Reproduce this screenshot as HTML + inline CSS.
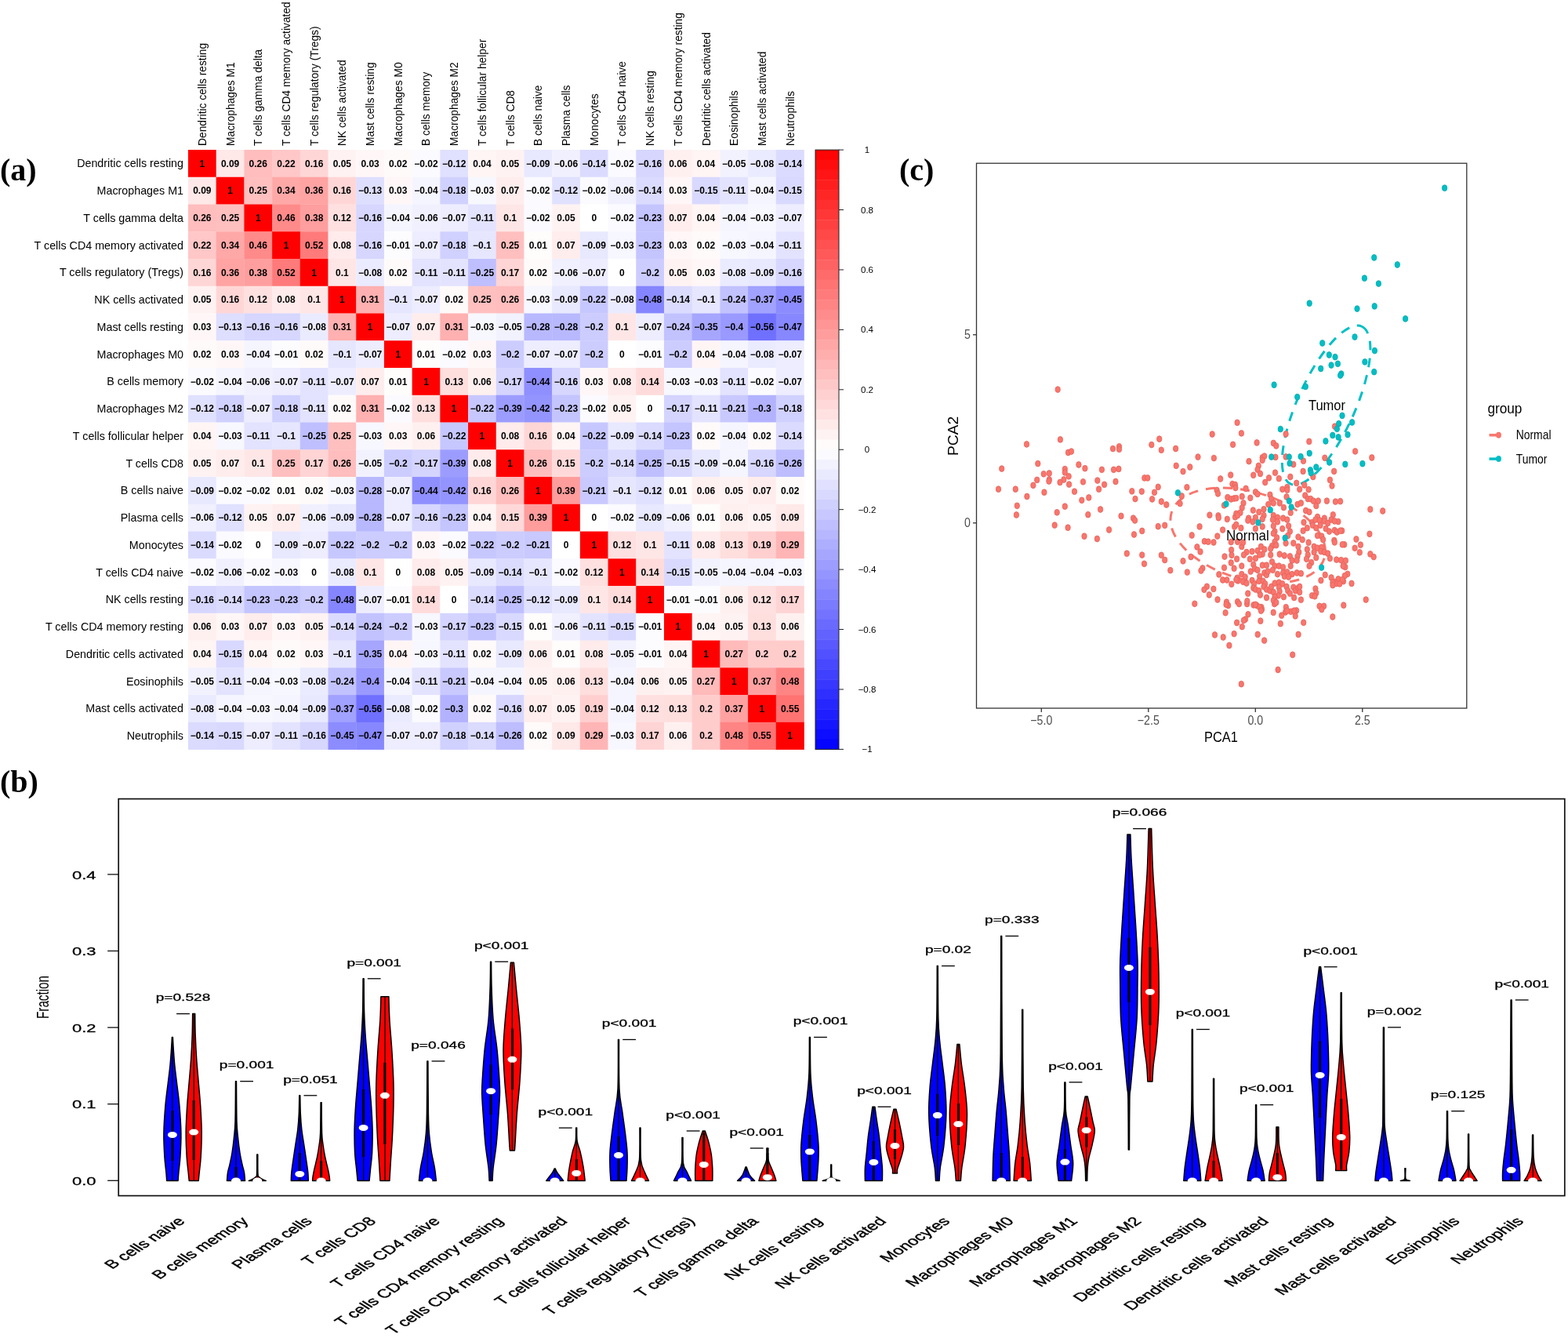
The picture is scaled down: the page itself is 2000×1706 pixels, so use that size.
<!DOCTYPE html><html><head><meta charset="utf-8"><style>html,body{margin:0;padding:0;background:#fff;width:2000px;height:1706px;overflow:hidden}svg{display:block}text{font-family:"Liberation Sans",Arial,sans-serif}.lab{font-family:"Liberation Serif","Times New Roman",serif;font-weight:bold;font-size:40px}</style></head><body>
<svg width="2000" height="1706" viewBox="0 0 2000 1706">
<rect width="2000" height="1706" fill="#fff"/>
<text class="lab" x="0" y="229.5">(a)</text>
<text class="lab" x="1147" y="229.5">(c)</text>
<text class="lab" x="0" y="1010">(b)</text>
<g>
<rect x="240.00" y="191.00" width="36.00" height="35.05" fill="#ff0000"/>
<rect x="275.70" y="191.00" width="36.00" height="35.05" fill="#ffe8e8"/>
<rect x="311.41" y="191.00" width="36.00" height="35.05" fill="#ffbdbd"/>
<rect x="347.11" y="191.00" width="36.00" height="35.05" fill="#ffc7c7"/>
<rect x="382.82" y="191.00" width="36.00" height="35.05" fill="#ffd6d6"/>
<rect x="418.52" y="191.00" width="36.00" height="35.05" fill="#fff2f2"/>
<rect x="454.23" y="191.00" width="36.00" height="35.05" fill="#fff7f7"/>
<rect x="489.93" y="191.00" width="36.00" height="35.05" fill="#fffafa"/>
<rect x="525.64" y="191.00" width="36.00" height="35.05" fill="#fafaff"/>
<rect x="561.34" y="191.00" width="36.00" height="35.05" fill="#e0e0ff"/>
<rect x="597.05" y="191.00" width="36.00" height="35.05" fill="#fff5f5"/>
<rect x="632.75" y="191.00" width="36.00" height="35.05" fill="#fff2f2"/>
<rect x="668.45" y="191.00" width="36.00" height="35.05" fill="#e8e8ff"/>
<rect x="704.16" y="191.00" width="36.00" height="35.05" fill="#f0f0ff"/>
<rect x="739.86" y="191.00" width="36.00" height="35.05" fill="#dbdbff"/>
<rect x="775.57" y="191.00" width="36.00" height="35.05" fill="#fafaff"/>
<rect x="811.27" y="191.00" width="36.00" height="35.05" fill="#d6d6ff"/>
<rect x="846.98" y="191.00" width="36.00" height="35.05" fill="#fff0f0"/>
<rect x="882.68" y="191.00" width="36.00" height="35.05" fill="#fff5f5"/>
<rect x="918.39" y="191.00" width="36.00" height="35.05" fill="#f2f2ff"/>
<rect x="954.09" y="191.00" width="36.00" height="35.05" fill="#ebebff"/>
<rect x="989.80" y="191.00" width="36.00" height="35.05" fill="#dbdbff"/>
<rect x="240.00" y="225.75" width="36.00" height="35.05" fill="#ffe8e8"/>
<rect x="275.70" y="225.75" width="36.00" height="35.05" fill="#ff0000"/>
<rect x="311.41" y="225.75" width="36.00" height="35.05" fill="#ffbfbf"/>
<rect x="347.11" y="225.75" width="36.00" height="35.05" fill="#ffa8a8"/>
<rect x="382.82" y="225.75" width="36.00" height="35.05" fill="#ffa3a3"/>
<rect x="418.52" y="225.75" width="36.00" height="35.05" fill="#ffd6d6"/>
<rect x="454.23" y="225.75" width="36.00" height="35.05" fill="#dedeff"/>
<rect x="489.93" y="225.75" width="36.00" height="35.05" fill="#fff7f7"/>
<rect x="525.64" y="225.75" width="36.00" height="35.05" fill="#f5f5ff"/>
<rect x="561.34" y="225.75" width="36.00" height="35.05" fill="#d1d1ff"/>
<rect x="597.05" y="225.75" width="36.00" height="35.05" fill="#f7f7ff"/>
<rect x="632.75" y="225.75" width="36.00" height="35.05" fill="#ffeded"/>
<rect x="668.45" y="225.75" width="36.00" height="35.05" fill="#fafaff"/>
<rect x="704.16" y="225.75" width="36.00" height="35.05" fill="#e0e0ff"/>
<rect x="739.86" y="225.75" width="36.00" height="35.05" fill="#fafaff"/>
<rect x="775.57" y="225.75" width="36.00" height="35.05" fill="#f0f0ff"/>
<rect x="811.27" y="225.75" width="36.00" height="35.05" fill="#dbdbff"/>
<rect x="846.98" y="225.75" width="36.00" height="35.05" fill="#fff7f7"/>
<rect x="882.68" y="225.75" width="36.00" height="35.05" fill="#d9d9ff"/>
<rect x="918.39" y="225.75" width="36.00" height="35.05" fill="#e3e3ff"/>
<rect x="954.09" y="225.75" width="36.00" height="35.05" fill="#f5f5ff"/>
<rect x="989.80" y="225.75" width="36.00" height="35.05" fill="#d9d9ff"/>
<rect x="240.00" y="260.51" width="36.00" height="35.05" fill="#ffbdbd"/>
<rect x="275.70" y="260.51" width="36.00" height="35.05" fill="#ffbfbf"/>
<rect x="311.41" y="260.51" width="36.00" height="35.05" fill="#ff0000"/>
<rect x="347.11" y="260.51" width="36.00" height="35.05" fill="#ff8a8a"/>
<rect x="382.82" y="260.51" width="36.00" height="35.05" fill="#ff9e9e"/>
<rect x="418.52" y="260.51" width="36.00" height="35.05" fill="#ffe0e0"/>
<rect x="454.23" y="260.51" width="36.00" height="35.05" fill="#d6d6ff"/>
<rect x="489.93" y="260.51" width="36.00" height="35.05" fill="#f5f5ff"/>
<rect x="525.64" y="260.51" width="36.00" height="35.05" fill="#f0f0ff"/>
<rect x="561.34" y="260.51" width="36.00" height="35.05" fill="#ededff"/>
<rect x="597.05" y="260.51" width="36.00" height="35.05" fill="#e3e3ff"/>
<rect x="632.75" y="260.51" width="36.00" height="35.05" fill="#ffe6e6"/>
<rect x="668.45" y="260.51" width="36.00" height="35.05" fill="#fafaff"/>
<rect x="704.16" y="260.51" width="36.00" height="35.05" fill="#fff2f2"/>
<rect x="739.86" y="260.51" width="36.00" height="35.05" fill="#ffffff"/>
<rect x="775.57" y="260.51" width="36.00" height="35.05" fill="#fafaff"/>
<rect x="811.27" y="260.51" width="36.00" height="35.05" fill="#c4c4ff"/>
<rect x="846.98" y="260.51" width="36.00" height="35.05" fill="#ffeded"/>
<rect x="882.68" y="260.51" width="36.00" height="35.05" fill="#fff5f5"/>
<rect x="918.39" y="260.51" width="36.00" height="35.05" fill="#f5f5ff"/>
<rect x="954.09" y="260.51" width="36.00" height="35.05" fill="#f7f7ff"/>
<rect x="989.80" y="260.51" width="36.00" height="35.05" fill="#ededff"/>
<rect x="240.00" y="295.26" width="36.00" height="35.05" fill="#ffc7c7"/>
<rect x="275.70" y="295.26" width="36.00" height="35.05" fill="#ffa8a8"/>
<rect x="311.41" y="295.26" width="36.00" height="35.05" fill="#ff8a8a"/>
<rect x="347.11" y="295.26" width="36.00" height="35.05" fill="#ff0000"/>
<rect x="382.82" y="295.26" width="36.00" height="35.05" fill="#ff7a7a"/>
<rect x="418.52" y="295.26" width="36.00" height="35.05" fill="#ffebeb"/>
<rect x="454.23" y="295.26" width="36.00" height="35.05" fill="#d6d6ff"/>
<rect x="489.93" y="295.26" width="36.00" height="35.05" fill="#fcfcff"/>
<rect x="525.64" y="295.26" width="36.00" height="35.05" fill="#ededff"/>
<rect x="561.34" y="295.26" width="36.00" height="35.05" fill="#d1d1ff"/>
<rect x="597.05" y="295.26" width="36.00" height="35.05" fill="#e6e6ff"/>
<rect x="632.75" y="295.26" width="36.00" height="35.05" fill="#ffbfbf"/>
<rect x="668.45" y="295.26" width="36.00" height="35.05" fill="#fffcfc"/>
<rect x="704.16" y="295.26" width="36.00" height="35.05" fill="#ffeded"/>
<rect x="739.86" y="295.26" width="36.00" height="35.05" fill="#e8e8ff"/>
<rect x="775.57" y="295.26" width="36.00" height="35.05" fill="#f7f7ff"/>
<rect x="811.27" y="295.26" width="36.00" height="35.05" fill="#c4c4ff"/>
<rect x="846.98" y="295.26" width="36.00" height="35.05" fill="#fff7f7"/>
<rect x="882.68" y="295.26" width="36.00" height="35.05" fill="#fffafa"/>
<rect x="918.39" y="295.26" width="36.00" height="35.05" fill="#f7f7ff"/>
<rect x="954.09" y="295.26" width="36.00" height="35.05" fill="#f5f5ff"/>
<rect x="989.80" y="295.26" width="36.00" height="35.05" fill="#e3e3ff"/>
<rect x="240.00" y="330.02" width="36.00" height="35.05" fill="#ffd6d6"/>
<rect x="275.70" y="330.02" width="36.00" height="35.05" fill="#ffa3a3"/>
<rect x="311.41" y="330.02" width="36.00" height="35.05" fill="#ff9e9e"/>
<rect x="347.11" y="330.02" width="36.00" height="35.05" fill="#ff7a7a"/>
<rect x="382.82" y="330.02" width="36.00" height="35.05" fill="#ff0000"/>
<rect x="418.52" y="330.02" width="36.00" height="35.05" fill="#ffe6e6"/>
<rect x="454.23" y="330.02" width="36.00" height="35.05" fill="#ebebff"/>
<rect x="489.93" y="330.02" width="36.00" height="35.05" fill="#fffafa"/>
<rect x="525.64" y="330.02" width="36.00" height="35.05" fill="#e3e3ff"/>
<rect x="561.34" y="330.02" width="36.00" height="35.05" fill="#e3e3ff"/>
<rect x="597.05" y="330.02" width="36.00" height="35.05" fill="#bfbfff"/>
<rect x="632.75" y="330.02" width="36.00" height="35.05" fill="#ffd4d4"/>
<rect x="668.45" y="330.02" width="36.00" height="35.05" fill="#fffafa"/>
<rect x="704.16" y="330.02" width="36.00" height="35.05" fill="#f0f0ff"/>
<rect x="739.86" y="330.02" width="36.00" height="35.05" fill="#ededff"/>
<rect x="775.57" y="330.02" width="36.00" height="35.05" fill="#ffffff"/>
<rect x="811.27" y="330.02" width="36.00" height="35.05" fill="#ccccff"/>
<rect x="846.98" y="330.02" width="36.00" height="35.05" fill="#fff2f2"/>
<rect x="882.68" y="330.02" width="36.00" height="35.05" fill="#fff7f7"/>
<rect x="918.39" y="330.02" width="36.00" height="35.05" fill="#ebebff"/>
<rect x="954.09" y="330.02" width="36.00" height="35.05" fill="#e8e8ff"/>
<rect x="989.80" y="330.02" width="36.00" height="35.05" fill="#d6d6ff"/>
<rect x="240.00" y="364.77" width="36.00" height="35.05" fill="#fff2f2"/>
<rect x="275.70" y="364.77" width="36.00" height="35.05" fill="#ffd6d6"/>
<rect x="311.41" y="364.77" width="36.00" height="35.05" fill="#ffe0e0"/>
<rect x="347.11" y="364.77" width="36.00" height="35.05" fill="#ffebeb"/>
<rect x="382.82" y="364.77" width="36.00" height="35.05" fill="#ffe6e6"/>
<rect x="418.52" y="364.77" width="36.00" height="35.05" fill="#ff0000"/>
<rect x="454.23" y="364.77" width="36.00" height="35.05" fill="#ffb0b0"/>
<rect x="489.93" y="364.77" width="36.00" height="35.05" fill="#e6e6ff"/>
<rect x="525.64" y="364.77" width="36.00" height="35.05" fill="#ededff"/>
<rect x="561.34" y="364.77" width="36.00" height="35.05" fill="#fffafa"/>
<rect x="597.05" y="364.77" width="36.00" height="35.05" fill="#ffbfbf"/>
<rect x="632.75" y="364.77" width="36.00" height="35.05" fill="#ffbdbd"/>
<rect x="668.45" y="364.77" width="36.00" height="35.05" fill="#f7f7ff"/>
<rect x="704.16" y="364.77" width="36.00" height="35.05" fill="#e8e8ff"/>
<rect x="739.86" y="364.77" width="36.00" height="35.05" fill="#c7c7ff"/>
<rect x="775.57" y="364.77" width="36.00" height="35.05" fill="#ebebff"/>
<rect x="811.27" y="364.77" width="36.00" height="35.05" fill="#8585ff"/>
<rect x="846.98" y="364.77" width="36.00" height="35.05" fill="#dbdbff"/>
<rect x="882.68" y="364.77" width="36.00" height="35.05" fill="#e6e6ff"/>
<rect x="918.39" y="364.77" width="36.00" height="35.05" fill="#c2c2ff"/>
<rect x="954.09" y="364.77" width="36.00" height="35.05" fill="#a1a1ff"/>
<rect x="989.80" y="364.77" width="36.00" height="35.05" fill="#8c8cff"/>
<rect x="240.00" y="399.53" width="36.00" height="35.05" fill="#fff7f7"/>
<rect x="275.70" y="399.53" width="36.00" height="35.05" fill="#dedeff"/>
<rect x="311.41" y="399.53" width="36.00" height="35.05" fill="#d6d6ff"/>
<rect x="347.11" y="399.53" width="36.00" height="35.05" fill="#d6d6ff"/>
<rect x="382.82" y="399.53" width="36.00" height="35.05" fill="#ebebff"/>
<rect x="418.52" y="399.53" width="36.00" height="35.05" fill="#ffb0b0"/>
<rect x="454.23" y="399.53" width="36.00" height="35.05" fill="#ff0000"/>
<rect x="489.93" y="399.53" width="36.00" height="35.05" fill="#ededff"/>
<rect x="525.64" y="399.53" width="36.00" height="35.05" fill="#ffeded"/>
<rect x="561.34" y="399.53" width="36.00" height="35.05" fill="#ffb0b0"/>
<rect x="597.05" y="399.53" width="36.00" height="35.05" fill="#f7f7ff"/>
<rect x="632.75" y="399.53" width="36.00" height="35.05" fill="#f2f2ff"/>
<rect x="668.45" y="399.53" width="36.00" height="35.05" fill="#b8b8ff"/>
<rect x="704.16" y="399.53" width="36.00" height="35.05" fill="#b8b8ff"/>
<rect x="739.86" y="399.53" width="36.00" height="35.05" fill="#ccccff"/>
<rect x="775.57" y="399.53" width="36.00" height="35.05" fill="#ffe6e6"/>
<rect x="811.27" y="399.53" width="36.00" height="35.05" fill="#ededff"/>
<rect x="846.98" y="399.53" width="36.00" height="35.05" fill="#c2c2ff"/>
<rect x="882.68" y="399.53" width="36.00" height="35.05" fill="#a6a6ff"/>
<rect x="918.39" y="399.53" width="36.00" height="35.05" fill="#9999ff"/>
<rect x="954.09" y="399.53" width="36.00" height="35.05" fill="#7070ff"/>
<rect x="989.80" y="399.53" width="36.00" height="35.05" fill="#8787ff"/>
<rect x="240.00" y="434.28" width="36.00" height="35.05" fill="#fffafa"/>
<rect x="275.70" y="434.28" width="36.00" height="35.05" fill="#fff7f7"/>
<rect x="311.41" y="434.28" width="36.00" height="35.05" fill="#f5f5ff"/>
<rect x="347.11" y="434.28" width="36.00" height="35.05" fill="#fcfcff"/>
<rect x="382.82" y="434.28" width="36.00" height="35.05" fill="#fffafa"/>
<rect x="418.52" y="434.28" width="36.00" height="35.05" fill="#e6e6ff"/>
<rect x="454.23" y="434.28" width="36.00" height="35.05" fill="#ededff"/>
<rect x="489.93" y="434.28" width="36.00" height="35.05" fill="#ff0000"/>
<rect x="525.64" y="434.28" width="36.00" height="35.05" fill="#fffcfc"/>
<rect x="561.34" y="434.28" width="36.00" height="35.05" fill="#fafaff"/>
<rect x="597.05" y="434.28" width="36.00" height="35.05" fill="#fff7f7"/>
<rect x="632.75" y="434.28" width="36.00" height="35.05" fill="#ccccff"/>
<rect x="668.45" y="434.28" width="36.00" height="35.05" fill="#ededff"/>
<rect x="704.16" y="434.28" width="36.00" height="35.05" fill="#ededff"/>
<rect x="739.86" y="434.28" width="36.00" height="35.05" fill="#ccccff"/>
<rect x="775.57" y="434.28" width="36.00" height="35.05" fill="#ffffff"/>
<rect x="811.27" y="434.28" width="36.00" height="35.05" fill="#fcfcff"/>
<rect x="846.98" y="434.28" width="36.00" height="35.05" fill="#ccccff"/>
<rect x="882.68" y="434.28" width="36.00" height="35.05" fill="#fff5f5"/>
<rect x="918.39" y="434.28" width="36.00" height="35.05" fill="#f5f5ff"/>
<rect x="954.09" y="434.28" width="36.00" height="35.05" fill="#ebebff"/>
<rect x="989.80" y="434.28" width="36.00" height="35.05" fill="#ededff"/>
<rect x="240.00" y="469.04" width="36.00" height="35.05" fill="#fafaff"/>
<rect x="275.70" y="469.04" width="36.00" height="35.05" fill="#f5f5ff"/>
<rect x="311.41" y="469.04" width="36.00" height="35.05" fill="#f0f0ff"/>
<rect x="347.11" y="469.04" width="36.00" height="35.05" fill="#ededff"/>
<rect x="382.82" y="469.04" width="36.00" height="35.05" fill="#e3e3ff"/>
<rect x="418.52" y="469.04" width="36.00" height="35.05" fill="#ededff"/>
<rect x="454.23" y="469.04" width="36.00" height="35.05" fill="#ffeded"/>
<rect x="489.93" y="469.04" width="36.00" height="35.05" fill="#fffcfc"/>
<rect x="525.64" y="469.04" width="36.00" height="35.05" fill="#ff0000"/>
<rect x="561.34" y="469.04" width="36.00" height="35.05" fill="#ffdede"/>
<rect x="597.05" y="469.04" width="36.00" height="35.05" fill="#fff0f0"/>
<rect x="632.75" y="469.04" width="36.00" height="35.05" fill="#d4d4ff"/>
<rect x="668.45" y="469.04" width="36.00" height="35.05" fill="#8f8fff"/>
<rect x="704.16" y="469.04" width="36.00" height="35.05" fill="#d6d6ff"/>
<rect x="739.86" y="469.04" width="36.00" height="35.05" fill="#fff7f7"/>
<rect x="775.57" y="469.04" width="36.00" height="35.05" fill="#ffebeb"/>
<rect x="811.27" y="469.04" width="36.00" height="35.05" fill="#ffdbdb"/>
<rect x="846.98" y="469.04" width="36.00" height="35.05" fill="#f7f7ff"/>
<rect x="882.68" y="469.04" width="36.00" height="35.05" fill="#f7f7ff"/>
<rect x="918.39" y="469.04" width="36.00" height="35.05" fill="#e3e3ff"/>
<rect x="954.09" y="469.04" width="36.00" height="35.05" fill="#fafaff"/>
<rect x="989.80" y="469.04" width="36.00" height="35.05" fill="#ededff"/>
<rect x="240.00" y="503.79" width="36.00" height="35.05" fill="#e0e0ff"/>
<rect x="275.70" y="503.79" width="36.00" height="35.05" fill="#d1d1ff"/>
<rect x="311.41" y="503.79" width="36.00" height="35.05" fill="#ededff"/>
<rect x="347.11" y="503.79" width="36.00" height="35.05" fill="#d1d1ff"/>
<rect x="382.82" y="503.79" width="36.00" height="35.05" fill="#e3e3ff"/>
<rect x="418.52" y="503.79" width="36.00" height="35.05" fill="#fffafa"/>
<rect x="454.23" y="503.79" width="36.00" height="35.05" fill="#ffb0b0"/>
<rect x="489.93" y="503.79" width="36.00" height="35.05" fill="#fafaff"/>
<rect x="525.64" y="503.79" width="36.00" height="35.05" fill="#ffdede"/>
<rect x="561.34" y="503.79" width="36.00" height="35.05" fill="#ff0000"/>
<rect x="597.05" y="503.79" width="36.00" height="35.05" fill="#c7c7ff"/>
<rect x="632.75" y="503.79" width="36.00" height="35.05" fill="#9c9cff"/>
<rect x="668.45" y="503.79" width="36.00" height="35.05" fill="#9494ff"/>
<rect x="704.16" y="503.79" width="36.00" height="35.05" fill="#c4c4ff"/>
<rect x="739.86" y="503.79" width="36.00" height="35.05" fill="#fafaff"/>
<rect x="775.57" y="503.79" width="36.00" height="35.05" fill="#fff2f2"/>
<rect x="811.27" y="503.79" width="36.00" height="35.05" fill="#ffffff"/>
<rect x="846.98" y="503.79" width="36.00" height="35.05" fill="#d4d4ff"/>
<rect x="882.68" y="503.79" width="36.00" height="35.05" fill="#e3e3ff"/>
<rect x="918.39" y="503.79" width="36.00" height="35.05" fill="#c9c9ff"/>
<rect x="954.09" y="503.79" width="36.00" height="35.05" fill="#b2b2ff"/>
<rect x="989.80" y="503.79" width="36.00" height="35.05" fill="#d1d1ff"/>
<rect x="240.00" y="538.55" width="36.00" height="35.05" fill="#fff5f5"/>
<rect x="275.70" y="538.55" width="36.00" height="35.05" fill="#f7f7ff"/>
<rect x="311.41" y="538.55" width="36.00" height="35.05" fill="#e3e3ff"/>
<rect x="347.11" y="538.55" width="36.00" height="35.05" fill="#e6e6ff"/>
<rect x="382.82" y="538.55" width="36.00" height="35.05" fill="#bfbfff"/>
<rect x="418.52" y="538.55" width="36.00" height="35.05" fill="#ffbfbf"/>
<rect x="454.23" y="538.55" width="36.00" height="35.05" fill="#f7f7ff"/>
<rect x="489.93" y="538.55" width="36.00" height="35.05" fill="#fff7f7"/>
<rect x="525.64" y="538.55" width="36.00" height="35.05" fill="#fff0f0"/>
<rect x="561.34" y="538.55" width="36.00" height="35.05" fill="#c7c7ff"/>
<rect x="597.05" y="538.55" width="36.00" height="35.05" fill="#ff0000"/>
<rect x="632.75" y="538.55" width="36.00" height="35.05" fill="#ffebeb"/>
<rect x="668.45" y="538.55" width="36.00" height="35.05" fill="#ffd6d6"/>
<rect x="704.16" y="538.55" width="36.00" height="35.05" fill="#fff5f5"/>
<rect x="739.86" y="538.55" width="36.00" height="35.05" fill="#c7c7ff"/>
<rect x="775.57" y="538.55" width="36.00" height="35.05" fill="#e8e8ff"/>
<rect x="811.27" y="538.55" width="36.00" height="35.05" fill="#dbdbff"/>
<rect x="846.98" y="538.55" width="36.00" height="35.05" fill="#c4c4ff"/>
<rect x="882.68" y="538.55" width="36.00" height="35.05" fill="#fffafa"/>
<rect x="918.39" y="538.55" width="36.00" height="35.05" fill="#f5f5ff"/>
<rect x="954.09" y="538.55" width="36.00" height="35.05" fill="#fffafa"/>
<rect x="989.80" y="538.55" width="36.00" height="35.05" fill="#dbdbff"/>
<rect x="240.00" y="573.30" width="36.00" height="35.05" fill="#fff2f2"/>
<rect x="275.70" y="573.30" width="36.00" height="35.05" fill="#ffeded"/>
<rect x="311.41" y="573.30" width="36.00" height="35.05" fill="#ffe6e6"/>
<rect x="347.11" y="573.30" width="36.00" height="35.05" fill="#ffbfbf"/>
<rect x="382.82" y="573.30" width="36.00" height="35.05" fill="#ffd4d4"/>
<rect x="418.52" y="573.30" width="36.00" height="35.05" fill="#ffbdbd"/>
<rect x="454.23" y="573.30" width="36.00" height="35.05" fill="#f2f2ff"/>
<rect x="489.93" y="573.30" width="36.00" height="35.05" fill="#ccccff"/>
<rect x="525.64" y="573.30" width="36.00" height="35.05" fill="#d4d4ff"/>
<rect x="561.34" y="573.30" width="36.00" height="35.05" fill="#9c9cff"/>
<rect x="597.05" y="573.30" width="36.00" height="35.05" fill="#ffebeb"/>
<rect x="632.75" y="573.30" width="36.00" height="35.05" fill="#ff0000"/>
<rect x="668.45" y="573.30" width="36.00" height="35.05" fill="#ffbdbd"/>
<rect x="704.16" y="573.30" width="36.00" height="35.05" fill="#ffd9d9"/>
<rect x="739.86" y="573.30" width="36.00" height="35.05" fill="#ccccff"/>
<rect x="775.57" y="573.30" width="36.00" height="35.05" fill="#dbdbff"/>
<rect x="811.27" y="573.30" width="36.00" height="35.05" fill="#bfbfff"/>
<rect x="846.98" y="573.30" width="36.00" height="35.05" fill="#d9d9ff"/>
<rect x="882.68" y="573.30" width="36.00" height="35.05" fill="#e8e8ff"/>
<rect x="918.39" y="573.30" width="36.00" height="35.05" fill="#f5f5ff"/>
<rect x="954.09" y="573.30" width="36.00" height="35.05" fill="#d6d6ff"/>
<rect x="989.80" y="573.30" width="36.00" height="35.05" fill="#bdbdff"/>
<rect x="240.00" y="608.05" width="36.00" height="35.05" fill="#e8e8ff"/>
<rect x="275.70" y="608.05" width="36.00" height="35.05" fill="#fafaff"/>
<rect x="311.41" y="608.05" width="36.00" height="35.05" fill="#fafaff"/>
<rect x="347.11" y="608.05" width="36.00" height="35.05" fill="#fffcfc"/>
<rect x="382.82" y="608.05" width="36.00" height="35.05" fill="#fffafa"/>
<rect x="418.52" y="608.05" width="36.00" height="35.05" fill="#f7f7ff"/>
<rect x="454.23" y="608.05" width="36.00" height="35.05" fill="#b8b8ff"/>
<rect x="489.93" y="608.05" width="36.00" height="35.05" fill="#ededff"/>
<rect x="525.64" y="608.05" width="36.00" height="35.05" fill="#8f8fff"/>
<rect x="561.34" y="608.05" width="36.00" height="35.05" fill="#9494ff"/>
<rect x="597.05" y="608.05" width="36.00" height="35.05" fill="#ffd6d6"/>
<rect x="632.75" y="608.05" width="36.00" height="35.05" fill="#ffbdbd"/>
<rect x="668.45" y="608.05" width="36.00" height="35.05" fill="#ff0000"/>
<rect x="704.16" y="608.05" width="36.00" height="35.05" fill="#ff9c9c"/>
<rect x="739.86" y="608.05" width="36.00" height="35.05" fill="#c9c9ff"/>
<rect x="775.57" y="608.05" width="36.00" height="35.05" fill="#e6e6ff"/>
<rect x="811.27" y="608.05" width="36.00" height="35.05" fill="#e0e0ff"/>
<rect x="846.98" y="608.05" width="36.00" height="35.05" fill="#fffcfc"/>
<rect x="882.68" y="608.05" width="36.00" height="35.05" fill="#fff0f0"/>
<rect x="918.39" y="608.05" width="36.00" height="35.05" fill="#fff2f2"/>
<rect x="954.09" y="608.05" width="36.00" height="35.05" fill="#ffeded"/>
<rect x="989.80" y="608.05" width="36.00" height="35.05" fill="#fffafa"/>
<rect x="240.00" y="642.81" width="36.00" height="35.05" fill="#f0f0ff"/>
<rect x="275.70" y="642.81" width="36.00" height="35.05" fill="#e0e0ff"/>
<rect x="311.41" y="642.81" width="36.00" height="35.05" fill="#fff2f2"/>
<rect x="347.11" y="642.81" width="36.00" height="35.05" fill="#ffeded"/>
<rect x="382.82" y="642.81" width="36.00" height="35.05" fill="#f0f0ff"/>
<rect x="418.52" y="642.81" width="36.00" height="35.05" fill="#e8e8ff"/>
<rect x="454.23" y="642.81" width="36.00" height="35.05" fill="#b8b8ff"/>
<rect x="489.93" y="642.81" width="36.00" height="35.05" fill="#ededff"/>
<rect x="525.64" y="642.81" width="36.00" height="35.05" fill="#d6d6ff"/>
<rect x="561.34" y="642.81" width="36.00" height="35.05" fill="#c4c4ff"/>
<rect x="597.05" y="642.81" width="36.00" height="35.05" fill="#fff5f5"/>
<rect x="632.75" y="642.81" width="36.00" height="35.05" fill="#ffd9d9"/>
<rect x="668.45" y="642.81" width="36.00" height="35.05" fill="#ff9c9c"/>
<rect x="704.16" y="642.81" width="36.00" height="35.05" fill="#ff0000"/>
<rect x="739.86" y="642.81" width="36.00" height="35.05" fill="#ffffff"/>
<rect x="775.57" y="642.81" width="36.00" height="35.05" fill="#fafaff"/>
<rect x="811.27" y="642.81" width="36.00" height="35.05" fill="#e8e8ff"/>
<rect x="846.98" y="642.81" width="36.00" height="35.05" fill="#f0f0ff"/>
<rect x="882.68" y="642.81" width="36.00" height="35.05" fill="#fffcfc"/>
<rect x="918.39" y="642.81" width="36.00" height="35.05" fill="#fff0f0"/>
<rect x="954.09" y="642.81" width="36.00" height="35.05" fill="#fff2f2"/>
<rect x="989.80" y="642.81" width="36.00" height="35.05" fill="#ffe8e8"/>
<rect x="240.00" y="677.56" width="36.00" height="35.05" fill="#dbdbff"/>
<rect x="275.70" y="677.56" width="36.00" height="35.05" fill="#fafaff"/>
<rect x="311.41" y="677.56" width="36.00" height="35.05" fill="#ffffff"/>
<rect x="347.11" y="677.56" width="36.00" height="35.05" fill="#e8e8ff"/>
<rect x="382.82" y="677.56" width="36.00" height="35.05" fill="#ededff"/>
<rect x="418.52" y="677.56" width="36.00" height="35.05" fill="#c7c7ff"/>
<rect x="454.23" y="677.56" width="36.00" height="35.05" fill="#ccccff"/>
<rect x="489.93" y="677.56" width="36.00" height="35.05" fill="#ccccff"/>
<rect x="525.64" y="677.56" width="36.00" height="35.05" fill="#fff7f7"/>
<rect x="561.34" y="677.56" width="36.00" height="35.05" fill="#fafaff"/>
<rect x="597.05" y="677.56" width="36.00" height="35.05" fill="#c7c7ff"/>
<rect x="632.75" y="677.56" width="36.00" height="35.05" fill="#ccccff"/>
<rect x="668.45" y="677.56" width="36.00" height="35.05" fill="#c9c9ff"/>
<rect x="704.16" y="677.56" width="36.00" height="35.05" fill="#ffffff"/>
<rect x="739.86" y="677.56" width="36.00" height="35.05" fill="#ff0000"/>
<rect x="775.57" y="677.56" width="36.00" height="35.05" fill="#ffe0e0"/>
<rect x="811.27" y="677.56" width="36.00" height="35.05" fill="#ffe6e6"/>
<rect x="846.98" y="677.56" width="36.00" height="35.05" fill="#e3e3ff"/>
<rect x="882.68" y="677.56" width="36.00" height="35.05" fill="#ffebeb"/>
<rect x="918.39" y="677.56" width="36.00" height="35.05" fill="#ffdede"/>
<rect x="954.09" y="677.56" width="36.00" height="35.05" fill="#ffcfcf"/>
<rect x="989.80" y="677.56" width="36.00" height="35.05" fill="#ffb5b5"/>
<rect x="240.00" y="712.32" width="36.00" height="35.05" fill="#fafaff"/>
<rect x="275.70" y="712.32" width="36.00" height="35.05" fill="#f0f0ff"/>
<rect x="311.41" y="712.32" width="36.00" height="35.05" fill="#fafaff"/>
<rect x="347.11" y="712.32" width="36.00" height="35.05" fill="#f7f7ff"/>
<rect x="382.82" y="712.32" width="36.00" height="35.05" fill="#ffffff"/>
<rect x="418.52" y="712.32" width="36.00" height="35.05" fill="#ebebff"/>
<rect x="454.23" y="712.32" width="36.00" height="35.05" fill="#ffe6e6"/>
<rect x="489.93" y="712.32" width="36.00" height="35.05" fill="#ffffff"/>
<rect x="525.64" y="712.32" width="36.00" height="35.05" fill="#ffebeb"/>
<rect x="561.34" y="712.32" width="36.00" height="35.05" fill="#fff2f2"/>
<rect x="597.05" y="712.32" width="36.00" height="35.05" fill="#e8e8ff"/>
<rect x="632.75" y="712.32" width="36.00" height="35.05" fill="#dbdbff"/>
<rect x="668.45" y="712.32" width="36.00" height="35.05" fill="#e6e6ff"/>
<rect x="704.16" y="712.32" width="36.00" height="35.05" fill="#fafaff"/>
<rect x="739.86" y="712.32" width="36.00" height="35.05" fill="#ffe0e0"/>
<rect x="775.57" y="712.32" width="36.00" height="35.05" fill="#ff0000"/>
<rect x="811.27" y="712.32" width="36.00" height="35.05" fill="#ffdbdb"/>
<rect x="846.98" y="712.32" width="36.00" height="35.05" fill="#d9d9ff"/>
<rect x="882.68" y="712.32" width="36.00" height="35.05" fill="#f2f2ff"/>
<rect x="918.39" y="712.32" width="36.00" height="35.05" fill="#f5f5ff"/>
<rect x="954.09" y="712.32" width="36.00" height="35.05" fill="#f5f5ff"/>
<rect x="989.80" y="712.32" width="36.00" height="35.05" fill="#f7f7ff"/>
<rect x="240.00" y="747.07" width="36.00" height="35.05" fill="#d6d6ff"/>
<rect x="275.70" y="747.07" width="36.00" height="35.05" fill="#dbdbff"/>
<rect x="311.41" y="747.07" width="36.00" height="35.05" fill="#c4c4ff"/>
<rect x="347.11" y="747.07" width="36.00" height="35.05" fill="#c4c4ff"/>
<rect x="382.82" y="747.07" width="36.00" height="35.05" fill="#ccccff"/>
<rect x="418.52" y="747.07" width="36.00" height="35.05" fill="#8585ff"/>
<rect x="454.23" y="747.07" width="36.00" height="35.05" fill="#ededff"/>
<rect x="489.93" y="747.07" width="36.00" height="35.05" fill="#fcfcff"/>
<rect x="525.64" y="747.07" width="36.00" height="35.05" fill="#ffdbdb"/>
<rect x="561.34" y="747.07" width="36.00" height="35.05" fill="#ffffff"/>
<rect x="597.05" y="747.07" width="36.00" height="35.05" fill="#dbdbff"/>
<rect x="632.75" y="747.07" width="36.00" height="35.05" fill="#bfbfff"/>
<rect x="668.45" y="747.07" width="36.00" height="35.05" fill="#e0e0ff"/>
<rect x="704.16" y="747.07" width="36.00" height="35.05" fill="#e8e8ff"/>
<rect x="739.86" y="747.07" width="36.00" height="35.05" fill="#ffe6e6"/>
<rect x="775.57" y="747.07" width="36.00" height="35.05" fill="#ffdbdb"/>
<rect x="811.27" y="747.07" width="36.00" height="35.05" fill="#ff0000"/>
<rect x="846.98" y="747.07" width="36.00" height="35.05" fill="#fcfcff"/>
<rect x="882.68" y="747.07" width="36.00" height="35.05" fill="#fcfcff"/>
<rect x="918.39" y="747.07" width="36.00" height="35.05" fill="#fff0f0"/>
<rect x="954.09" y="747.07" width="36.00" height="35.05" fill="#ffe0e0"/>
<rect x="989.80" y="747.07" width="36.00" height="35.05" fill="#ffd4d4"/>
<rect x="240.00" y="781.83" width="36.00" height="35.05" fill="#fff0f0"/>
<rect x="275.70" y="781.83" width="36.00" height="35.05" fill="#fff7f7"/>
<rect x="311.41" y="781.83" width="36.00" height="35.05" fill="#ffeded"/>
<rect x="347.11" y="781.83" width="36.00" height="35.05" fill="#fff7f7"/>
<rect x="382.82" y="781.83" width="36.00" height="35.05" fill="#fff2f2"/>
<rect x="418.52" y="781.83" width="36.00" height="35.05" fill="#dbdbff"/>
<rect x="454.23" y="781.83" width="36.00" height="35.05" fill="#c2c2ff"/>
<rect x="489.93" y="781.83" width="36.00" height="35.05" fill="#ccccff"/>
<rect x="525.64" y="781.83" width="36.00" height="35.05" fill="#f7f7ff"/>
<rect x="561.34" y="781.83" width="36.00" height="35.05" fill="#d4d4ff"/>
<rect x="597.05" y="781.83" width="36.00" height="35.05" fill="#c4c4ff"/>
<rect x="632.75" y="781.83" width="36.00" height="35.05" fill="#d9d9ff"/>
<rect x="668.45" y="781.83" width="36.00" height="35.05" fill="#fffcfc"/>
<rect x="704.16" y="781.83" width="36.00" height="35.05" fill="#f0f0ff"/>
<rect x="739.86" y="781.83" width="36.00" height="35.05" fill="#e3e3ff"/>
<rect x="775.57" y="781.83" width="36.00" height="35.05" fill="#d9d9ff"/>
<rect x="811.27" y="781.83" width="36.00" height="35.05" fill="#fcfcff"/>
<rect x="846.98" y="781.83" width="36.00" height="35.05" fill="#ff0000"/>
<rect x="882.68" y="781.83" width="36.00" height="35.05" fill="#fff5f5"/>
<rect x="918.39" y="781.83" width="36.00" height="35.05" fill="#fff2f2"/>
<rect x="954.09" y="781.83" width="36.00" height="35.05" fill="#ffdede"/>
<rect x="989.80" y="781.83" width="36.00" height="35.05" fill="#fff0f0"/>
<rect x="240.00" y="816.58" width="36.00" height="35.05" fill="#fff5f5"/>
<rect x="275.70" y="816.58" width="36.00" height="35.05" fill="#d9d9ff"/>
<rect x="311.41" y="816.58" width="36.00" height="35.05" fill="#fff5f5"/>
<rect x="347.11" y="816.58" width="36.00" height="35.05" fill="#fffafa"/>
<rect x="382.82" y="816.58" width="36.00" height="35.05" fill="#fff7f7"/>
<rect x="418.52" y="816.58" width="36.00" height="35.05" fill="#e6e6ff"/>
<rect x="454.23" y="816.58" width="36.00" height="35.05" fill="#a6a6ff"/>
<rect x="489.93" y="816.58" width="36.00" height="35.05" fill="#fff5f5"/>
<rect x="525.64" y="816.58" width="36.00" height="35.05" fill="#f7f7ff"/>
<rect x="561.34" y="816.58" width="36.00" height="35.05" fill="#e3e3ff"/>
<rect x="597.05" y="816.58" width="36.00" height="35.05" fill="#fffafa"/>
<rect x="632.75" y="816.58" width="36.00" height="35.05" fill="#e8e8ff"/>
<rect x="668.45" y="816.58" width="36.00" height="35.05" fill="#fff0f0"/>
<rect x="704.16" y="816.58" width="36.00" height="35.05" fill="#fffcfc"/>
<rect x="739.86" y="816.58" width="36.00" height="35.05" fill="#ffebeb"/>
<rect x="775.57" y="816.58" width="36.00" height="35.05" fill="#f2f2ff"/>
<rect x="811.27" y="816.58" width="36.00" height="35.05" fill="#fcfcff"/>
<rect x="846.98" y="816.58" width="36.00" height="35.05" fill="#fff5f5"/>
<rect x="882.68" y="816.58" width="36.00" height="35.05" fill="#ff0000"/>
<rect x="918.39" y="816.58" width="36.00" height="35.05" fill="#ffbaba"/>
<rect x="954.09" y="816.58" width="36.00" height="35.05" fill="#ffcccc"/>
<rect x="989.80" y="816.58" width="36.00" height="35.05" fill="#ffcccc"/>
<rect x="240.00" y="851.34" width="36.00" height="35.05" fill="#f2f2ff"/>
<rect x="275.70" y="851.34" width="36.00" height="35.05" fill="#e3e3ff"/>
<rect x="311.41" y="851.34" width="36.00" height="35.05" fill="#f5f5ff"/>
<rect x="347.11" y="851.34" width="36.00" height="35.05" fill="#f7f7ff"/>
<rect x="382.82" y="851.34" width="36.00" height="35.05" fill="#ebebff"/>
<rect x="418.52" y="851.34" width="36.00" height="35.05" fill="#c2c2ff"/>
<rect x="454.23" y="851.34" width="36.00" height="35.05" fill="#9999ff"/>
<rect x="489.93" y="851.34" width="36.00" height="35.05" fill="#f5f5ff"/>
<rect x="525.64" y="851.34" width="36.00" height="35.05" fill="#e3e3ff"/>
<rect x="561.34" y="851.34" width="36.00" height="35.05" fill="#c9c9ff"/>
<rect x="597.05" y="851.34" width="36.00" height="35.05" fill="#f5f5ff"/>
<rect x="632.75" y="851.34" width="36.00" height="35.05" fill="#f5f5ff"/>
<rect x="668.45" y="851.34" width="36.00" height="35.05" fill="#fff2f2"/>
<rect x="704.16" y="851.34" width="36.00" height="35.05" fill="#fff0f0"/>
<rect x="739.86" y="851.34" width="36.00" height="35.05" fill="#ffdede"/>
<rect x="775.57" y="851.34" width="36.00" height="35.05" fill="#f5f5ff"/>
<rect x="811.27" y="851.34" width="36.00" height="35.05" fill="#fff0f0"/>
<rect x="846.98" y="851.34" width="36.00" height="35.05" fill="#fff2f2"/>
<rect x="882.68" y="851.34" width="36.00" height="35.05" fill="#ffbaba"/>
<rect x="918.39" y="851.34" width="36.00" height="35.05" fill="#ff0000"/>
<rect x="954.09" y="851.34" width="36.00" height="35.05" fill="#ffa1a1"/>
<rect x="989.80" y="851.34" width="36.00" height="35.05" fill="#ff8585"/>
<rect x="240.00" y="886.09" width="36.00" height="35.05" fill="#ebebff"/>
<rect x="275.70" y="886.09" width="36.00" height="35.05" fill="#f5f5ff"/>
<rect x="311.41" y="886.09" width="36.00" height="35.05" fill="#f7f7ff"/>
<rect x="347.11" y="886.09" width="36.00" height="35.05" fill="#f5f5ff"/>
<rect x="382.82" y="886.09" width="36.00" height="35.05" fill="#e8e8ff"/>
<rect x="418.52" y="886.09" width="36.00" height="35.05" fill="#a1a1ff"/>
<rect x="454.23" y="886.09" width="36.00" height="35.05" fill="#7070ff"/>
<rect x="489.93" y="886.09" width="36.00" height="35.05" fill="#ebebff"/>
<rect x="525.64" y="886.09" width="36.00" height="35.05" fill="#fafaff"/>
<rect x="561.34" y="886.09" width="36.00" height="35.05" fill="#b2b2ff"/>
<rect x="597.05" y="886.09" width="36.00" height="35.05" fill="#fffafa"/>
<rect x="632.75" y="886.09" width="36.00" height="35.05" fill="#d6d6ff"/>
<rect x="668.45" y="886.09" width="36.00" height="35.05" fill="#ffeded"/>
<rect x="704.16" y="886.09" width="36.00" height="35.05" fill="#fff2f2"/>
<rect x="739.86" y="886.09" width="36.00" height="35.05" fill="#ffcfcf"/>
<rect x="775.57" y="886.09" width="36.00" height="35.05" fill="#f5f5ff"/>
<rect x="811.27" y="886.09" width="36.00" height="35.05" fill="#ffe0e0"/>
<rect x="846.98" y="886.09" width="36.00" height="35.05" fill="#ffdede"/>
<rect x="882.68" y="886.09" width="36.00" height="35.05" fill="#ffcccc"/>
<rect x="918.39" y="886.09" width="36.00" height="35.05" fill="#ffa1a1"/>
<rect x="954.09" y="886.09" width="36.00" height="35.05" fill="#ff0000"/>
<rect x="989.80" y="886.09" width="36.00" height="35.05" fill="#ff7373"/>
<rect x="240.00" y="920.85" width="36.00" height="35.05" fill="#dbdbff"/>
<rect x="275.70" y="920.85" width="36.00" height="35.05" fill="#d9d9ff"/>
<rect x="311.41" y="920.85" width="36.00" height="35.05" fill="#ededff"/>
<rect x="347.11" y="920.85" width="36.00" height="35.05" fill="#e3e3ff"/>
<rect x="382.82" y="920.85" width="36.00" height="35.05" fill="#d6d6ff"/>
<rect x="418.52" y="920.85" width="36.00" height="35.05" fill="#8c8cff"/>
<rect x="454.23" y="920.85" width="36.00" height="35.05" fill="#8787ff"/>
<rect x="489.93" y="920.85" width="36.00" height="35.05" fill="#ededff"/>
<rect x="525.64" y="920.85" width="36.00" height="35.05" fill="#ededff"/>
<rect x="561.34" y="920.85" width="36.00" height="35.05" fill="#d1d1ff"/>
<rect x="597.05" y="920.85" width="36.00" height="35.05" fill="#dbdbff"/>
<rect x="632.75" y="920.85" width="36.00" height="35.05" fill="#bdbdff"/>
<rect x="668.45" y="920.85" width="36.00" height="35.05" fill="#fffafa"/>
<rect x="704.16" y="920.85" width="36.00" height="35.05" fill="#ffe8e8"/>
<rect x="739.86" y="920.85" width="36.00" height="35.05" fill="#ffb5b5"/>
<rect x="775.57" y="920.85" width="36.00" height="35.05" fill="#f7f7ff"/>
<rect x="811.27" y="920.85" width="36.00" height="35.05" fill="#ffd4d4"/>
<rect x="846.98" y="920.85" width="36.00" height="35.05" fill="#fff0f0"/>
<rect x="882.68" y="920.85" width="36.00" height="35.05" fill="#ffcccc"/>
<rect x="918.39" y="920.85" width="36.00" height="35.05" fill="#ff8585"/>
<rect x="954.09" y="920.85" width="36.00" height="35.05" fill="#ff7373"/>
<rect x="989.80" y="920.85" width="36.00" height="35.05" fill="#ff0000"/>
</g>
<g font-weight="bold" font-size="12" text-anchor="middle" fill="#000">
<text x="257.85" y="212.58">1</text>
<text x="293.56" y="212.58">0.09</text>
<text x="329.26" y="212.58">0.26</text>
<text x="364.97" y="212.58">0.22</text>
<text x="400.67" y="212.58">0.16</text>
<text x="436.38" y="212.58">0.05</text>
<text x="472.08" y="212.58">0.03</text>
<text x="507.78" y="212.58">0.02</text>
<text x="543.49" y="212.58">−0.02</text>
<text x="579.19" y="212.58">−0.12</text>
<text x="614.90" y="212.58">0.04</text>
<text x="650.60" y="212.58">0.05</text>
<text x="686.31" y="212.58">−0.09</text>
<text x="722.01" y="212.58">−0.06</text>
<text x="757.72" y="212.58">−0.14</text>
<text x="793.42" y="212.58">−0.02</text>
<text x="829.12" y="212.58">−0.16</text>
<text x="864.83" y="212.58">0.06</text>
<text x="900.53" y="212.58">0.04</text>
<text x="936.24" y="212.58">−0.05</text>
<text x="971.94" y="212.58">−0.08</text>
<text x="1007.65" y="212.58">−0.14</text>
<text x="257.85" y="247.33">0.09</text>
<text x="293.56" y="247.33">1</text>
<text x="329.26" y="247.33">0.25</text>
<text x="364.97" y="247.33">0.34</text>
<text x="400.67" y="247.33">0.36</text>
<text x="436.38" y="247.33">0.16</text>
<text x="472.08" y="247.33">−0.13</text>
<text x="507.78" y="247.33">0.03</text>
<text x="543.49" y="247.33">−0.04</text>
<text x="579.19" y="247.33">−0.18</text>
<text x="614.90" y="247.33">−0.03</text>
<text x="650.60" y="247.33">0.07</text>
<text x="686.31" y="247.33">−0.02</text>
<text x="722.01" y="247.33">−0.12</text>
<text x="757.72" y="247.33">−0.02</text>
<text x="793.42" y="247.33">−0.06</text>
<text x="829.12" y="247.33">−0.14</text>
<text x="864.83" y="247.33">0.03</text>
<text x="900.53" y="247.33">−0.15</text>
<text x="936.24" y="247.33">−0.11</text>
<text x="971.94" y="247.33">−0.04</text>
<text x="1007.65" y="247.33">−0.15</text>
<text x="257.85" y="282.09">0.26</text>
<text x="293.56" y="282.09">0.25</text>
<text x="329.26" y="282.09">1</text>
<text x="364.97" y="282.09">0.46</text>
<text x="400.67" y="282.09">0.38</text>
<text x="436.38" y="282.09">0.12</text>
<text x="472.08" y="282.09">−0.16</text>
<text x="507.78" y="282.09">−0.04</text>
<text x="543.49" y="282.09">−0.06</text>
<text x="579.19" y="282.09">−0.07</text>
<text x="614.90" y="282.09">−0.11</text>
<text x="650.60" y="282.09">0.1</text>
<text x="686.31" y="282.09">−0.02</text>
<text x="722.01" y="282.09">0.05</text>
<text x="757.72" y="282.09">0</text>
<text x="793.42" y="282.09">−0.02</text>
<text x="829.12" y="282.09">−0.23</text>
<text x="864.83" y="282.09">0.07</text>
<text x="900.53" y="282.09">0.04</text>
<text x="936.24" y="282.09">−0.04</text>
<text x="971.94" y="282.09">−0.03</text>
<text x="1007.65" y="282.09">−0.07</text>
<text x="257.85" y="316.84">0.22</text>
<text x="293.56" y="316.84">0.34</text>
<text x="329.26" y="316.84">0.46</text>
<text x="364.97" y="316.84">1</text>
<text x="400.67" y="316.84">0.52</text>
<text x="436.38" y="316.84">0.08</text>
<text x="472.08" y="316.84">−0.16</text>
<text x="507.78" y="316.84">−0.01</text>
<text x="543.49" y="316.84">−0.07</text>
<text x="579.19" y="316.84">−0.18</text>
<text x="614.90" y="316.84">−0.1</text>
<text x="650.60" y="316.84">0.25</text>
<text x="686.31" y="316.84">0.01</text>
<text x="722.01" y="316.84">0.07</text>
<text x="757.72" y="316.84">−0.09</text>
<text x="793.42" y="316.84">−0.03</text>
<text x="829.12" y="316.84">−0.23</text>
<text x="864.83" y="316.84">0.03</text>
<text x="900.53" y="316.84">0.02</text>
<text x="936.24" y="316.84">−0.03</text>
<text x="971.94" y="316.84">−0.04</text>
<text x="1007.65" y="316.84">−0.11</text>
<text x="257.85" y="351.60">0.16</text>
<text x="293.56" y="351.60">0.36</text>
<text x="329.26" y="351.60">0.38</text>
<text x="364.97" y="351.60">0.52</text>
<text x="400.67" y="351.60">1</text>
<text x="436.38" y="351.60">0.1</text>
<text x="472.08" y="351.60">−0.08</text>
<text x="507.78" y="351.60">0.02</text>
<text x="543.49" y="351.60">−0.11</text>
<text x="579.19" y="351.60">−0.11</text>
<text x="614.90" y="351.60">−0.25</text>
<text x="650.60" y="351.60">0.17</text>
<text x="686.31" y="351.60">0.02</text>
<text x="722.01" y="351.60">−0.06</text>
<text x="757.72" y="351.60">−0.07</text>
<text x="793.42" y="351.60">0</text>
<text x="829.12" y="351.60">−0.2</text>
<text x="864.83" y="351.60">0.05</text>
<text x="900.53" y="351.60">0.03</text>
<text x="936.24" y="351.60">−0.08</text>
<text x="971.94" y="351.60">−0.09</text>
<text x="1007.65" y="351.60">−0.16</text>
<text x="257.85" y="386.35">0.05</text>
<text x="293.56" y="386.35">0.16</text>
<text x="329.26" y="386.35">0.12</text>
<text x="364.97" y="386.35">0.08</text>
<text x="400.67" y="386.35">0.1</text>
<text x="436.38" y="386.35">1</text>
<text x="472.08" y="386.35">0.31</text>
<text x="507.78" y="386.35">−0.1</text>
<text x="543.49" y="386.35">−0.07</text>
<text x="579.19" y="386.35">0.02</text>
<text x="614.90" y="386.35">0.25</text>
<text x="650.60" y="386.35">0.26</text>
<text x="686.31" y="386.35">−0.03</text>
<text x="722.01" y="386.35">−0.09</text>
<text x="757.72" y="386.35">−0.22</text>
<text x="793.42" y="386.35">−0.08</text>
<text x="829.12" y="386.35">−0.48</text>
<text x="864.83" y="386.35">−0.14</text>
<text x="900.53" y="386.35">−0.1</text>
<text x="936.24" y="386.35">−0.24</text>
<text x="971.94" y="386.35">−0.37</text>
<text x="1007.65" y="386.35">−0.45</text>
<text x="257.85" y="421.10">0.03</text>
<text x="293.56" y="421.10">−0.13</text>
<text x="329.26" y="421.10">−0.16</text>
<text x="364.97" y="421.10">−0.16</text>
<text x="400.67" y="421.10">−0.08</text>
<text x="436.38" y="421.10">0.31</text>
<text x="472.08" y="421.10">1</text>
<text x="507.78" y="421.10">−0.07</text>
<text x="543.49" y="421.10">0.07</text>
<text x="579.19" y="421.10">0.31</text>
<text x="614.90" y="421.10">−0.03</text>
<text x="650.60" y="421.10">−0.05</text>
<text x="686.31" y="421.10">−0.28</text>
<text x="722.01" y="421.10">−0.28</text>
<text x="757.72" y="421.10">−0.2</text>
<text x="793.42" y="421.10">0.1</text>
<text x="829.12" y="421.10">−0.07</text>
<text x="864.83" y="421.10">−0.24</text>
<text x="900.53" y="421.10">−0.35</text>
<text x="936.24" y="421.10">−0.4</text>
<text x="971.94" y="421.10">−0.56</text>
<text x="1007.65" y="421.10">−0.47</text>
<text x="257.85" y="455.86">0.02</text>
<text x="293.56" y="455.86">0.03</text>
<text x="329.26" y="455.86">−0.04</text>
<text x="364.97" y="455.86">−0.01</text>
<text x="400.67" y="455.86">0.02</text>
<text x="436.38" y="455.86">−0.1</text>
<text x="472.08" y="455.86">−0.07</text>
<text x="507.78" y="455.86">1</text>
<text x="543.49" y="455.86">0.01</text>
<text x="579.19" y="455.86">−0.02</text>
<text x="614.90" y="455.86">0.03</text>
<text x="650.60" y="455.86">−0.2</text>
<text x="686.31" y="455.86">−0.07</text>
<text x="722.01" y="455.86">−0.07</text>
<text x="757.72" y="455.86">−0.2</text>
<text x="793.42" y="455.86">0</text>
<text x="829.12" y="455.86">−0.01</text>
<text x="864.83" y="455.86">−0.2</text>
<text x="900.53" y="455.86">0.04</text>
<text x="936.24" y="455.86">−0.04</text>
<text x="971.94" y="455.86">−0.08</text>
<text x="1007.65" y="455.86">−0.07</text>
<text x="257.85" y="490.61">−0.02</text>
<text x="293.56" y="490.61">−0.04</text>
<text x="329.26" y="490.61">−0.06</text>
<text x="364.97" y="490.61">−0.07</text>
<text x="400.67" y="490.61">−0.11</text>
<text x="436.38" y="490.61">−0.07</text>
<text x="472.08" y="490.61">0.07</text>
<text x="507.78" y="490.61">0.01</text>
<text x="543.49" y="490.61">1</text>
<text x="579.19" y="490.61">0.13</text>
<text x="614.90" y="490.61">0.06</text>
<text x="650.60" y="490.61">−0.17</text>
<text x="686.31" y="490.61">−0.44</text>
<text x="722.01" y="490.61">−0.16</text>
<text x="757.72" y="490.61">0.03</text>
<text x="793.42" y="490.61">0.08</text>
<text x="829.12" y="490.61">0.14</text>
<text x="864.83" y="490.61">−0.03</text>
<text x="900.53" y="490.61">−0.03</text>
<text x="936.24" y="490.61">−0.11</text>
<text x="971.94" y="490.61">−0.02</text>
<text x="1007.65" y="490.61">−0.07</text>
<text x="257.85" y="525.37">−0.12</text>
<text x="293.56" y="525.37">−0.18</text>
<text x="329.26" y="525.37">−0.07</text>
<text x="364.97" y="525.37">−0.18</text>
<text x="400.67" y="525.37">−0.11</text>
<text x="436.38" y="525.37">0.02</text>
<text x="472.08" y="525.37">0.31</text>
<text x="507.78" y="525.37">−0.02</text>
<text x="543.49" y="525.37">0.13</text>
<text x="579.19" y="525.37">1</text>
<text x="614.90" y="525.37">−0.22</text>
<text x="650.60" y="525.37">−0.39</text>
<text x="686.31" y="525.37">−0.42</text>
<text x="722.01" y="525.37">−0.23</text>
<text x="757.72" y="525.37">−0.02</text>
<text x="793.42" y="525.37">0.05</text>
<text x="829.12" y="525.37">0</text>
<text x="864.83" y="525.37">−0.17</text>
<text x="900.53" y="525.37">−0.11</text>
<text x="936.24" y="525.37">−0.21</text>
<text x="971.94" y="525.37">−0.3</text>
<text x="1007.65" y="525.37">−0.18</text>
<text x="257.85" y="560.12">0.04</text>
<text x="293.56" y="560.12">−0.03</text>
<text x="329.26" y="560.12">−0.11</text>
<text x="364.97" y="560.12">−0.1</text>
<text x="400.67" y="560.12">−0.25</text>
<text x="436.38" y="560.12">0.25</text>
<text x="472.08" y="560.12">−0.03</text>
<text x="507.78" y="560.12">0.03</text>
<text x="543.49" y="560.12">0.06</text>
<text x="579.19" y="560.12">−0.22</text>
<text x="614.90" y="560.12">1</text>
<text x="650.60" y="560.12">0.08</text>
<text x="686.31" y="560.12">0.16</text>
<text x="722.01" y="560.12">0.04</text>
<text x="757.72" y="560.12">−0.22</text>
<text x="793.42" y="560.12">−0.09</text>
<text x="829.12" y="560.12">−0.14</text>
<text x="864.83" y="560.12">−0.23</text>
<text x="900.53" y="560.12">0.02</text>
<text x="936.24" y="560.12">−0.04</text>
<text x="971.94" y="560.12">0.02</text>
<text x="1007.65" y="560.12">−0.14</text>
<text x="257.85" y="594.88">0.05</text>
<text x="293.56" y="594.88">0.07</text>
<text x="329.26" y="594.88">0.1</text>
<text x="364.97" y="594.88">0.25</text>
<text x="400.67" y="594.88">0.17</text>
<text x="436.38" y="594.88">0.26</text>
<text x="472.08" y="594.88">−0.05</text>
<text x="507.78" y="594.88">−0.2</text>
<text x="543.49" y="594.88">−0.17</text>
<text x="579.19" y="594.88">−0.39</text>
<text x="614.90" y="594.88">0.08</text>
<text x="650.60" y="594.88">1</text>
<text x="686.31" y="594.88">0.26</text>
<text x="722.01" y="594.88">0.15</text>
<text x="757.72" y="594.88">−0.2</text>
<text x="793.42" y="594.88">−0.14</text>
<text x="829.12" y="594.88">−0.25</text>
<text x="864.83" y="594.88">−0.15</text>
<text x="900.53" y="594.88">−0.09</text>
<text x="936.24" y="594.88">−0.04</text>
<text x="971.94" y="594.88">−0.16</text>
<text x="1007.65" y="594.88">−0.26</text>
<text x="257.85" y="629.63">−0.09</text>
<text x="293.56" y="629.63">−0.02</text>
<text x="329.26" y="629.63">−0.02</text>
<text x="364.97" y="629.63">0.01</text>
<text x="400.67" y="629.63">0.02</text>
<text x="436.38" y="629.63">−0.03</text>
<text x="472.08" y="629.63">−0.28</text>
<text x="507.78" y="629.63">−0.07</text>
<text x="543.49" y="629.63">−0.44</text>
<text x="579.19" y="629.63">−0.42</text>
<text x="614.90" y="629.63">0.16</text>
<text x="650.60" y="629.63">0.26</text>
<text x="686.31" y="629.63">1</text>
<text x="722.01" y="629.63">0.39</text>
<text x="757.72" y="629.63">−0.21</text>
<text x="793.42" y="629.63">−0.1</text>
<text x="829.12" y="629.63">−0.12</text>
<text x="864.83" y="629.63">0.01</text>
<text x="900.53" y="629.63">0.06</text>
<text x="936.24" y="629.63">0.05</text>
<text x="971.94" y="629.63">0.07</text>
<text x="1007.65" y="629.63">0.02</text>
<text x="257.85" y="664.39">−0.06</text>
<text x="293.56" y="664.39">−0.12</text>
<text x="329.26" y="664.39">0.05</text>
<text x="364.97" y="664.39">0.07</text>
<text x="400.67" y="664.39">−0.06</text>
<text x="436.38" y="664.39">−0.09</text>
<text x="472.08" y="664.39">−0.28</text>
<text x="507.78" y="664.39">−0.07</text>
<text x="543.49" y="664.39">−0.16</text>
<text x="579.19" y="664.39">−0.23</text>
<text x="614.90" y="664.39">0.04</text>
<text x="650.60" y="664.39">0.15</text>
<text x="686.31" y="664.39">0.39</text>
<text x="722.01" y="664.39">1</text>
<text x="757.72" y="664.39">0</text>
<text x="793.42" y="664.39">−0.02</text>
<text x="829.12" y="664.39">−0.09</text>
<text x="864.83" y="664.39">−0.06</text>
<text x="900.53" y="664.39">0.01</text>
<text x="936.24" y="664.39">0.06</text>
<text x="971.94" y="664.39">0.05</text>
<text x="1007.65" y="664.39">0.09</text>
<text x="257.85" y="699.14">−0.14</text>
<text x="293.56" y="699.14">−0.02</text>
<text x="329.26" y="699.14">0</text>
<text x="364.97" y="699.14">−0.09</text>
<text x="400.67" y="699.14">−0.07</text>
<text x="436.38" y="699.14">−0.22</text>
<text x="472.08" y="699.14">−0.2</text>
<text x="507.78" y="699.14">−0.2</text>
<text x="543.49" y="699.14">0.03</text>
<text x="579.19" y="699.14">−0.02</text>
<text x="614.90" y="699.14">−0.22</text>
<text x="650.60" y="699.14">−0.2</text>
<text x="686.31" y="699.14">−0.21</text>
<text x="722.01" y="699.14">0</text>
<text x="757.72" y="699.14">1</text>
<text x="793.42" y="699.14">0.12</text>
<text x="829.12" y="699.14">0.1</text>
<text x="864.83" y="699.14">−0.11</text>
<text x="900.53" y="699.14">0.08</text>
<text x="936.24" y="699.14">0.13</text>
<text x="971.94" y="699.14">0.19</text>
<text x="1007.65" y="699.14">0.29</text>
<text x="257.85" y="733.90">−0.02</text>
<text x="293.56" y="733.90">−0.06</text>
<text x="329.26" y="733.90">−0.02</text>
<text x="364.97" y="733.90">−0.03</text>
<text x="400.67" y="733.90">0</text>
<text x="436.38" y="733.90">−0.08</text>
<text x="472.08" y="733.90">0.1</text>
<text x="507.78" y="733.90">0</text>
<text x="543.49" y="733.90">0.08</text>
<text x="579.19" y="733.90">0.05</text>
<text x="614.90" y="733.90">−0.09</text>
<text x="650.60" y="733.90">−0.14</text>
<text x="686.31" y="733.90">−0.1</text>
<text x="722.01" y="733.90">−0.02</text>
<text x="757.72" y="733.90">0.12</text>
<text x="793.42" y="733.90">1</text>
<text x="829.12" y="733.90">0.14</text>
<text x="864.83" y="733.90">−0.15</text>
<text x="900.53" y="733.90">−0.05</text>
<text x="936.24" y="733.90">−0.04</text>
<text x="971.94" y="733.90">−0.04</text>
<text x="1007.65" y="733.90">−0.03</text>
<text x="257.85" y="768.65">−0.16</text>
<text x="293.56" y="768.65">−0.14</text>
<text x="329.26" y="768.65">−0.23</text>
<text x="364.97" y="768.65">−0.23</text>
<text x="400.67" y="768.65">−0.2</text>
<text x="436.38" y="768.65">−0.48</text>
<text x="472.08" y="768.65">−0.07</text>
<text x="507.78" y="768.65">−0.01</text>
<text x="543.49" y="768.65">0.14</text>
<text x="579.19" y="768.65">0</text>
<text x="614.90" y="768.65">−0.14</text>
<text x="650.60" y="768.65">−0.25</text>
<text x="686.31" y="768.65">−0.12</text>
<text x="722.01" y="768.65">−0.09</text>
<text x="757.72" y="768.65">0.1</text>
<text x="793.42" y="768.65">0.14</text>
<text x="829.12" y="768.65">1</text>
<text x="864.83" y="768.65">−0.01</text>
<text x="900.53" y="768.65">−0.01</text>
<text x="936.24" y="768.65">0.06</text>
<text x="971.94" y="768.65">0.12</text>
<text x="1007.65" y="768.65">0.17</text>
<text x="257.85" y="803.40">0.06</text>
<text x="293.56" y="803.40">0.03</text>
<text x="329.26" y="803.40">0.07</text>
<text x="364.97" y="803.40">0.03</text>
<text x="400.67" y="803.40">0.05</text>
<text x="436.38" y="803.40">−0.14</text>
<text x="472.08" y="803.40">−0.24</text>
<text x="507.78" y="803.40">−0.2</text>
<text x="543.49" y="803.40">−0.03</text>
<text x="579.19" y="803.40">−0.17</text>
<text x="614.90" y="803.40">−0.23</text>
<text x="650.60" y="803.40">−0.15</text>
<text x="686.31" y="803.40">0.01</text>
<text x="722.01" y="803.40">−0.06</text>
<text x="757.72" y="803.40">−0.11</text>
<text x="793.42" y="803.40">−0.15</text>
<text x="829.12" y="803.40">−0.01</text>
<text x="864.83" y="803.40">1</text>
<text x="900.53" y="803.40">0.04</text>
<text x="936.24" y="803.40">0.05</text>
<text x="971.94" y="803.40">0.13</text>
<text x="1007.65" y="803.40">0.06</text>
<text x="257.85" y="838.16">0.04</text>
<text x="293.56" y="838.16">−0.15</text>
<text x="329.26" y="838.16">0.04</text>
<text x="364.97" y="838.16">0.02</text>
<text x="400.67" y="838.16">0.03</text>
<text x="436.38" y="838.16">−0.1</text>
<text x="472.08" y="838.16">−0.35</text>
<text x="507.78" y="838.16">0.04</text>
<text x="543.49" y="838.16">−0.03</text>
<text x="579.19" y="838.16">−0.11</text>
<text x="614.90" y="838.16">0.02</text>
<text x="650.60" y="838.16">−0.09</text>
<text x="686.31" y="838.16">0.06</text>
<text x="722.01" y="838.16">0.01</text>
<text x="757.72" y="838.16">0.08</text>
<text x="793.42" y="838.16">−0.05</text>
<text x="829.12" y="838.16">−0.01</text>
<text x="864.83" y="838.16">0.04</text>
<text x="900.53" y="838.16">1</text>
<text x="936.24" y="838.16">0.27</text>
<text x="971.94" y="838.16">0.2</text>
<text x="1007.65" y="838.16">0.2</text>
<text x="257.85" y="872.91">−0.05</text>
<text x="293.56" y="872.91">−0.11</text>
<text x="329.26" y="872.91">−0.04</text>
<text x="364.97" y="872.91">−0.03</text>
<text x="400.67" y="872.91">−0.08</text>
<text x="436.38" y="872.91">−0.24</text>
<text x="472.08" y="872.91">−0.4</text>
<text x="507.78" y="872.91">−0.04</text>
<text x="543.49" y="872.91">−0.11</text>
<text x="579.19" y="872.91">−0.21</text>
<text x="614.90" y="872.91">−0.04</text>
<text x="650.60" y="872.91">−0.04</text>
<text x="686.31" y="872.91">0.05</text>
<text x="722.01" y="872.91">0.06</text>
<text x="757.72" y="872.91">0.13</text>
<text x="793.42" y="872.91">−0.04</text>
<text x="829.12" y="872.91">0.06</text>
<text x="864.83" y="872.91">0.05</text>
<text x="900.53" y="872.91">0.27</text>
<text x="936.24" y="872.91">1</text>
<text x="971.94" y="872.91">0.37</text>
<text x="1007.65" y="872.91">0.48</text>
<text x="257.85" y="907.67">−0.08</text>
<text x="293.56" y="907.67">−0.04</text>
<text x="329.26" y="907.67">−0.03</text>
<text x="364.97" y="907.67">−0.04</text>
<text x="400.67" y="907.67">−0.09</text>
<text x="436.38" y="907.67">−0.37</text>
<text x="472.08" y="907.67">−0.56</text>
<text x="507.78" y="907.67">−0.08</text>
<text x="543.49" y="907.67">−0.02</text>
<text x="579.19" y="907.67">−0.3</text>
<text x="614.90" y="907.67">0.02</text>
<text x="650.60" y="907.67">−0.16</text>
<text x="686.31" y="907.67">0.07</text>
<text x="722.01" y="907.67">0.05</text>
<text x="757.72" y="907.67">0.19</text>
<text x="793.42" y="907.67">−0.04</text>
<text x="829.12" y="907.67">0.12</text>
<text x="864.83" y="907.67">0.13</text>
<text x="900.53" y="907.67">0.2</text>
<text x="936.24" y="907.67">0.37</text>
<text x="971.94" y="907.67">1</text>
<text x="1007.65" y="907.67">0.55</text>
<text x="257.85" y="942.42">−0.14</text>
<text x="293.56" y="942.42">−0.15</text>
<text x="329.26" y="942.42">−0.07</text>
<text x="364.97" y="942.42">−0.11</text>
<text x="400.67" y="942.42">−0.16</text>
<text x="436.38" y="942.42">−0.45</text>
<text x="472.08" y="942.42">−0.47</text>
<text x="507.78" y="942.42">−0.07</text>
<text x="543.49" y="942.42">−0.07</text>
<text x="579.19" y="942.42">−0.18</text>
<text x="614.90" y="942.42">−0.14</text>
<text x="650.60" y="942.42">−0.26</text>
<text x="686.31" y="942.42">0.02</text>
<text x="722.01" y="942.42">0.09</text>
<text x="757.72" y="942.42">0.29</text>
<text x="793.42" y="942.42">−0.03</text>
<text x="829.12" y="942.42">0.17</text>
<text x="864.83" y="942.42">0.06</text>
<text x="900.53" y="942.42">0.2</text>
<text x="936.24" y="942.42">0.48</text>
<text x="971.94" y="942.42">0.55</text>
<text x="1007.65" y="942.42">1</text>
</g>
<g font-size="14.3" text-anchor="end" fill="#000">
<text x="234" y="213.38">Dendritic cells resting</text>
<text x="234" y="248.13">Macrophages M1</text>
<text x="234" y="282.89">T cells gamma delta</text>
<text x="234" y="317.64">T cells CD4 memory activated</text>
<text x="234" y="352.40">T cells regulatory (Tregs)</text>
<text x="234" y="387.15">NK cells activated</text>
<text x="234" y="421.90">Mast cells resting</text>
<text x="234" y="456.66">Macrophages M0</text>
<text x="234" y="491.41">B cells memory</text>
<text x="234" y="526.17">Macrophages M2</text>
<text x="234" y="560.92">T cells follicular helper</text>
<text x="234" y="595.68">T cells CD8</text>
<text x="234" y="630.43">B cells naive</text>
<text x="234" y="665.19">Plasma cells</text>
<text x="234" y="699.94">Monocytes</text>
<text x="234" y="734.70">T cells CD4 naive</text>
<text x="234" y="769.45">NK cells resting</text>
<text x="234" y="804.20">T cells CD4 memory resting</text>
<text x="234" y="838.96">Dendritic cells activated</text>
<text x="234" y="873.71">Eosinophils</text>
<text x="234" y="908.47">Mast cells activated</text>
<text x="234" y="943.22">Neutrophils</text>
</g>
<g font-size="13.8" fill="#000">
<text transform="translate(262.85,186) rotate(-90)">Dendritic cells resting</text>
<text transform="translate(298.56,186) rotate(-90)">Macrophages M1</text>
<text transform="translate(334.26,186) rotate(-90)">T cells gamma delta</text>
<text transform="translate(369.97,186) rotate(-90)">T cells CD4 memory activated</text>
<text transform="translate(405.67,186) rotate(-90)">T cells regulatory (Tregs)</text>
<text transform="translate(441.38,186) rotate(-90)">NK cells activated</text>
<text transform="translate(477.08,186) rotate(-90)">Mast cells resting</text>
<text transform="translate(512.78,186) rotate(-90)">Macrophages M0</text>
<text transform="translate(548.49,186) rotate(-90)">B cells memory</text>
<text transform="translate(584.19,186) rotate(-90)">Macrophages M2</text>
<text transform="translate(619.90,186) rotate(-90)">T cells follicular helper</text>
<text transform="translate(655.60,186) rotate(-90)">T cells CD8</text>
<text transform="translate(691.31,186) rotate(-90)">B cells naive</text>
<text transform="translate(727.01,186) rotate(-90)">Plasma cells</text>
<text transform="translate(762.72,186) rotate(-90)">Monocytes</text>
<text transform="translate(798.42,186) rotate(-90)">T cells CD4 naive</text>
<text transform="translate(834.12,186) rotate(-90)">NK cells resting</text>
<text transform="translate(869.83,186) rotate(-90)">T cells CD4 memory resting</text>
<text transform="translate(905.53,186) rotate(-90)">Dendritic cells activated</text>
<text transform="translate(941.24,186) rotate(-90)">Eosinophils</text>
<text transform="translate(976.94,186) rotate(-90)">Mast cells activated</text>
<text transform="translate(1012.65,186) rotate(-90)">Neutrophils</text>
</g>
<g>
<rect x="1040" y="191.10" width="30" height="13.14" fill="#ff0404"/>
<rect x="1040" y="203.84" width="30" height="13.14" fill="#ff0d0d"/>
<rect x="1040" y="216.58" width="30" height="13.14" fill="#ff1515"/>
<rect x="1040" y="229.31" width="30" height="13.14" fill="#ff1e1e"/>
<rect x="1040" y="242.05" width="30" height="13.14" fill="#ff2626"/>
<rect x="1040" y="254.79" width="30" height="13.14" fill="#ff2f2f"/>
<rect x="1040" y="267.53" width="30" height="13.14" fill="#ff3737"/>
<rect x="1040" y="280.27" width="30" height="13.14" fill="#ff4040"/>
<rect x="1040" y="293.01" width="30" height="13.14" fill="#ff4848"/>
<rect x="1040" y="305.75" width="30" height="13.14" fill="#ff5151"/>
<rect x="1040" y="318.48" width="30" height="13.14" fill="#ff5959"/>
<rect x="1040" y="331.22" width="30" height="13.14" fill="#ff6262"/>
<rect x="1040" y="343.96" width="30" height="13.14" fill="#ff6a6a"/>
<rect x="1040" y="356.70" width="30" height="13.14" fill="#ff7373"/>
<rect x="1040" y="369.44" width="30" height="13.14" fill="#ff7b7b"/>
<rect x="1040" y="382.17" width="30" height="13.14" fill="#ff8484"/>
<rect x="1040" y="394.91" width="30" height="13.14" fill="#ff8c8c"/>
<rect x="1040" y="407.65" width="30" height="13.14" fill="#ff9595"/>
<rect x="1040" y="420.39" width="30" height="13.14" fill="#ff9d9d"/>
<rect x="1040" y="433.13" width="30" height="13.14" fill="#ffa6a6"/>
<rect x="1040" y="445.87" width="30" height="13.14" fill="#ffaeae"/>
<rect x="1040" y="458.61" width="30" height="13.14" fill="#ffb7b7"/>
<rect x="1040" y="471.34" width="30" height="13.14" fill="#ffbfbf"/>
<rect x="1040" y="484.08" width="30" height="13.14" fill="#ffc8c8"/>
<rect x="1040" y="496.82" width="30" height="13.14" fill="#ffd0d0"/>
<rect x="1040" y="509.56" width="30" height="13.14" fill="#ffd9d9"/>
<rect x="1040" y="522.30" width="30" height="13.14" fill="#ffe1e1"/>
<rect x="1040" y="535.03" width="30" height="13.14" fill="#ffeaea"/>
<rect x="1040" y="547.77" width="30" height="13.14" fill="#fff2f2"/>
<rect x="1040" y="560.51" width="30" height="13.14" fill="#fffbfb"/>
<rect x="1040" y="573.25" width="30" height="13.14" fill="#fbfbff"/>
<rect x="1040" y="585.99" width="30" height="13.14" fill="#f2f2ff"/>
<rect x="1040" y="598.73" width="30" height="13.14" fill="#eaeaff"/>
<rect x="1040" y="611.46" width="30" height="13.14" fill="#e1e1ff"/>
<rect x="1040" y="624.20" width="30" height="13.14" fill="#d9d9ff"/>
<rect x="1040" y="636.94" width="30" height="13.14" fill="#d0d0ff"/>
<rect x="1040" y="649.68" width="30" height="13.14" fill="#c8c8ff"/>
<rect x="1040" y="662.42" width="30" height="13.14" fill="#bfbfff"/>
<rect x="1040" y="675.16" width="30" height="13.14" fill="#b7b7ff"/>
<rect x="1040" y="687.89" width="30" height="13.14" fill="#aeaeff"/>
<rect x="1040" y="700.63" width="30" height="13.14" fill="#a6a6ff"/>
<rect x="1040" y="713.37" width="30" height="13.14" fill="#9d9dff"/>
<rect x="1040" y="726.11" width="30" height="13.14" fill="#9595ff"/>
<rect x="1040" y="738.85" width="30" height="13.14" fill="#8c8cff"/>
<rect x="1040" y="751.59" width="30" height="13.14" fill="#8484ff"/>
<rect x="1040" y="764.33" width="30" height="13.14" fill="#7b7bff"/>
<rect x="1040" y="777.06" width="30" height="13.14" fill="#7373ff"/>
<rect x="1040" y="789.80" width="30" height="13.14" fill="#6a6aff"/>
<rect x="1040" y="802.54" width="30" height="13.14" fill="#6262ff"/>
<rect x="1040" y="815.28" width="30" height="13.14" fill="#5959ff"/>
<rect x="1040" y="828.02" width="30" height="13.14" fill="#5151ff"/>
<rect x="1040" y="840.75" width="30" height="13.14" fill="#4848ff"/>
<rect x="1040" y="853.49" width="30" height="13.14" fill="#4040ff"/>
<rect x="1040" y="866.23" width="30" height="13.14" fill="#3737ff"/>
<rect x="1040" y="878.97" width="30" height="13.14" fill="#2f2fff"/>
<rect x="1040" y="891.71" width="30" height="13.14" fill="#2626ff"/>
<rect x="1040" y="904.45" width="30" height="13.14" fill="#1e1eff"/>
<rect x="1040" y="917.18" width="30" height="13.14" fill="#1515ff"/>
<rect x="1040" y="929.92" width="30" height="13.14" fill="#0d0dff"/>
<rect x="1040" y="942.66" width="30" height="13.14" fill="#0404ff"/>
<rect x="1040" y="191.1" width="30" height="764.30" fill="none" stroke="#222" stroke-width="1"/>
<line x1="1070" y1="191.10" x2="1076" y2="191.10" stroke="#222" stroke-width="1"/>
<text x="1106" y="195.10" font-size="11.5" text-anchor="middle">1</text>
<line x1="1070" y1="267.53" x2="1076" y2="267.53" stroke="#222" stroke-width="1"/>
<text x="1106" y="271.53" font-size="11.5" text-anchor="middle">0.8</text>
<line x1="1070" y1="343.96" x2="1076" y2="343.96" stroke="#222" stroke-width="1"/>
<text x="1106" y="347.96" font-size="11.5" text-anchor="middle">0.6</text>
<line x1="1070" y1="420.39" x2="1076" y2="420.39" stroke="#222" stroke-width="1"/>
<text x="1106" y="424.39" font-size="11.5" text-anchor="middle">0.4</text>
<line x1="1070" y1="496.82" x2="1076" y2="496.82" stroke="#222" stroke-width="1"/>
<text x="1106" y="500.82" font-size="11.5" text-anchor="middle">0.2</text>
<line x1="1070" y1="573.25" x2="1076" y2="573.25" stroke="#222" stroke-width="1"/>
<text x="1106" y="577.25" font-size="11.5" text-anchor="middle">0</text>
<line x1="1070" y1="649.68" x2="1076" y2="649.68" stroke="#222" stroke-width="1"/>
<text x="1106" y="653.68" font-size="11.5" text-anchor="middle">−0.2</text>
<line x1="1070" y1="726.11" x2="1076" y2="726.11" stroke="#222" stroke-width="1"/>
<text x="1106" y="730.11" font-size="11.5" text-anchor="middle">−0.4</text>
<line x1="1070" y1="802.54" x2="1076" y2="802.54" stroke="#222" stroke-width="1"/>
<text x="1106" y="806.54" font-size="11.5" text-anchor="middle">−0.6</text>
<line x1="1070" y1="878.97" x2="1076" y2="878.97" stroke="#222" stroke-width="1"/>
<text x="1106" y="882.97" font-size="11.5" text-anchor="middle">−0.8</text>
<line x1="1070" y1="955.40" x2="1076" y2="955.40" stroke="#222" stroke-width="1"/>
<text x="1106" y="959.40" font-size="11.5" text-anchor="middle">−1</text>
</g>
<rect x="1245.5" y="208.2" width="625.3" height="694.8" fill="#fff" stroke="#333" stroke-width="1.3"/>
<defs><clipPath id="pc"><rect x="1245.5" y="208.2" width="625.3" height="694.8"/></clipPath></defs>
<g clip-path="url(#pc)">
<ellipse cx="1591.7" cy="682.7" rx="101.7" ry="55.7" transform="rotate(16.57 1591.7 682.7)" fill="none" stroke="#F8766D" stroke-width="3" stroke-dasharray="12 10"/>
<ellipse cx="1691.6" cy="516.7" rx="110.2" ry="36.65" transform="rotate(-65.72 1691.6 516.7)" fill="none" stroke="#00BFC4" stroke-width="3" stroke-dasharray="12 10"/>
<g fill="#F8766D" stroke="#e6625a" stroke-width="0.8">
<ellipse cx="1349.2" cy="496.6" rx="3.2" ry="3.9"/>
<ellipse cx="1352.4" cy="560.4" rx="3.2" ry="3.9"/>
<ellipse cx="1309.5" cy="566.4" rx="3.2" ry="3.9"/>
<ellipse cx="1362.5" cy="577.0" rx="3.2" ry="3.9"/>
<ellipse cx="1366.5" cy="575.6" rx="3.2" ry="3.9"/>
<ellipse cx="1419.5" cy="572.1" rx="3.2" ry="3.9"/>
<ellipse cx="1427.5" cy="569.3" rx="3.2" ry="3.9"/>
<ellipse cx="1427.5" cy="572.8" rx="3.2" ry="3.9"/>
<ellipse cx="1323.8" cy="591.1" rx="3.2" ry="3.9"/>
<ellipse cx="1277.7" cy="597.6" rx="3.2" ry="3.9"/>
<ellipse cx="1375.9" cy="592.5" rx="3.2" ry="3.9"/>
<ellipse cx="1383.9" cy="597.2" rx="3.2" ry="3.9"/>
<ellipse cx="1405.4" cy="598.8" rx="3.2" ry="3.9"/>
<ellipse cx="1420.5" cy="598.8" rx="3.2" ry="3.9"/>
<ellipse cx="1426.9" cy="597.9" rx="3.2" ry="3.9"/>
<ellipse cx="1331.2" cy="604.3" rx="3.2" ry="3.9"/>
<ellipse cx="1338.3" cy="603.5" rx="3.2" ry="3.9"/>
<ellipse cx="1338.3" cy="611.5" rx="3.2" ry="3.9"/>
<ellipse cx="1337.9" cy="613.6" rx="3.2" ry="3.9"/>
<ellipse cx="1358.3" cy="598.1" rx="3.2" ry="3.9"/>
<ellipse cx="1358.3" cy="602.4" rx="3.2" ry="3.9"/>
<ellipse cx="1363.2" cy="607.3" rx="3.2" ry="3.9"/>
<ellipse cx="1356.9" cy="611.5" rx="3.2" ry="3.9"/>
<ellipse cx="1352.0" cy="615.0" rx="3.2" ry="3.9"/>
<ellipse cx="1322.7" cy="611.9" rx="3.2" ry="3.9"/>
<ellipse cx="1317.9" cy="618.8" rx="3.2" ry="3.9"/>
<ellipse cx="1363.6" cy="617.6" rx="3.2" ry="3.9"/>
<ellipse cx="1381.5" cy="614.3" rx="3.2" ry="3.9"/>
<ellipse cx="1399.8" cy="612.6" rx="3.2" ry="3.9"/>
<ellipse cx="1408.6" cy="617.8" rx="3.2" ry="3.9"/>
<ellipse cx="1423.0" cy="614.0" rx="3.2" ry="3.9"/>
<ellipse cx="1273.5" cy="623.7" rx="3.2" ry="3.9"/>
<ellipse cx="1295.3" cy="623.7" rx="3.2" ry="3.9"/>
<ellipse cx="1331.9" cy="627.7" rx="3.2" ry="3.9"/>
<ellipse cx="1370.5" cy="626.7" rx="3.2" ry="3.9"/>
<ellipse cx="1401.6" cy="623.7" rx="3.2" ry="3.9"/>
<ellipse cx="1309.9" cy="633.0" rx="3.2" ry="3.9"/>
<ellipse cx="1443.8" cy="626.3" rx="3.2" ry="3.9"/>
<ellipse cx="1448.0" cy="636.1" rx="3.2" ry="3.9"/>
<ellipse cx="1379.8" cy="637.8" rx="3.2" ry="3.9"/>
<ellipse cx="1388.8" cy="634.4" rx="3.2" ry="3.9"/>
<ellipse cx="1297.3" cy="644.8" rx="3.2" ry="3.9"/>
<ellipse cx="1296.4" cy="656.5" rx="3.2" ry="3.9"/>
<ellipse cx="1358.3" cy="645.7" rx="3.2" ry="3.9"/>
<ellipse cx="1348.2" cy="653.3" rx="3.2" ry="3.9"/>
<ellipse cx="1403.6" cy="649.5" rx="3.2" ry="3.9"/>
<ellipse cx="1387.8" cy="656.2" rx="3.2" ry="3.9"/>
<ellipse cx="1430.0" cy="657.9" rx="3.2" ry="3.9"/>
<ellipse cx="1445.5" cy="660.7" rx="3.2" ry="3.9"/>
<ellipse cx="1447.6" cy="663.5" rx="3.2" ry="3.9"/>
<ellipse cx="1345.2" cy="669.6" rx="3.2" ry="3.9"/>
<ellipse cx="1362.1" cy="672.7" rx="3.2" ry="3.9"/>
<ellipse cx="1414.6" cy="675.5" rx="3.2" ry="3.9"/>
<ellipse cx="1446.5" cy="681.5" rx="3.2" ry="3.9"/>
<ellipse cx="1383.0" cy="683.7" rx="3.2" ry="3.9"/>
<ellipse cx="1399.4" cy="687.0" rx="3.2" ry="3.9"/>
<ellipse cx="1437.3" cy="705.7" rx="3.2" ry="3.9"/>
<ellipse cx="1578.1" cy="538.8" rx="3.2" ry="3.9"/>
<ellipse cx="1546.2" cy="553.6" rx="3.2" ry="3.9"/>
<ellipse cx="1478.7" cy="559.7" rx="3.2" ry="3.9"/>
<ellipse cx="1468.8" cy="567.1" rx="3.2" ry="3.9"/>
<ellipse cx="1481.3" cy="573.8" rx="3.2" ry="3.9"/>
<ellipse cx="1499.6" cy="572.0" rx="3.2" ry="3.9"/>
<ellipse cx="1572.6" cy="566.8" rx="3.2" ry="3.9"/>
<ellipse cx="1528.0" cy="582.6" rx="3.2" ry="3.9"/>
<ellipse cx="1548.4" cy="584.1" rx="3.2" ry="3.9"/>
<ellipse cx="1500.2" cy="593.8" rx="3.2" ry="3.9"/>
<ellipse cx="1509.0" cy="601.1" rx="3.2" ry="3.9"/>
<ellipse cx="1517.8" cy="595.5" rx="3.2" ry="3.9"/>
<ellipse cx="1459.8" cy="609.4" rx="3.2" ry="3.9"/>
<ellipse cx="1463.8" cy="609.4" rx="3.2" ry="3.9"/>
<ellipse cx="1556.7" cy="610.5" rx="3.2" ry="3.9"/>
<ellipse cx="1569.7" cy="605.6" rx="3.2" ry="3.9"/>
<ellipse cx="1571.9" cy="617.1" rx="3.2" ry="3.9"/>
<ellipse cx="1575.4" cy="618.0" rx="3.2" ry="3.9"/>
<ellipse cx="1477.2" cy="620.9" rx="3.2" ry="3.9"/>
<ellipse cx="1456.3" cy="626.6" rx="3.2" ry="3.9"/>
<ellipse cx="1472.5" cy="627.8" rx="3.2" ry="3.9"/>
<ellipse cx="1513.9" cy="621.3" rx="3.2" ry="3.9"/>
<ellipse cx="1507.3" cy="632.5" rx="3.2" ry="3.9"/>
<ellipse cx="1552.1" cy="625.0" rx="3.2" ry="3.9"/>
<ellipse cx="1553.5" cy="629.4" rx="3.2" ry="3.9"/>
<ellipse cx="1469.6" cy="636.4" rx="3.2" ry="3.9"/>
<ellipse cx="1481.3" cy="639.5" rx="3.2" ry="3.9"/>
<ellipse cx="1487.8" cy="643.5" rx="3.2" ry="3.9"/>
<ellipse cx="1505.1" cy="642.1" rx="3.2" ry="3.9"/>
<ellipse cx="1565.8" cy="634.2" rx="3.2" ry="3.9"/>
<ellipse cx="1570.2" cy="636.4" rx="3.2" ry="3.9"/>
<ellipse cx="1574.1" cy="635.5" rx="3.2" ry="3.9"/>
<ellipse cx="1561.4" cy="644.3" rx="3.2" ry="3.9"/>
<ellipse cx="1542.9" cy="656.7" rx="3.2" ry="3.9"/>
<ellipse cx="1553.9" cy="657.5" rx="3.2" ry="3.9"/>
<ellipse cx="1554.3" cy="660.2" rx="3.2" ry="3.9"/>
<ellipse cx="1565.3" cy="661.9" rx="3.2" ry="3.9"/>
<ellipse cx="1575.4" cy="659.3" rx="3.2" ry="3.9"/>
<ellipse cx="1576.8" cy="654.9" rx="3.2" ry="3.9"/>
<ellipse cx="1477.2" cy="671.2" rx="3.2" ry="3.9"/>
<ellipse cx="1485.7" cy="669.8" rx="3.2" ry="3.9"/>
<ellipse cx="1530.1" cy="671.4" rx="3.2" ry="3.9"/>
<ellipse cx="1456.7" cy="676.9" rx="3.2" ry="3.9"/>
<ellipse cx="1559.6" cy="675.6" rx="3.2" ry="3.9"/>
<ellipse cx="1574.6" cy="671.6" rx="3.2" ry="3.9"/>
<ellipse cx="1520.2" cy="682.5" rx="3.2" ry="3.9"/>
<ellipse cx="1552.8" cy="683.6" rx="3.2" ry="3.9"/>
<ellipse cx="1536.3" cy="690.2" rx="3.2" ry="3.9"/>
<ellipse cx="1541.1" cy="690.7" rx="3.2" ry="3.9"/>
<ellipse cx="1548.0" cy="691.5" rx="3.2" ry="3.9"/>
<ellipse cx="1526.9" cy="697.4" rx="3.2" ry="3.9"/>
<ellipse cx="1531.0" cy="703.4" rx="3.2" ry="3.9"/>
<ellipse cx="1570.2" cy="691.1" rx="3.2" ry="3.9"/>
<ellipse cx="1570.6" cy="701.2" rx="3.2" ry="3.9"/>
<ellipse cx="1571.0" cy="707.8" rx="3.2" ry="3.9"/>
<ellipse cx="1570.2" cy="717.5" rx="3.2" ry="3.9"/>
<ellipse cx="1562.0" cy="709.6" rx="3.2" ry="3.9"/>
<ellipse cx="1577.6" cy="712.7" rx="3.2" ry="3.9"/>
<ellipse cx="1456.7" cy="707.6" rx="3.2" ry="3.9"/>
<ellipse cx="1481.3" cy="707.8" rx="3.2" ry="3.9"/>
<ellipse cx="1485.7" cy="714.0" rx="3.2" ry="3.9"/>
<ellipse cx="1459.5" cy="718.8" rx="3.2" ry="3.9"/>
<ellipse cx="1509.0" cy="715.3" rx="3.2" ry="3.9"/>
<ellipse cx="1519.0" cy="710.0" rx="3.2" ry="3.9"/>
<ellipse cx="1492.8" cy="727.2" rx="3.2" ry="3.9"/>
<ellipse cx="1514.3" cy="729.6" rx="3.2" ry="3.9"/>
<ellipse cx="1533.9" cy="724.5" rx="3.2" ry="3.9"/>
<ellipse cx="1531.9" cy="727.6" rx="3.2" ry="3.9"/>
<ellipse cx="1561.5" cy="723.8" rx="3.2" ry="3.9"/>
<ellipse cx="1574.1" cy="724.7" rx="3.2" ry="3.9"/>
<ellipse cx="1554.8" cy="732.4" rx="3.2" ry="3.9"/>
<ellipse cx="1559.6" cy="739.5" rx="3.2" ry="3.9"/>
<ellipse cx="1564.9" cy="739.5" rx="3.2" ry="3.9"/>
<ellipse cx="1570.8" cy="744.8" rx="3.2" ry="3.9"/>
<ellipse cx="1578.1" cy="736.8" rx="3.2" ry="3.9"/>
<ellipse cx="1579.0" cy="740.4" rx="3.2" ry="3.9"/>
<ellipse cx="1539.4" cy="747.8" rx="3.2" ry="3.9"/>
<ellipse cx="1535.9" cy="751.8" rx="3.2" ry="3.9"/>
<ellipse cx="1547.9" cy="750.9" rx="3.2" ry="3.9"/>
<ellipse cx="1542.3" cy="758.4" rx="3.2" ry="3.9"/>
<ellipse cx="1553.0" cy="764.5" rx="3.2" ry="3.9"/>
<ellipse cx="1564.5" cy="767.6" rx="3.2" ry="3.9"/>
<ellipse cx="1566.6" cy="772.0" rx="3.2" ry="3.9"/>
<ellipse cx="1578.5" cy="767.2" rx="3.2" ry="3.9"/>
<ellipse cx="1523.8" cy="769.8" rx="3.2" ry="3.9"/>
<ellipse cx="1563.1" cy="781.3" rx="3.2" ry="3.9"/>
<ellipse cx="1577.6" cy="794.0" rx="3.2" ry="3.9"/>
<ellipse cx="1549.5" cy="809.4" rx="3.2" ry="3.9"/>
<ellipse cx="1560.2" cy="812.5" rx="3.2" ry="3.9"/>
<ellipse cx="1574.1" cy="808.1" rx="3.2" ry="3.9"/>
<ellipse cx="1583.4" cy="552.4" rx="3.2" ry="3.9"/>
<ellipse cx="1603.1" cy="564.4" rx="3.2" ry="3.9"/>
<ellipse cx="1624.3" cy="564.9" rx="3.2" ry="3.9"/>
<ellipse cx="1627.8" cy="568.4" rx="3.2" ry="3.9"/>
<ellipse cx="1640.1" cy="553.4" rx="3.2" ry="3.9"/>
<ellipse cx="1669.8" cy="562.9" rx="3.2" ry="3.9"/>
<ellipse cx="1702.5" cy="543.7" rx="3.2" ry="3.9"/>
<ellipse cx="1593.0" cy="588.2" rx="3.2" ry="3.9"/>
<ellipse cx="1610.2" cy="583.3" rx="3.2" ry="3.9"/>
<ellipse cx="1612.8" cy="581.6" rx="3.2" ry="3.9"/>
<ellipse cx="1610.2" cy="586.8" rx="3.2" ry="3.9"/>
<ellipse cx="1626.9" cy="582.9" rx="3.2" ry="3.9"/>
<ellipse cx="1640.1" cy="582.4" rx="3.2" ry="3.9"/>
<ellipse cx="1649.8" cy="592.1" rx="3.2" ry="3.9"/>
<ellipse cx="1662.5" cy="587.7" rx="3.2" ry="3.9"/>
<ellipse cx="1689.8" cy="583.8" rx="3.2" ry="3.9"/>
<ellipse cx="1605.3" cy="593.9" rx="3.2" ry="3.9"/>
<ellipse cx="1604.0" cy="598.7" rx="3.2" ry="3.9"/>
<ellipse cx="1607.5" cy="604.0" rx="3.2" ry="3.9"/>
<ellipse cx="1598.7" cy="605.8" rx="3.2" ry="3.9"/>
<ellipse cx="1626.5" cy="602.7" rx="3.2" ry="3.9"/>
<ellipse cx="1618.5" cy="609.3" rx="3.2" ry="3.9"/>
<ellipse cx="1613.7" cy="615.0" rx="3.2" ry="3.9"/>
<ellipse cx="1631.3" cy="610.2" rx="3.2" ry="3.9"/>
<ellipse cx="1645.8" cy="608.0" rx="3.2" ry="3.9"/>
<ellipse cx="1662.1" cy="600.9" rx="3.2" ry="3.9"/>
<ellipse cx="1674.8" cy="608.0" rx="3.2" ry="3.9"/>
<ellipse cx="1701.6" cy="600.9" rx="3.2" ry="3.9"/>
<ellipse cx="1696.4" cy="611.9" rx="3.2" ry="3.9"/>
<ellipse cx="1699.0" cy="619.4" rx="3.2" ry="3.9"/>
<ellipse cx="1653.7" cy="615.9" rx="3.2" ry="3.9"/>
<ellipse cx="1657.7" cy="623.8" rx="3.2" ry="3.9"/>
<ellipse cx="1669.1" cy="624.2" rx="3.2" ry="3.9"/>
<ellipse cx="1663.8" cy="618.5" rx="3.2" ry="3.9"/>
<ellipse cx="1641.8" cy="621.1" rx="3.2" ry="3.9"/>
<ellipse cx="1635.7" cy="623.8" rx="3.2" ry="3.9"/>
<ellipse cx="1641.8" cy="624.7" rx="3.2" ry="3.9"/>
<ellipse cx="1589.1" cy="622.9" rx="3.2" ry="3.9"/>
<ellipse cx="1575.9" cy="622.0" rx="3.2" ry="3.9"/>
<ellipse cx="1601.4" cy="627.3" rx="3.2" ry="3.9"/>
<ellipse cx="1604.0" cy="630.0" rx="3.2" ry="3.9"/>
<ellipse cx="1584.2" cy="633.0" rx="3.2" ry="3.9"/>
<ellipse cx="1594.8" cy="634.8" rx="3.2" ry="3.9"/>
<ellipse cx="1576.8" cy="635.2" rx="3.2" ry="3.9"/>
<ellipse cx="1619.9" cy="630.8" rx="3.2" ry="3.9"/>
<ellipse cx="1621.6" cy="636.1" rx="3.2" ry="3.9"/>
<ellipse cx="1641.0" cy="633.5" rx="3.2" ry="3.9"/>
<ellipse cx="1664.7" cy="631.7" rx="3.2" ry="3.9"/>
<ellipse cx="1668.2" cy="636.1" rx="3.2" ry="3.9"/>
<ellipse cx="1671.7" cy="636.1" rx="3.2" ry="3.9"/>
<ellipse cx="1675.3" cy="638.7" rx="3.2" ry="3.9"/>
<ellipse cx="1681.4" cy="638.7" rx="3.2" ry="3.9"/>
<ellipse cx="1692.4" cy="638.7" rx="3.2" ry="3.9"/>
<ellipse cx="1703.4" cy="639.6" rx="3.2" ry="3.9"/>
<ellipse cx="1709.6" cy="639.2" rx="3.2" ry="3.9"/>
<ellipse cx="1586.0" cy="641.4" rx="3.2" ry="3.9"/>
<ellipse cx="1584.2" cy="647.5" rx="3.2" ry="3.9"/>
<ellipse cx="1582.0" cy="653.7" rx="3.2" ry="3.9"/>
<ellipse cx="1578.5" cy="657.2" rx="3.2" ry="3.9"/>
<ellipse cx="1617.7" cy="643.1" rx="3.2" ry="3.9"/>
<ellipse cx="1624.3" cy="641.4" rx="3.2" ry="3.9"/>
<ellipse cx="1632.2" cy="641.4" rx="3.2" ry="3.9"/>
<ellipse cx="1637.4" cy="647.1" rx="3.2" ry="3.9"/>
<ellipse cx="1655.0" cy="643.1" rx="3.2" ry="3.9"/>
<ellipse cx="1659.4" cy="641.4" rx="3.2" ry="3.9"/>
<ellipse cx="1678.8" cy="644.9" rx="3.2" ry="3.9"/>
<ellipse cx="1598.3" cy="650.6" rx="3.2" ry="3.9"/>
<ellipse cx="1612.0" cy="649.3" rx="3.2" ry="3.9"/>
<ellipse cx="1605.8" cy="652.8" rx="3.2" ry="3.9"/>
<ellipse cx="1646.2" cy="653.7" rx="3.2" ry="3.9"/>
<ellipse cx="1665.6" cy="651.0" rx="3.2" ry="3.9"/>
<ellipse cx="1670.0" cy="652.8" rx="3.2" ry="3.9"/>
<ellipse cx="1700.3" cy="656.3" rx="3.2" ry="3.9"/>
<ellipse cx="1592.6" cy="660.7" rx="3.2" ry="3.9"/>
<ellipse cx="1601.4" cy="659.8" rx="3.2" ry="3.9"/>
<ellipse cx="1624.3" cy="657.2" rx="3.2" ry="3.9"/>
<ellipse cx="1629.5" cy="659.8" rx="3.2" ry="3.9"/>
<ellipse cx="1636.6" cy="660.7" rx="3.2" ry="3.9"/>
<ellipse cx="1663.0" cy="666.0" rx="3.2" ry="3.9"/>
<ellipse cx="1680.5" cy="659.0" rx="3.2" ry="3.9"/>
<ellipse cx="1689.3" cy="660.7" rx="3.2" ry="3.9"/>
<ellipse cx="1698.1" cy="662.5" rx="3.2" ry="3.9"/>
<ellipse cx="1706.9" cy="665.1" rx="3.2" ry="3.9"/>
<ellipse cx="1612.0" cy="657.2" rx="3.2" ry="3.9"/>
<ellipse cx="1749.8" cy="583.5" rx="3.2" ry="3.9"/>
<ellipse cx="1747.8" cy="649.4" rx="3.2" ry="3.9"/>
<ellipse cx="1763.7" cy="651.5" rx="3.2" ry="3.9"/>
<ellipse cx="1702.3" cy="664.4" rx="3.2" ry="3.9"/>
<ellipse cx="1702.3" cy="676.1" rx="3.2" ry="3.9"/>
<ellipse cx="1705.3" cy="678.5" rx="3.2" ry="3.9"/>
<ellipse cx="1711.7" cy="676.7" rx="3.2" ry="3.9"/>
<ellipse cx="1701.8" cy="689.0" rx="3.2" ry="3.9"/>
<ellipse cx="1702.3" cy="691.4" rx="3.2" ry="3.9"/>
<ellipse cx="1714.7" cy="694.3" rx="3.2" ry="3.9"/>
<ellipse cx="1729.9" cy="687.5" rx="3.2" ry="3.9"/>
<ellipse cx="1735.4" cy="694.7" rx="3.2" ry="3.9"/>
<ellipse cx="1728.1" cy="698.8" rx="3.2" ry="3.9"/>
<ellipse cx="1734.3" cy="704.3" rx="3.2" ry="3.9"/>
<ellipse cx="1746.9" cy="680.8" rx="3.2" ry="3.9"/>
<ellipse cx="1747.8" cy="706.4" rx="3.2" ry="3.9"/>
<ellipse cx="1752.2" cy="710.1" rx="3.2" ry="3.9"/>
<ellipse cx="1704.7" cy="713.6" rx="3.2" ry="3.9"/>
<ellipse cx="1710.6" cy="714.2" rx="3.2" ry="3.9"/>
<ellipse cx="1716.4" cy="714.8" rx="3.2" ry="3.9"/>
<ellipse cx="1715.8" cy="723.0" rx="3.2" ry="3.9"/>
<ellipse cx="1718.8" cy="731.8" rx="3.2" ry="3.9"/>
<ellipse cx="1715.2" cy="734.2" rx="3.2" ry="3.9"/>
<ellipse cx="1707.0" cy="738.3" rx="3.2" ry="3.9"/>
<ellipse cx="1702.3" cy="741.8" rx="3.2" ry="3.9"/>
<ellipse cx="1704.7" cy="744.1" rx="3.2" ry="3.9"/>
<ellipse cx="1713.5" cy="741.2" rx="3.2" ry="3.9"/>
<ellipse cx="1724.0" cy="743.9" rx="3.2" ry="3.9"/>
<ellipse cx="1742.2" cy="764.6" rx="3.2" ry="3.9"/>
<ellipse cx="1713.8" cy="771.7" rx="3.2" ry="3.9"/>
<ellipse cx="1728.6" cy="575.4" rx="3.2" ry="3.9"/>
<ellipse cx="1564.0" cy="770.7" rx="3.2" ry="3.9"/>
<ellipse cx="1580.5" cy="770.0" rx="3.2" ry="3.9"/>
<ellipse cx="1590.6" cy="770.0" rx="3.2" ry="3.9"/>
<ellipse cx="1599.0" cy="771.4" rx="3.2" ry="3.9"/>
<ellipse cx="1603.2" cy="772.1" rx="3.2" ry="3.9"/>
<ellipse cx="1608.8" cy="774.2" rx="3.2" ry="3.9"/>
<ellipse cx="1609.5" cy="777.0" rx="3.2" ry="3.9"/>
<ellipse cx="1625.6" cy="770.0" rx="3.2" ry="3.9"/>
<ellipse cx="1640.3" cy="774.2" rx="3.2" ry="3.9"/>
<ellipse cx="1639.6" cy="780.5" rx="3.2" ry="3.9"/>
<ellipse cx="1646.6" cy="779.8" rx="3.2" ry="3.9"/>
<ellipse cx="1653.6" cy="778.4" rx="3.2" ry="3.9"/>
<ellipse cx="1652.2" cy="785.4" rx="3.2" ry="3.9"/>
<ellipse cx="1634.7" cy="784.7" rx="3.2" ry="3.9"/>
<ellipse cx="1683.0" cy="772.8" rx="3.2" ry="3.9"/>
<ellipse cx="1688.6" cy="772.8" rx="3.2" ry="3.9"/>
<ellipse cx="1685.8" cy="777.0" rx="3.2" ry="3.9"/>
<ellipse cx="1624.2" cy="780.9" rx="3.2" ry="3.9"/>
<ellipse cx="1592.0" cy="783.3" rx="3.2" ry="3.9"/>
<ellipse cx="1588.5" cy="789.6" rx="3.2" ry="3.9"/>
<ellipse cx="1586.4" cy="791.0" rx="3.2" ry="3.9"/>
<ellipse cx="1584.3" cy="799.1" rx="3.2" ry="3.9"/>
<ellipse cx="1607.8" cy="791.7" rx="3.2" ry="3.9"/>
<ellipse cx="1633.3" cy="795.2" rx="3.2" ry="3.9"/>
<ellipse cx="1662.7" cy="793.8" rx="3.2" ry="3.9"/>
<ellipse cx="1699.8" cy="786.5" rx="3.2" ry="3.9"/>
<ellipse cx="1567.9" cy="822.9" rx="3.2" ry="3.9"/>
<ellipse cx="1604.2" cy="808.9" rx="3.2" ry="3.9"/>
<ellipse cx="1612.6" cy="816.6" rx="3.2" ry="3.9"/>
<ellipse cx="1656.1" cy="808.9" rx="3.2" ry="3.9"/>
<ellipse cx="1648.7" cy="834.8" rx="3.2" ry="3.9"/>
<ellipse cx="1630.1" cy="854.0" rx="3.2" ry="3.9"/>
<ellipse cx="1583.3" cy="872.2" rx="3.2" ry="3.9"/>
<ellipse cx="1591.7" cy="663.5" rx="3.2" ry="3.9"/>
<ellipse cx="1597.9" cy="665.3" rx="3.2" ry="3.9"/>
<ellipse cx="1610.2" cy="661.8" rx="3.2" ry="3.9"/>
<ellipse cx="1623.4" cy="662.6" rx="3.2" ry="3.9"/>
<ellipse cx="1629.5" cy="665.3" rx="3.2" ry="3.9"/>
<ellipse cx="1641.8" cy="662.6" rx="3.2" ry="3.9"/>
<ellipse cx="1673.5" cy="666.2" rx="3.2" ry="3.9"/>
<ellipse cx="1677.9" cy="662.6" rx="3.2" ry="3.9"/>
<ellipse cx="1683.2" cy="663.5" rx="3.2" ry="3.9"/>
<ellipse cx="1689.3" cy="664.4" rx="3.2" ry="3.9"/>
<ellipse cx="1693.7" cy="667.0" rx="3.2" ry="3.9"/>
<ellipse cx="1576.8" cy="668.8" rx="3.2" ry="3.9"/>
<ellipse cx="1582.9" cy="673.2" rx="3.2" ry="3.9"/>
<ellipse cx="1601.4" cy="674.1" rx="3.2" ry="3.9"/>
<ellipse cx="1610.2" cy="671.4" rx="3.2" ry="3.9"/>
<ellipse cx="1624.3" cy="670.6" rx="3.2" ry="3.9"/>
<ellipse cx="1626.0" cy="677.6" rx="3.2" ry="3.9"/>
<ellipse cx="1635.7" cy="674.1" rx="3.2" ry="3.9"/>
<ellipse cx="1643.6" cy="670.6" rx="3.2" ry="3.9"/>
<ellipse cx="1645.4" cy="677.6" rx="3.2" ry="3.9"/>
<ellipse cx="1642.7" cy="682.9" rx="3.2" ry="3.9"/>
<ellipse cx="1662.1" cy="676.7" rx="3.2" ry="3.9"/>
<ellipse cx="1667.3" cy="673.2" rx="3.2" ry="3.9"/>
<ellipse cx="1674.4" cy="669.7" rx="3.2" ry="3.9"/>
<ellipse cx="1678.8" cy="673.2" rx="3.2" ry="3.9"/>
<ellipse cx="1684.1" cy="669.7" rx="3.2" ry="3.9"/>
<ellipse cx="1691.1" cy="674.1" rx="3.2" ry="3.9"/>
<ellipse cx="1695.5" cy="677.6" rx="3.2" ry="3.9"/>
<ellipse cx="1709.6" cy="676.7" rx="3.2" ry="3.9"/>
<ellipse cx="1624.3" cy="680.2" rx="3.2" ry="3.9"/>
<ellipse cx="1628.6" cy="685.5" rx="3.2" ry="3.9"/>
<ellipse cx="1626.0" cy="690.8" rx="3.2" ry="3.9"/>
<ellipse cx="1622.5" cy="696.1" rx="3.2" ry="3.9"/>
<ellipse cx="1627.8" cy="695.2" rx="3.2" ry="3.9"/>
<ellipse cx="1578.5" cy="690.8" rx="3.2" ry="3.9"/>
<ellipse cx="1583.8" cy="696.9" rx="3.2" ry="3.9"/>
<ellipse cx="1585.6" cy="691.7" rx="3.2" ry="3.9"/>
<ellipse cx="1640.1" cy="692.5" rx="3.2" ry="3.9"/>
<ellipse cx="1649.8" cy="692.5" rx="3.2" ry="3.9"/>
<ellipse cx="1655.9" cy="684.6" rx="3.2" ry="3.9"/>
<ellipse cx="1661.2" cy="688.1" rx="3.2" ry="3.9"/>
<ellipse cx="1669.1" cy="691.7" rx="3.2" ry="3.9"/>
<ellipse cx="1680.5" cy="682.9" rx="3.2" ry="3.9"/>
<ellipse cx="1685.8" cy="683.7" rx="3.2" ry="3.9"/>
<ellipse cx="1687.6" cy="688.1" rx="3.2" ry="3.9"/>
<ellipse cx="1712.2" cy="694.3" rx="3.2" ry="3.9"/>
<ellipse cx="1608.4" cy="696.9" rx="3.2" ry="3.9"/>
<ellipse cx="1612.8" cy="700.5" rx="3.2" ry="3.9"/>
<ellipse cx="1620.7" cy="699.6" rx="3.2" ry="3.9"/>
<ellipse cx="1620.7" cy="707.5" rx="3.2" ry="3.9"/>
<ellipse cx="1610.2" cy="706.6" rx="3.2" ry="3.9"/>
<ellipse cx="1604.0" cy="702.2" rx="3.2" ry="3.9"/>
<ellipse cx="1597.0" cy="703.1" rx="3.2" ry="3.9"/>
<ellipse cx="1590.0" cy="704.0" rx="3.2" ry="3.9"/>
<ellipse cx="1586.4" cy="707.5" rx="3.2" ry="3.9"/>
<ellipse cx="1594.3" cy="712.8" rx="3.2" ry="3.9"/>
<ellipse cx="1601.4" cy="711.9" rx="3.2" ry="3.9"/>
<ellipse cx="1606.7" cy="707.5" rx="3.2" ry="3.9"/>
<ellipse cx="1632.2" cy="706.6" rx="3.2" ry="3.9"/>
<ellipse cx="1638.3" cy="708.4" rx="3.2" ry="3.9"/>
<ellipse cx="1645.4" cy="709.3" rx="3.2" ry="3.9"/>
<ellipse cx="1648.0" cy="714.5" rx="3.2" ry="3.9"/>
<ellipse cx="1646.2" cy="721.6" rx="3.2" ry="3.9"/>
<ellipse cx="1655.9" cy="696.9" rx="3.2" ry="3.9"/>
<ellipse cx="1656.8" cy="704.0" rx="3.2" ry="3.9"/>
<ellipse cx="1655.0" cy="709.3" rx="3.2" ry="3.9"/>
<ellipse cx="1654.2" cy="714.5" rx="3.2" ry="3.9"/>
<ellipse cx="1667.3" cy="700.5" rx="3.2" ry="3.9"/>
<ellipse cx="1668.2" cy="707.5" rx="3.2" ry="3.9"/>
<ellipse cx="1666.5" cy="712.8" rx="3.2" ry="3.9"/>
<ellipse cx="1672.6" cy="717.2" rx="3.2" ry="3.9"/>
<ellipse cx="1670.0" cy="721.6" rx="3.2" ry="3.9"/>
<ellipse cx="1676.1" cy="696.9" rx="3.2" ry="3.9"/>
<ellipse cx="1680.5" cy="698.7" rx="3.2" ry="3.9"/>
<ellipse cx="1685.8" cy="697.8" rx="3.2" ry="3.9"/>
<ellipse cx="1676.1" cy="704.0" rx="3.2" ry="3.9"/>
<ellipse cx="1678.8" cy="711.0" rx="3.2" ry="3.9"/>
<ellipse cx="1684.9" cy="703.1" rx="3.2" ry="3.9"/>
<ellipse cx="1689.3" cy="704.0" rx="3.2" ry="3.9"/>
<ellipse cx="1693.7" cy="705.7" rx="3.2" ry="3.9"/>
<ellipse cx="1696.4" cy="711.9" rx="3.2" ry="3.9"/>
<ellipse cx="1713.1" cy="721.6" rx="3.2" ry="3.9"/>
<ellipse cx="1583.8" cy="721.6" rx="3.2" ry="3.9"/>
<ellipse cx="1598.7" cy="719.8" rx="3.2" ry="3.9"/>
<ellipse cx="1610.2" cy="720.7" rx="3.2" ry="3.9"/>
<ellipse cx="1615.5" cy="720.7" rx="3.2" ry="3.9"/>
<ellipse cx="1622.5" cy="716.3" rx="3.2" ry="3.9"/>
<ellipse cx="1626.0" cy="721.6" rx="3.2" ry="3.9"/>
<ellipse cx="1631.3" cy="721.6" rx="3.2" ry="3.9"/>
<ellipse cx="1636.6" cy="723.3" rx="3.2" ry="3.9"/>
<ellipse cx="1595.2" cy="728.6" rx="3.2" ry="3.9"/>
<ellipse cx="1600.5" cy="725.1" rx="3.2" ry="3.9"/>
<ellipse cx="1604.0" cy="726.8" rx="3.2" ry="3.9"/>
<ellipse cx="1583.8" cy="732.1" rx="3.2" ry="3.9"/>
<ellipse cx="1588.2" cy="735.6" rx="3.2" ry="3.9"/>
<ellipse cx="1585.6" cy="741.8" rx="3.2" ry="3.9"/>
<ellipse cx="1590.0" cy="743.6" rx="3.2" ry="3.9"/>
<ellipse cx="1606.7" cy="734.8" rx="3.2" ry="3.9"/>
<ellipse cx="1612.8" cy="730.4" rx="3.2" ry="3.9"/>
<ellipse cx="1615.5" cy="733.0" rx="3.2" ry="3.9"/>
<ellipse cx="1617.2" cy="728.6" rx="3.2" ry="3.9"/>
<ellipse cx="1623.4" cy="726.8" rx="3.2" ry="3.9"/>
<ellipse cx="1629.5" cy="732.1" rx="3.2" ry="3.9"/>
<ellipse cx="1636.6" cy="730.4" rx="3.2" ry="3.9"/>
<ellipse cx="1641.8" cy="729.5" rx="3.2" ry="3.9"/>
<ellipse cx="1648.0" cy="732.1" rx="3.2" ry="3.9"/>
<ellipse cx="1654.2" cy="730.4" rx="3.2" ry="3.9"/>
<ellipse cx="1659.4" cy="731.2" rx="3.2" ry="3.9"/>
<ellipse cx="1638.3" cy="734.8" rx="3.2" ry="3.9"/>
<ellipse cx="1643.6" cy="735.6" rx="3.2" ry="3.9"/>
<ellipse cx="1690.2" cy="733.0" rx="3.2" ry="3.9"/>
<ellipse cx="1684.9" cy="740.0" rx="3.2" ry="3.9"/>
<ellipse cx="1698.1" cy="736.5" rx="3.2" ry="3.9"/>
<ellipse cx="1699.9" cy="742.7" rx="3.2" ry="3.9"/>
<ellipse cx="1712.2" cy="739.2" rx="3.2" ry="3.9"/>
<ellipse cx="1708.7" cy="744.4" rx="3.2" ry="3.9"/>
<ellipse cx="1699.9" cy="746.2" rx="3.2" ry="3.9"/>
<ellipse cx="1576.8" cy="739.2" rx="3.2" ry="3.9"/>
<ellipse cx="1597.0" cy="740.0" rx="3.2" ry="3.9"/>
<ellipse cx="1599.6" cy="744.4" rx="3.2" ry="3.9"/>
<ellipse cx="1605.8" cy="740.9" rx="3.2" ry="3.9"/>
<ellipse cx="1611.1" cy="740.9" rx="3.2" ry="3.9"/>
<ellipse cx="1613.7" cy="744.4" rx="3.2" ry="3.9"/>
<ellipse cx="1598.7" cy="749.7" rx="3.2" ry="3.9"/>
<ellipse cx="1601.4" cy="751.5" rx="3.2" ry="3.9"/>
<ellipse cx="1605.8" cy="753.2" rx="3.2" ry="3.9"/>
<ellipse cx="1607.5" cy="758.5" rx="3.2" ry="3.9"/>
<ellipse cx="1611.9" cy="748.0" rx="3.2" ry="3.9"/>
<ellipse cx="1615.5" cy="751.5" rx="3.2" ry="3.9"/>
<ellipse cx="1619.9" cy="753.2" rx="3.2" ry="3.9"/>
<ellipse cx="1621.6" cy="748.0" rx="3.2" ry="3.9"/>
<ellipse cx="1624.3" cy="755.0" rx="3.2" ry="3.9"/>
<ellipse cx="1626.0" cy="743.6" rx="3.2" ry="3.9"/>
<ellipse cx="1631.3" cy="742.7" rx="3.2" ry="3.9"/>
<ellipse cx="1635.7" cy="744.4" rx="3.2" ry="3.9"/>
<ellipse cx="1631.3" cy="748.8" rx="3.2" ry="3.9"/>
<ellipse cx="1632.2" cy="754.1" rx="3.2" ry="3.9"/>
<ellipse cx="1630.4" cy="759.4" rx="3.2" ry="3.9"/>
<ellipse cx="1626.0" cy="761.1" rx="3.2" ry="3.9"/>
<ellipse cx="1624.3" cy="765.5" rx="3.2" ry="3.9"/>
<ellipse cx="1627.8" cy="768.2" rx="3.2" ry="3.9"/>
<ellipse cx="1641.0" cy="748.0" rx="3.2" ry="3.9"/>
<ellipse cx="1642.7" cy="753.2" rx="3.2" ry="3.9"/>
<ellipse cx="1645.4" cy="756.7" rx="3.2" ry="3.9"/>
<ellipse cx="1649.8" cy="748.8" rx="3.2" ry="3.9"/>
<ellipse cx="1652.4" cy="753.2" rx="3.2" ry="3.9"/>
<ellipse cx="1655.9" cy="749.7" rx="3.2" ry="3.9"/>
<ellipse cx="1657.7" cy="755.0" rx="3.2" ry="3.9"/>
<ellipse cx="1657.7" cy="748.0" rx="3.2" ry="3.9"/>
<ellipse cx="1650.6" cy="762.0" rx="3.2" ry="3.9"/>
<ellipse cx="1659.4" cy="764.7" rx="3.2" ry="3.9"/>
<ellipse cx="1637.4" cy="761.1" rx="3.2" ry="3.9"/>
<ellipse cx="1615.5" cy="762.0" rx="3.2" ry="3.9"/>
<ellipse cx="1591.7" cy="756.7" rx="3.2" ry="3.9"/>
<ellipse cx="1590.8" cy="766.4" rx="3.2" ry="3.9"/>
<ellipse cx="1677.9" cy="750.6" rx="3.2" ry="3.9"/>
<ellipse cx="1678.8" cy="755.9" rx="3.2" ry="3.9"/>
<ellipse cx="1673.5" cy="759.4" rx="3.2" ry="3.9"/>
<ellipse cx="1677.0" cy="760.3" rx="3.2" ry="3.9"/>
<ellipse cx="1601.4" cy="770.8" rx="3.2" ry="3.9"/>
<ellipse cx="1606.7" cy="774.3" rx="3.2" ry="3.9"/>
<ellipse cx="1608.4" cy="778.7" rx="3.2" ry="3.9"/>
<ellipse cx="1641.8" cy="778.7" rx="3.2" ry="3.9"/>
<ellipse cx="1650.6" cy="778.7" rx="3.2" ry="3.9"/>
</g>
<g fill="#00BFC4" stroke="#00a9ae" stroke-width="0.8">
<ellipse cx="1842.6" cy="239.7" rx="3.2" ry="3.9"/>
<ellipse cx="1752.7" cy="328.4" rx="3.2" ry="3.9"/>
<ellipse cx="1782.3" cy="337.5" rx="3.2" ry="3.9"/>
<ellipse cx="1740.4" cy="354.7" rx="3.2" ry="3.9"/>
<ellipse cx="1758.4" cy="361.6" rx="3.2" ry="3.9"/>
<ellipse cx="1670.2" cy="386.7" rx="3.2" ry="3.9"/>
<ellipse cx="1731.0" cy="393.6" rx="3.2" ry="3.9"/>
<ellipse cx="1753.2" cy="390.4" rx="3.2" ry="3.9"/>
<ellipse cx="1792.6" cy="406.4" rx="3.2" ry="3.9"/>
<ellipse cx="1728.0" cy="429.6" rx="3.2" ry="3.9"/>
<ellipse cx="1686.7" cy="437.5" rx="3.2" ry="3.9"/>
<ellipse cx="1753.4" cy="447.1" rx="3.2" ry="3.9"/>
<ellipse cx="1695.3" cy="452.5" rx="3.2" ry="3.9"/>
<ellipse cx="1703.0" cy="455.2" rx="3.2" ry="3.9"/>
<ellipse cx="1740.9" cy="461.4" rx="3.2" ry="3.9"/>
<ellipse cx="1698.0" cy="465.6" rx="3.2" ry="3.9"/>
<ellipse cx="1706.4" cy="463.8" rx="3.2" ry="3.9"/>
<ellipse cx="1684.7" cy="470.0" rx="3.2" ry="3.9"/>
<ellipse cx="1752.7" cy="474.2" rx="3.2" ry="3.9"/>
<ellipse cx="1710.8" cy="476.6" rx="3.2" ry="3.9"/>
<ellipse cx="1709.6" cy="478.6" rx="3.2" ry="3.9"/>
<ellipse cx="1625.1" cy="490.7" rx="3.2" ry="3.9"/>
<ellipse cx="1665.3" cy="492.9" rx="3.2" ry="3.9"/>
<ellipse cx="1654.7" cy="506.2" rx="3.2" ry="3.9"/>
<ellipse cx="1712.0" cy="529.9" rx="3.2" ry="3.9"/>
<ellipse cx="1707.6" cy="540.2" rx="3.2" ry="3.9"/>
<ellipse cx="1724.6" cy="538.5" rx="3.2" ry="3.9"/>
<ellipse cx="1705.4" cy="546.8" rx="3.2" ry="3.9"/>
<ellipse cx="1633.3" cy="547.1" rx="3.2" ry="3.9"/>
<ellipse cx="1699.8" cy="555.0" rx="3.2" ry="3.9"/>
<ellipse cx="1707.1" cy="557.4" rx="3.2" ry="3.9"/>
<ellipse cx="1719.0" cy="554.2" rx="3.2" ry="3.9"/>
<ellipse cx="1690.9" cy="562.4" rx="3.2" ry="3.9"/>
<ellipse cx="1670.2" cy="577.9" rx="3.2" ry="3.9"/>
<ellipse cx="1621.7" cy="582.6" rx="3.2" ry="3.9"/>
<ellipse cx="1644.3" cy="582.6" rx="3.2" ry="3.9"/>
<ellipse cx="1659.1" cy="582.1" rx="3.2" ry="3.9"/>
<ellipse cx="1645.0" cy="590.7" rx="3.2" ry="3.9"/>
<ellipse cx="1695.6" cy="589.5" rx="3.2" ry="3.9"/>
<ellipse cx="1715.8" cy="591.9" rx="3.2" ry="3.9"/>
<ellipse cx="1737.9" cy="591.2" rx="3.2" ry="3.9"/>
<ellipse cx="1678.8" cy="595.6" rx="3.2" ry="3.9"/>
<ellipse cx="1671.4" cy="599.3" rx="3.2" ry="3.9"/>
<ellipse cx="1672.2" cy="603.0" rx="3.2" ry="3.9"/>
<ellipse cx="1644.3" cy="638.7" rx="3.2" ry="3.9"/>
<ellipse cx="1502.4" cy="628.3" rx="3.2" ry="3.9"/>
<ellipse cx="1564.0" cy="642.6" rx="3.2" ry="3.9"/>
<ellipse cx="1647.1" cy="646.6" rx="3.2" ry="3.9"/>
<ellipse cx="1620.3" cy="650.2" rx="3.2" ry="3.9"/>
<ellipse cx="1604.9" cy="666.4" rx="3.2" ry="3.9"/>
<ellipse cx="1639.1" cy="685.9" rx="3.2" ry="3.9"/>
<ellipse cx="1685.6" cy="723.6" rx="3.2" ry="3.9"/>
</g>
</g>
<text transform="translate(1564.00,689.00) scale(1,1.1)" font-size="17">Normal</text>
<text transform="translate(1669.00,523.40) scale(1,1.1)" font-size="16.5">Tumor</text>
<line x1="1328.3" y1="903.0" x2="1328.3" y2="908.0" stroke="#333" stroke-width="1.3"/>
<text transform="translate(1328.30,923.80) scale(1,1.14)" font-size="14.2" text-anchor="middle" fill="#4d4d4d">−5.0</text>
<line x1="1464.8" y1="903.0" x2="1464.8" y2="908.0" stroke="#333" stroke-width="1.3"/>
<text transform="translate(1464.80,923.80) scale(1,1.14)" font-size="14.2" text-anchor="middle" fill="#4d4d4d">−2.5</text>
<line x1="1601.3" y1="903.0" x2="1601.3" y2="908.0" stroke="#333" stroke-width="1.3"/>
<text transform="translate(1601.30,923.80) scale(1,1.14)" font-size="14.2" text-anchor="middle" fill="#4d4d4d">0.0</text>
<line x1="1737.8" y1="903.0" x2="1737.8" y2="908.0" stroke="#333" stroke-width="1.3"/>
<text transform="translate(1737.80,923.80) scale(1,1.14)" font-size="14.2" text-anchor="middle" fill="#4d4d4d">2.5</text>
<line x1="1241.0" y1="426.8" x2="1245.5" y2="426.8" stroke="#333" stroke-width="1.3"/>
<text transform="translate(1238.00,432.40) scale(1,1.14)" font-size="14.2" text-anchor="end" fill="#4d4d4d">5</text>
<line x1="1241.0" y1="666.8" x2="1245.5" y2="666.8" stroke="#333" stroke-width="1.3"/>
<text transform="translate(1238.00,672.40) scale(1,1.14)" font-size="14.2" text-anchor="end" fill="#4d4d4d">0</text>
<text transform="translate(1557.50,945.80) scale(1,1.13)" font-size="16.4" text-anchor="middle">PCA1</text>
<text transform="translate(1222.30,556.00) scale(1.13,1.17) rotate(-90)" font-size="16.4" text-anchor="middle">PCA2</text>
<text transform="translate(1897.40,527.00) scale(1,1.1)" font-size="17.2">group</text>
<line x1="1899.5" y1="554.8" x2="1914" y2="554.8" stroke="#F8766D" stroke-width="3.5"/>
<ellipse cx="1911.5" cy="554.8" rx="3.4" ry="4" fill="#F8766D"/>
<text transform="translate(1933.70,560.30) scale(1,1.13)" font-size="13.9">Normal</text>
<line x1="1899.5" y1="585.1" x2="1914" y2="585.1" stroke="#00BFC4" stroke-width="3.5"/>
<ellipse cx="1911.5" cy="585.1" rx="3.4" ry="4" fill="#00BFC4"/>
<text transform="translate(1933.70,590.60) scale(1,1.13)" font-size="13.9">Tumor</text>
<rect x="151.2" y="1018.6" width="1844.6" height="506.0" fill="none" stroke="#111" stroke-width="1.7"/>
<line x1="137.2" y1="1505.3" x2="151.2" y2="1505.3" stroke="#111" stroke-width="1.3"/>
<text transform="translate(122.50,1510.90) scale(1.42,1)" font-size="15.5" text-anchor="end" stroke="#000" stroke-width="0.3">0.0</text>
<line x1="137.2" y1="1407.7" x2="151.2" y2="1407.7" stroke="#111" stroke-width="1.3"/>
<text transform="translate(122.50,1413.30) scale(1.42,1)" font-size="15.5" text-anchor="end" stroke="#000" stroke-width="0.3">0.1</text>
<line x1="137.2" y1="1310.1" x2="151.2" y2="1310.1" stroke="#111" stroke-width="1.3"/>
<text transform="translate(122.50,1315.70) scale(1.42,1)" font-size="15.5" text-anchor="end" stroke="#000" stroke-width="0.3">0.2</text>
<line x1="137.2" y1="1212.5" x2="151.2" y2="1212.5" stroke="#111" stroke-width="1.3"/>
<text transform="translate(122.50,1218.10) scale(1.42,1)" font-size="15.5" text-anchor="end" stroke="#000" stroke-width="0.3">0.3</text>
<line x1="137.2" y1="1114.9" x2="151.2" y2="1114.9" stroke="#111" stroke-width="1.3"/>
<text transform="translate(122.50,1120.50) scale(1.42,1)" font-size="15.5" text-anchor="end" stroke="#000" stroke-width="0.3">0.4</text>
<text transform="translate(62.20,1271.50) scale(1.5,1) rotate(-90)" font-size="15.2" text-anchor="middle">Fraction</text>
<path d="M220.40,1322.50 C220.57,1325.42 220.98,1333.92 221.40,1340.00 C221.82,1346.08 222.23,1352.33 222.90,1359.00 C223.57,1365.67 224.40,1371.50 225.40,1380.00 C226.40,1388.50 227.98,1399.17 228.90,1410.00 C229.82,1420.83 230.73,1434.17 230.90,1445.00 C231.07,1455.83 230.40,1466.67 229.90,1475.00 C229.40,1483.33 228.37,1489.92 227.90,1495.00 C227.43,1500.08 227.23,1503.75 227.10,1505.50 L212.70,1505.50 C212.57,1503.75 212.37,1500.08 211.90,1495.00 C211.43,1489.92 210.40,1483.33 209.90,1475.00 C209.40,1466.67 208.73,1455.83 208.90,1445.00 C209.07,1434.17 209.98,1420.83 210.90,1410.00 C211.82,1399.17 213.40,1388.50 214.40,1380.00 C215.40,1371.50 216.23,1365.67 216.90,1359.00 C217.57,1352.33 217.98,1346.08 218.40,1340.00 C218.82,1333.92 219.23,1325.42 219.40,1322.50 Z" fill="#0000FF" stroke="#000" stroke-width="1.5" stroke-linejoin="round"/>
<line x1="219.9" y1="1322.5" x2="219.9" y2="1505.5" stroke="#000" stroke-width="1.3"/>
<line x1="219.9" y1="1416" x2="219.9" y2="1480" stroke="#000" stroke-width="3"/>
<ellipse cx="219.9" cy="1447" rx="6" ry="4" fill="#fff"/>
<path d="M248.70,1292.60 C248.78,1297.17 248.87,1310.43 249.20,1320.00 C249.53,1329.57 250.03,1340.00 250.70,1350.00 C251.37,1360.00 252.37,1370.00 253.20,1380.00 C254.03,1390.00 255.03,1399.50 255.70,1410.00 C256.37,1420.50 257.12,1432.17 257.20,1443.00 C257.28,1453.83 256.70,1466.33 256.20,1475.00 C255.70,1483.67 254.70,1489.92 254.20,1495.00 C253.70,1500.08 253.37,1503.75 253.20,1505.50 L241.20,1505.50 C241.03,1503.75 240.70,1500.08 240.20,1495.00 C239.70,1489.92 238.70,1483.67 238.20,1475.00 C237.70,1466.33 237.12,1453.83 237.20,1443.00 C237.28,1432.17 238.03,1420.50 238.70,1410.00 C239.37,1399.50 240.37,1390.00 241.20,1380.00 C242.03,1370.00 243.03,1360.00 243.70,1350.00 C244.37,1340.00 244.87,1329.57 245.20,1320.00 C245.53,1310.43 245.62,1297.17 245.70,1292.60 Z" fill="#FF0000" stroke="#000" stroke-width="1.5" stroke-linejoin="round"/>
<line x1="247.2" y1="1292.6" x2="247.2" y2="1505.5" stroke="#000" stroke-width="1.3"/>
<line x1="247.2" y1="1403" x2="247.2" y2="1479" stroke="#000" stroke-width="3"/>
<ellipse cx="247.2" cy="1443.5" rx="6" ry="4" fill="#fff"/>
<line x1="225.1" y1="1292.6" x2="241.9" y2="1292.6" stroke="#000" stroke-width="1.3"/>
<text transform="translate(233.50,1276.30) scale(1.47,1)" font-size="13.0" text-anchor="middle" stroke="#000" stroke-width="0.3">p=0.528</text>
<text transform="translate(237.00,1558.00) scale(1.55,1) rotate(-45)" font-size="15.3" text-anchor="end" stroke="#000" stroke-width="0.35">B cells naive</text>
<path d="M301.50,1378.70 C301.58,1387.25 301.67,1418.12 302.00,1430.00 C302.33,1441.88 302.83,1443.33 303.50,1450.00 C304.17,1456.67 305.08,1464.17 306.00,1470.00 C306.92,1475.83 308.08,1480.83 309.00,1485.00 C309.92,1489.17 310.92,1491.58 311.50,1495.00 C312.08,1498.42 312.33,1503.75 312.50,1505.50 L289.50,1505.50 C289.67,1503.75 289.92,1498.42 290.50,1495.00 C291.08,1491.58 292.08,1489.17 293.00,1485.00 C293.92,1480.83 295.08,1475.83 296.00,1470.00 C296.92,1464.17 297.83,1456.67 298.50,1450.00 C299.17,1443.33 299.67,1441.88 300.00,1430.00 C300.33,1418.12 300.42,1387.25 300.50,1378.70 Z" fill="#0000FF" stroke="#000" stroke-width="1.5" stroke-linejoin="round"/>
<line x1="301.0" y1="1378.7" x2="301.0" y2="1505.5" stroke="#000" stroke-width="1.3"/>
<line x1="301.0" y1="1488" x2="301.0" y2="1505.5" stroke="#000" stroke-width="3"/>
<ellipse cx="301.0" cy="1505.5" rx="6" ry="4" fill="#fff"/>
<path d="M328.80,1472.00 C328.83,1476.17 328.67,1492.17 329.00,1497.00 C329.33,1501.83 329.92,1499.92 330.80,1501.00 C331.68,1502.08 332.88,1502.75 334.30,1503.50 C335.72,1504.25 338.47,1505.17 339.30,1505.50 L317.30,1505.50 C318.13,1505.17 320.88,1504.25 322.30,1503.50 C323.72,1502.75 324.92,1502.08 325.80,1501.00 C326.68,1499.92 327.27,1501.83 327.60,1497.00 C327.93,1492.17 327.77,1476.17 327.80,1472.00 Z" fill="#FF0000" stroke="#000" stroke-width="1.5" stroke-linejoin="round"/>
<line x1="328.3" y1="1472" x2="328.3" y2="1505.5" stroke="#000" stroke-width="1.3"/>
<ellipse cx="328.3" cy="1505.5" rx="6" ry="4" fill="#fff"/>
<line x1="306.2" y1="1378.7" x2="323.0" y2="1378.7" stroke="#000" stroke-width="1.3"/>
<text transform="translate(314.60,1362.40) scale(1.47,1)" font-size="13.0" text-anchor="middle" stroke="#000" stroke-width="0.3">p=0.001</text>
<text transform="translate(318.10,1558.00) scale(1.55,1) rotate(-45)" font-size="15.3" text-anchor="end" stroke="#000" stroke-width="0.35">B cells memory</text>
<path d="M382.80,1396.80 C382.88,1400.67 382.97,1412.80 383.30,1420.00 C383.63,1427.20 384.05,1433.33 384.80,1440.00 C385.55,1446.67 386.80,1453.33 387.80,1460.00 C388.80,1466.67 389.97,1474.17 390.80,1480.00 C391.63,1485.83 392.38,1490.75 392.80,1495.00 C393.22,1499.25 393.22,1503.75 393.30,1505.50 L371.30,1505.50 C371.38,1503.75 371.38,1499.25 371.80,1495.00 C372.22,1490.75 372.97,1485.83 373.80,1480.00 C374.63,1474.17 375.80,1466.67 376.80,1460.00 C377.80,1453.33 379.05,1446.67 379.80,1440.00 C380.55,1433.33 380.97,1427.20 381.30,1420.00 C381.63,1412.80 381.72,1400.67 381.80,1396.80 Z" fill="#0000FF" stroke="#000" stroke-width="1.5" stroke-linejoin="round"/>
<line x1="382.3" y1="1396.8" x2="382.3" y2="1505.5" stroke="#000" stroke-width="1.3"/>
<line x1="382.3" y1="1470" x2="382.3" y2="1505.5" stroke="#000" stroke-width="3"/>
<ellipse cx="382.3" cy="1496.9" rx="6" ry="4" fill="#fff"/>
<path d="M410.10,1405.80 C410.18,1412.33 410.27,1435.97 410.60,1445.00 C410.93,1454.03 411.43,1455.00 412.10,1460.00 C412.77,1465.00 413.60,1470.00 414.60,1475.00 C415.60,1480.00 417.18,1485.83 418.10,1490.00 C419.02,1494.17 419.68,1497.42 420.10,1500.00 C420.52,1502.58 420.52,1504.58 420.60,1505.50 L398.60,1505.50 C398.68,1504.58 398.68,1502.58 399.10,1500.00 C399.52,1497.42 400.18,1494.17 401.10,1490.00 C402.02,1485.83 403.60,1480.00 404.60,1475.00 C405.60,1470.00 406.43,1465.00 407.10,1460.00 C407.77,1455.00 408.27,1454.03 408.60,1445.00 C408.93,1435.97 409.02,1412.33 409.10,1405.80 Z" fill="#FF0000" stroke="#000" stroke-width="1.5" stroke-linejoin="round"/>
<line x1="409.6" y1="1405.8" x2="409.6" y2="1505.5" stroke="#000" stroke-width="1.3"/>
<line x1="409.6" y1="1480" x2="409.6" y2="1505.5" stroke="#000" stroke-width="3"/>
<ellipse cx="409.6" cy="1505.5" rx="6" ry="4" fill="#fff"/>
<line x1="387.5" y1="1396.8" x2="404.3" y2="1396.8" stroke="#000" stroke-width="1.3"/>
<text transform="translate(395.90,1380.50) scale(1.47,1)" font-size="13.0" text-anchor="middle" stroke="#000" stroke-width="0.3">p=0.051</text>
<text transform="translate(399.40,1558.00) scale(1.55,1) rotate(-45)" font-size="15.3" text-anchor="end" stroke="#000" stroke-width="0.35">Plasma cells</text>
<path d="M464.10,1247.80 C464.18,1254.83 464.27,1277.97 464.60,1290.00 C464.93,1302.03 465.43,1310.00 466.10,1320.00 C466.77,1330.00 467.77,1340.00 468.60,1350.00 C469.43,1360.00 470.27,1370.00 471.10,1380.00 C471.93,1390.00 472.93,1400.00 473.60,1410.00 C474.27,1420.00 474.93,1430.00 475.10,1440.00 C475.27,1450.00 475.02,1461.67 474.60,1470.00 C474.18,1478.33 473.18,1484.08 472.60,1490.00 C472.02,1495.92 471.35,1502.92 471.10,1505.50 L456.10,1505.50 C455.85,1502.92 455.18,1495.92 454.60,1490.00 C454.02,1484.08 453.02,1478.33 452.60,1470.00 C452.18,1461.67 451.93,1450.00 452.10,1440.00 C452.27,1430.00 452.93,1420.00 453.60,1410.00 C454.27,1400.00 455.27,1390.00 456.10,1380.00 C456.93,1370.00 457.77,1360.00 458.60,1350.00 C459.43,1340.00 460.43,1330.00 461.10,1320.00 C461.77,1310.00 462.27,1302.03 462.60,1290.00 C462.93,1277.97 463.02,1254.83 463.10,1247.80 Z" fill="#0000FF" stroke="#000" stroke-width="1.5" stroke-linejoin="round"/>
<line x1="463.6" y1="1247.8" x2="463.6" y2="1505.5" stroke="#000" stroke-width="1.3"/>
<line x1="463.6" y1="1389" x2="463.6" y2="1475" stroke="#000" stroke-width="3"/>
<ellipse cx="463.6" cy="1438" rx="6" ry="4" fill="#fff"/>
<path d="M495.90,1270.70 C496.07,1275.58 496.23,1288.45 496.90,1300.00 C497.57,1311.55 499.07,1326.67 499.90,1340.00 C500.73,1353.33 501.57,1368.33 501.90,1380.00 C502.23,1391.67 502.15,1398.33 501.90,1410.00 C501.65,1421.67 500.98,1438.33 500.40,1450.00 C499.82,1461.67 498.98,1470.75 498.40,1480.00 C497.82,1489.25 497.15,1501.25 496.90,1505.50 L484.90,1505.50 C484.65,1501.25 483.98,1489.25 483.40,1480.00 C482.82,1470.75 481.98,1461.67 481.40,1450.00 C480.82,1438.33 480.15,1421.67 479.90,1410.00 C479.65,1398.33 479.57,1391.67 479.90,1380.00 C480.23,1368.33 481.07,1353.33 481.90,1340.00 C482.73,1326.67 484.23,1311.55 484.90,1300.00 C485.57,1288.45 485.73,1275.58 485.90,1270.70 Z" fill="#FF0000" stroke="#000" stroke-width="1.5" stroke-linejoin="round"/>
<line x1="490.9" y1="1270.7" x2="490.9" y2="1505.5" stroke="#000" stroke-width="1.3"/>
<line x1="490.9" y1="1355" x2="490.9" y2="1459" stroke="#000" stroke-width="3"/>
<ellipse cx="490.9" cy="1396.8" rx="6" ry="4" fill="#fff"/>
<line x1="468.8" y1="1247.8" x2="485.6" y2="1247.8" stroke="#000" stroke-width="1.3"/>
<text transform="translate(477.20,1231.50) scale(1.47,1)" font-size="13.0" text-anchor="middle" stroke="#000" stroke-width="0.3">p=0.001</text>
<text transform="translate(480.70,1558.00) scale(1.55,1) rotate(-45)" font-size="15.3" text-anchor="end" stroke="#000" stroke-width="0.35">T cells CD8</text>
<path d="M545.90,1353.00 C545.98,1364.17 546.15,1404.67 546.40,1420.00 C546.65,1435.33 546.73,1436.83 547.40,1445.00 C548.07,1453.17 549.23,1461.67 550.40,1469.00 C551.57,1476.33 553.40,1482.92 554.40,1489.00 C555.40,1495.08 556.07,1502.75 556.40,1505.50 L534.40,1505.50 C534.73,1502.75 535.40,1495.08 536.40,1489.00 C537.40,1482.92 539.23,1476.33 540.40,1469.00 C541.57,1461.67 542.73,1453.17 543.40,1445.00 C544.07,1436.83 544.15,1435.33 544.40,1420.00 C544.65,1404.67 544.82,1364.17 544.90,1353.00 Z" fill="#0000FF" stroke="#000" stroke-width="1.5" stroke-linejoin="round"/>
<line x1="545.4" y1="1353" x2="545.4" y2="1505.5" stroke="#000" stroke-width="1.3"/>
<ellipse cx="545.4" cy="1505.5" rx="6" ry="4" fill="#fff"/>
<line x1="550.6" y1="1353" x2="567.4" y2="1353" stroke="#000" stroke-width="1.3"/>
<text transform="translate(559.00,1336.70) scale(1.47,1)" font-size="13.0" text-anchor="middle" stroke="#000" stroke-width="0.3">p=0.046</text>
<text transform="translate(562.50,1558.00) scale(1.55,1) rotate(-45)" font-size="15.3" text-anchor="end" stroke="#000" stroke-width="0.35">T cells CD4 naive</text>
<path d="M626.60,1226.20 C626.68,1231.83 626.68,1247.70 627.10,1260.00 C627.52,1272.30 627.93,1286.83 629.10,1300.00 C630.27,1313.17 632.77,1325.83 634.10,1339.00 C635.43,1352.17 636.53,1369.67 637.10,1379.00 C637.67,1388.33 637.67,1388.33 637.50,1395.00 C637.33,1401.67 636.83,1408.33 636.10,1419.00 C635.37,1429.67 634.27,1447.33 633.10,1459.00 C631.93,1470.67 629.93,1481.25 629.10,1489.00 C628.27,1496.75 628.27,1502.75 628.10,1505.50 L624.10,1505.50 C623.93,1502.75 623.93,1496.75 623.10,1489.00 C622.27,1481.25 620.27,1470.67 619.10,1459.00 C617.93,1447.33 616.83,1429.67 616.10,1419.00 C615.37,1408.33 614.87,1401.67 614.70,1395.00 C614.53,1388.33 614.53,1388.33 615.10,1379.00 C615.67,1369.67 616.77,1352.17 618.10,1339.00 C619.43,1325.83 621.93,1313.17 623.10,1300.00 C624.27,1286.83 624.68,1272.30 625.10,1260.00 C625.52,1247.70 625.52,1231.83 625.60,1226.20 Z" fill="#0000FF" stroke="#000" stroke-width="1.5" stroke-linejoin="round"/>
<line x1="626.1" y1="1226.2" x2="626.1" y2="1505.5" stroke="#000" stroke-width="1.3"/>
<line x1="626.1" y1="1357.4" x2="626.1" y2="1421.1" stroke="#000" stroke-width="3"/>
<ellipse cx="626.1" cy="1391.2" rx="6" ry="4" fill="#fff"/>
<path d="M655.40,1227.20 C655.90,1232.67 657.23,1247.87 658.40,1260.00 C659.57,1272.13 661.33,1286.83 662.40,1300.00 C663.47,1313.17 664.70,1325.83 664.80,1339.00 C664.90,1352.17 663.90,1365.67 663.00,1379.00 C662.10,1392.33 660.40,1405.67 659.40,1419.00 C658.40,1432.33 657.50,1451.00 657.00,1459.00 C656.50,1467.00 656.50,1465.67 656.40,1467.00 L650.40,1467.00 C650.30,1465.67 650.30,1467.00 649.80,1459.00 C649.30,1451.00 648.40,1432.33 647.40,1419.00 C646.40,1405.67 644.70,1392.33 643.80,1379.00 C642.90,1365.67 641.90,1352.17 642.00,1339.00 C642.10,1325.83 643.33,1313.17 644.40,1300.00 C645.47,1286.83 647.23,1272.13 648.40,1260.00 C649.57,1247.87 650.90,1232.67 651.40,1227.20 Z" fill="#FF0000" stroke="#000" stroke-width="1.5" stroke-linejoin="round"/>
<line x1="653.4" y1="1227.2" x2="653.4" y2="1467" stroke="#000" stroke-width="1.3"/>
<line x1="653.4" y1="1311.5" x2="653.4" y2="1389.2" stroke="#000" stroke-width="3"/>
<ellipse cx="653.4" cy="1350.8" rx="6" ry="4" fill="#fff"/>
<line x1="631.3" y1="1226.2" x2="648.1" y2="1226.2" stroke="#000" stroke-width="1.3"/>
<text transform="translate(639.70,1209.90) scale(1.47,1)" font-size="13.0" text-anchor="middle" stroke="#000" stroke-width="0.3">p<0.001</text>
<text transform="translate(643.20,1558.00) scale(1.55,1) rotate(-45)" font-size="15.3" text-anchor="end" stroke="#000" stroke-width="0.35">T cells CD4 memory resting</text>
<path d="M708.20,1489.90 C708.62,1490.75 709.78,1493.48 710.70,1495.00 C711.62,1496.52 712.70,1497.67 713.70,1499.00 C714.70,1500.33 715.87,1501.92 716.70,1503.00 C717.53,1504.08 718.37,1505.08 718.70,1505.50 L696.70,1505.50 C697.03,1505.08 697.87,1504.08 698.70,1503.00 C699.53,1501.92 700.70,1500.33 701.70,1499.00 C702.70,1497.67 703.78,1496.52 704.70,1495.00 C705.62,1493.48 706.78,1490.75 707.20,1489.90 Z" fill="#0000FF" stroke="#000" stroke-width="1.5" stroke-linejoin="round"/>
<line x1="707.7" y1="1489.9" x2="707.7" y2="1505.5" stroke="#000" stroke-width="1.3"/>
<ellipse cx="707.7" cy="1505.5" rx="6" ry="4" fill="#fff"/>
<path d="M735.70,1438.10 C735.78,1440.92 735.45,1449.85 736.20,1455.00 C736.95,1460.15 738.87,1463.33 740.20,1469.00 C741.53,1474.67 743.20,1482.92 744.20,1489.00 C745.20,1495.08 745.87,1502.75 746.20,1505.50 L724.20,1505.50 C724.53,1502.75 725.20,1495.08 726.20,1489.00 C727.20,1482.92 728.87,1474.67 730.20,1469.00 C731.53,1463.33 733.45,1460.15 734.20,1455.00 C734.95,1449.85 734.62,1440.92 734.70,1438.10 Z" fill="#FF0000" stroke="#000" stroke-width="1.5" stroke-linejoin="round"/>
<line x1="735.2" y1="1438.1" x2="735.2" y2="1505.5" stroke="#000" stroke-width="1.3"/>
<line x1="735.2" y1="1478" x2="735.2" y2="1505.5" stroke="#000" stroke-width="3"/>
<ellipse cx="735.2" cy="1495.9" rx="6" ry="4" fill="#fff"/>
<line x1="712.9" y1="1438.1" x2="729.7" y2="1438.1" stroke="#000" stroke-width="1.3"/>
<text transform="translate(721.30,1421.80) scale(1.47,1)" font-size="13.0" text-anchor="middle" stroke="#000" stroke-width="0.3">p<0.001</text>
<text transform="translate(724.80,1558.00) scale(1.55,1) rotate(-45)" font-size="15.3" text-anchor="end" stroke="#000" stroke-width="0.35">T cells CD4 memory activated</text>
<path d="M789.50,1325.50 C789.58,1336.08 789.25,1373.42 790.00,1389.00 C790.75,1404.58 792.67,1409.00 794.00,1419.00 C795.33,1429.00 797.00,1440.67 798.00,1449.00 C799.00,1457.33 799.67,1462.33 800.00,1469.00 C800.33,1475.67 800.17,1482.92 800.00,1489.00 C799.83,1495.08 799.17,1502.75 799.00,1505.50 L779.00,1505.50 C778.83,1502.75 778.17,1495.08 778.00,1489.00 C777.83,1482.92 777.67,1475.67 778.00,1469.00 C778.33,1462.33 779.00,1457.33 780.00,1449.00 C781.00,1440.67 782.67,1429.00 784.00,1419.00 C785.33,1409.00 787.25,1404.58 788.00,1389.00 C788.75,1373.42 788.42,1336.08 788.50,1325.50 Z" fill="#0000FF" stroke="#000" stroke-width="1.5" stroke-linejoin="round"/>
<line x1="789.0" y1="1325.5" x2="789.0" y2="1505.5" stroke="#000" stroke-width="1.3"/>
<line x1="789.0" y1="1449" x2="789.0" y2="1505.5" stroke="#000" stroke-width="3"/>
<ellipse cx="789.0" cy="1473" rx="6" ry="4" fill="#fff"/>
<path d="M817.00,1438.10 C817.08,1444.92 816.58,1469.52 817.50,1479.00 C818.42,1488.48 820.83,1490.58 822.50,1495.00 C824.17,1499.42 826.67,1503.75 827.50,1505.50 L805.50,1505.50 C806.33,1503.75 808.83,1499.42 810.50,1495.00 C812.17,1490.58 814.58,1488.48 815.50,1479.00 C816.42,1469.52 815.92,1444.92 816.00,1438.10 Z" fill="#FF0000" stroke="#000" stroke-width="1.5" stroke-linejoin="round"/>
<line x1="816.5" y1="1438.1" x2="816.5" y2="1505.5" stroke="#000" stroke-width="1.3"/>
<ellipse cx="816.5" cy="1505.5" rx="6" ry="4" fill="#fff"/>
<line x1="794.2" y1="1325.5" x2="811.0" y2="1325.5" stroke="#000" stroke-width="1.3"/>
<text transform="translate(802.60,1309.20) scale(1.47,1)" font-size="13.0" text-anchor="middle" stroke="#000" stroke-width="0.3">p<0.001</text>
<text transform="translate(806.10,1558.00) scale(1.55,1) rotate(-45)" font-size="15.3" text-anchor="end" stroke="#000" stroke-width="0.35">T cells follicular helper</text>
<path d="M871.00,1450.40 C871.08,1455.83 870.58,1475.57 871.50,1483.00 C872.42,1490.43 874.83,1491.25 876.50,1495.00 C878.17,1498.75 880.67,1503.75 881.50,1505.50 L859.50,1505.50 C860.33,1503.75 862.83,1498.75 864.50,1495.00 C866.17,1491.25 868.58,1490.43 869.50,1483.00 C870.42,1475.57 869.92,1455.83 870.00,1450.40 Z" fill="#0000FF" stroke="#000" stroke-width="1.5" stroke-linejoin="round"/>
<line x1="870.5" y1="1450.4" x2="870.5" y2="1505.5" stroke="#000" stroke-width="1.3"/>
<ellipse cx="870.5" cy="1505.5" rx="6" ry="4" fill="#fff"/>
<path d="M899.30,1442.00 C899.63,1443.00 900.47,1445.33 901.30,1448.00 C902.13,1450.67 903.30,1454.00 904.30,1458.00 C905.30,1462.00 906.55,1466.67 907.30,1472.00 C908.05,1477.33 908.55,1484.42 908.80,1490.00 C909.05,1495.58 908.80,1502.92 908.80,1505.50 L886.80,1505.50 C886.80,1502.92 886.55,1495.58 886.80,1490.00 C887.05,1484.42 887.55,1477.33 888.30,1472.00 C889.05,1466.67 890.30,1462.00 891.30,1458.00 C892.30,1454.00 893.47,1450.67 894.30,1448.00 C895.13,1445.33 895.97,1443.00 896.30,1442.00 Z" fill="#FF0000" stroke="#000" stroke-width="1.5" stroke-linejoin="round"/>
<line x1="897.8" y1="1442" x2="897.8" y2="1505.5" stroke="#000" stroke-width="1.3"/>
<line x1="897.8" y1="1445" x2="897.8" y2="1505.5" stroke="#000" stroke-width="3"/>
<ellipse cx="897.8" cy="1484.9" rx="6" ry="4" fill="#fff"/>
<line x1="875.7" y1="1442" x2="892.5" y2="1442" stroke="#000" stroke-width="1.3"/>
<text transform="translate(884.10,1425.70) scale(1.47,1)" font-size="13.0" text-anchor="middle" stroke="#000" stroke-width="0.3">p<0.001</text>
<text transform="translate(887.60,1558.00) scale(1.55,1) rotate(-45)" font-size="15.3" text-anchor="end" stroke="#000" stroke-width="0.35">T cells regulatory (Tregs)</text>
<path d="M952.10,1487.90 C952.85,1489.75 954.85,1496.07 956.60,1499.00 C958.35,1501.93 961.60,1504.42 962.60,1505.50 L940.60,1505.50 C941.60,1504.42 944.85,1501.93 946.60,1499.00 C948.35,1496.07 950.35,1489.75 951.10,1487.90 Z" fill="#0000FF" stroke="#000" stroke-width="1.5" stroke-linejoin="round"/>
<line x1="951.6" y1="1487.9" x2="951.6" y2="1505.5" stroke="#000" stroke-width="1.3"/>
<ellipse cx="951.6" cy="1505.5" rx="6" ry="4" fill="#fff"/>
<path d="M979.90,1464.00 C979.93,1466.50 979.43,1474.83 980.10,1479.00 C980.77,1483.17 982.60,1485.67 983.90,1489.00 C985.20,1492.33 986.90,1496.25 987.90,1499.00 C988.90,1501.75 989.57,1504.42 989.90,1505.50 L967.90,1505.50 C968.23,1504.42 968.90,1501.75 969.90,1499.00 C970.90,1496.25 972.60,1492.33 973.90,1489.00 C975.20,1485.67 977.03,1483.17 977.70,1479.00 C978.37,1474.83 977.87,1466.50 977.90,1464.00 Z" fill="#FF0000" stroke="#000" stroke-width="1.5" stroke-linejoin="round"/>
<line x1="978.9" y1="1464" x2="978.9" y2="1505.5" stroke="#000" stroke-width="1.3"/>
<line x1="978.9" y1="1470" x2="978.9" y2="1505.5" stroke="#000" stroke-width="3"/>
<ellipse cx="978.9" cy="1501.2" rx="6" ry="4" fill="#fff"/>
<line x1="956.8" y1="1464" x2="973.6" y2="1464" stroke="#000" stroke-width="1.3"/>
<text transform="translate(965.20,1447.70) scale(1.47,1)" font-size="13.0" text-anchor="middle" stroke="#000" stroke-width="0.3">p<0.001</text>
<text transform="translate(968.70,1558.00) scale(1.55,1) rotate(-45)" font-size="15.3" text-anchor="end" stroke="#000" stroke-width="0.35">T cells gamma delta</text>
<path d="M1033.40,1322.50 C1033.48,1330.25 1033.38,1356.25 1033.90,1369.00 C1034.42,1381.75 1035.33,1389.00 1036.50,1399.00 C1037.67,1409.00 1039.67,1419.00 1040.90,1429.00 C1042.13,1439.00 1043.40,1450.67 1043.90,1459.00 C1044.40,1467.33 1044.23,1471.25 1043.90,1479.00 C1043.57,1486.75 1042.23,1501.08 1041.90,1505.50 L1023.90,1505.50 C1023.57,1501.08 1022.23,1486.75 1021.90,1479.00 C1021.57,1471.25 1021.40,1467.33 1021.90,1459.00 C1022.40,1450.67 1023.67,1439.00 1024.90,1429.00 C1026.13,1419.00 1028.13,1409.00 1029.30,1399.00 C1030.47,1389.00 1031.38,1381.75 1031.90,1369.00 C1032.42,1356.25 1032.32,1330.25 1032.40,1322.50 Z" fill="#0000FF" stroke="#000" stroke-width="1.5" stroke-linejoin="round"/>
<line x1="1032.9" y1="1322.5" x2="1032.9" y2="1505.5" stroke="#000" stroke-width="1.3"/>
<line x1="1032.9" y1="1447" x2="1032.9" y2="1505.5" stroke="#000" stroke-width="3"/>
<ellipse cx="1032.9" cy="1468.4" rx="6" ry="4" fill="#fff"/>
<path d="M1060.70,1485.00 C1060.73,1487.50 1060.48,1497.08 1060.90,1500.00 C1061.32,1502.92 1062.15,1501.78 1063.20,1502.50 C1064.25,1503.22 1065.87,1503.80 1067.20,1504.30 C1068.53,1504.80 1070.53,1505.30 1071.20,1505.50 L1049.20,1505.50 C1049.87,1505.30 1051.87,1504.80 1053.20,1504.30 C1054.53,1503.80 1056.15,1503.22 1057.20,1502.50 C1058.25,1501.78 1059.08,1502.92 1059.50,1500.00 C1059.92,1497.08 1059.67,1487.50 1059.70,1485.00 Z" fill="#FF0000" stroke="#000" stroke-width="1.5" stroke-linejoin="round"/>
<line x1="1060.2" y1="1485" x2="1060.2" y2="1505.5" stroke="#000" stroke-width="1.3"/>
<ellipse cx="1060.2" cy="1505.5" rx="6" ry="4" fill="#fff"/>
<line x1="1038.1" y1="1322.5" x2="1054.9" y2="1322.5" stroke="#000" stroke-width="1.3"/>
<text transform="translate(1046.50,1306.20) scale(1.47,1)" font-size="13.0" text-anchor="middle" stroke="#000" stroke-width="0.3">p<0.001</text>
<text transform="translate(1050.00,1558.00) scale(1.55,1) rotate(-45)" font-size="15.3" text-anchor="end" stroke="#000" stroke-width="0.35">NK cells resting</text>
<path d="M1115.90,1411.20 C1116.32,1414.17 1117.48,1422.70 1118.40,1429.00 C1119.32,1435.30 1120.57,1442.33 1121.40,1449.00 C1122.23,1455.67 1122.73,1462.33 1123.40,1469.00 C1124.07,1475.67 1125.07,1482.92 1125.40,1489.00 C1125.73,1495.08 1125.40,1502.75 1125.40,1505.50 L1103.40,1505.50 C1103.40,1502.75 1103.07,1495.08 1103.40,1489.00 C1103.73,1482.92 1104.73,1475.67 1105.40,1469.00 C1106.07,1462.33 1106.57,1455.67 1107.40,1449.00 C1108.23,1442.33 1109.48,1435.30 1110.40,1429.00 C1111.32,1422.70 1112.48,1414.17 1112.90,1411.20 Z" fill="#0000FF" stroke="#000" stroke-width="1.5" stroke-linejoin="round"/>
<line x1="1114.4" y1="1411.2" x2="1114.4" y2="1505.5" stroke="#000" stroke-width="1.3"/>
<line x1="1114.4" y1="1455" x2="1114.4" y2="1505.5" stroke="#000" stroke-width="3"/>
<ellipse cx="1114.4" cy="1481.9" rx="6" ry="4" fill="#fff"/>
<path d="M1143.00,1414.20 C1143.58,1416.67 1145.25,1423.20 1146.50,1429.00 C1147.75,1434.80 1149.50,1443.33 1150.50,1449.00 C1151.50,1454.67 1152.83,1458.00 1152.50,1463.00 C1152.17,1468.00 1149.83,1474.33 1148.50,1479.00 C1147.17,1483.67 1145.17,1488.18 1144.50,1491.00 C1143.83,1493.82 1144.50,1495.08 1144.50,1495.90 L1138.50,1495.90 C1138.50,1495.08 1139.17,1493.82 1138.50,1491.00 C1137.83,1488.18 1135.83,1483.67 1134.50,1479.00 C1133.17,1474.33 1130.83,1468.00 1130.50,1463.00 C1130.17,1458.00 1131.50,1454.67 1132.50,1449.00 C1133.50,1443.33 1135.25,1434.80 1136.50,1429.00 C1137.75,1423.20 1139.42,1416.67 1140.00,1414.20 Z" fill="#FF0000" stroke="#000" stroke-width="1.5" stroke-linejoin="round"/>
<line x1="1141.5" y1="1414.2" x2="1141.5" y2="1495.9" stroke="#000" stroke-width="1.3"/>
<line x1="1141.5" y1="1440" x2="1141.5" y2="1478" stroke="#000" stroke-width="3"/>
<ellipse cx="1141.5" cy="1461" rx="6" ry="4" fill="#fff"/>
<line x1="1119.6" y1="1411.2" x2="1136.4" y2="1411.2" stroke="#000" stroke-width="1.3"/>
<text transform="translate(1128.00,1394.90) scale(1.47,1)" font-size="13.0" text-anchor="middle" stroke="#000" stroke-width="0.3">p<0.001</text>
<text transform="translate(1131.50,1558.00) scale(1.55,1) rotate(-45)" font-size="15.3" text-anchor="end" stroke="#000" stroke-width="0.35">NK cells activated</text>
<path d="M1196.30,1231.60 C1196.38,1242.67 1196.40,1281.93 1196.80,1298.00 C1197.20,1314.07 1197.80,1318.17 1198.70,1328.00 C1199.60,1337.83 1201.07,1347.33 1202.20,1357.00 C1203.33,1366.67 1204.72,1375.50 1205.50,1386.00 C1206.28,1396.50 1207.15,1407.67 1206.90,1420.00 C1206.65,1432.33 1205.27,1448.50 1204.00,1460.00 C1202.73,1471.50 1200.28,1481.42 1199.30,1489.00 C1198.32,1496.58 1198.30,1502.75 1198.10,1505.50 L1193.50,1505.50 C1193.30,1502.75 1193.28,1496.58 1192.30,1489.00 C1191.32,1481.42 1188.87,1471.50 1187.60,1460.00 C1186.33,1448.50 1184.95,1432.33 1184.70,1420.00 C1184.45,1407.67 1185.32,1396.50 1186.10,1386.00 C1186.88,1375.50 1188.27,1366.67 1189.40,1357.00 C1190.53,1347.33 1192.00,1337.83 1192.90,1328.00 C1193.80,1318.17 1194.40,1314.07 1194.80,1298.00 C1195.20,1281.93 1195.22,1242.67 1195.30,1231.60 Z" fill="#0000FF" stroke="#000" stroke-width="1.5" stroke-linejoin="round"/>
<line x1="1195.8" y1="1231.6" x2="1195.8" y2="1505.5" stroke="#000" stroke-width="1.3"/>
<line x1="1195.8" y1="1395" x2="1195.8" y2="1448" stroke="#000" stroke-width="3"/>
<ellipse cx="1195.8" cy="1422.1" rx="6" ry="4" fill="#fff"/>
<path d="M1223.90,1331.50 C1224.32,1335.75 1225.28,1347.92 1226.40,1357.00 C1227.52,1366.08 1229.42,1375.50 1230.60,1386.00 C1231.78,1396.50 1233.40,1407.67 1233.50,1420.00 C1233.60,1432.33 1232.32,1448.50 1231.20,1460.00 C1230.08,1471.50 1227.77,1481.42 1226.80,1489.00 C1225.83,1496.58 1225.63,1502.75 1225.40,1505.50 L1219.40,1505.50 C1219.17,1502.75 1218.97,1496.58 1218.00,1489.00 C1217.03,1481.42 1214.72,1471.50 1213.60,1460.00 C1212.48,1448.50 1211.20,1432.33 1211.30,1420.00 C1211.40,1407.67 1213.02,1396.50 1214.20,1386.00 C1215.38,1375.50 1217.28,1366.08 1218.40,1357.00 C1219.52,1347.92 1220.48,1335.75 1220.90,1331.50 Z" fill="#FF0000" stroke="#000" stroke-width="1.5" stroke-linejoin="round"/>
<line x1="1222.4" y1="1331.5" x2="1222.4" y2="1505.5" stroke="#000" stroke-width="1.3"/>
<line x1="1222.4" y1="1407" x2="1222.4" y2="1460" stroke="#000" stroke-width="3"/>
<ellipse cx="1222.4" cy="1433.2" rx="6" ry="4" fill="#fff"/>
<line x1="1201.0" y1="1231.6" x2="1217.8" y2="1231.6" stroke="#000" stroke-width="1.3"/>
<text transform="translate(1209.40,1215.30) scale(1.47,1)" font-size="13.0" text-anchor="middle" stroke="#000" stroke-width="0.3">p=0.02</text>
<text transform="translate(1212.90,1558.00) scale(1.55,1) rotate(-45)" font-size="15.3" text-anchor="end" stroke="#000" stroke-width="0.35">Monocytes</text>
<path d="M1277.70,1193.50 C1277.78,1218.25 1277.80,1309.92 1278.20,1342.00 C1278.60,1374.08 1279.28,1373.67 1280.10,1386.00 C1280.92,1398.33 1282.22,1406.17 1283.10,1416.00 C1283.98,1425.83 1284.67,1435.33 1285.40,1445.00 C1286.13,1454.67 1287.02,1463.92 1287.50,1474.00 C1287.98,1484.08 1288.17,1500.25 1288.30,1505.50 L1266.10,1505.50 C1266.23,1500.25 1266.42,1484.08 1266.90,1474.00 C1267.38,1463.92 1268.27,1454.67 1269.00,1445.00 C1269.73,1435.33 1270.42,1425.83 1271.30,1416.00 C1272.18,1406.17 1273.48,1398.33 1274.30,1386.00 C1275.12,1373.67 1275.80,1374.08 1276.20,1342.00 C1276.60,1309.92 1276.62,1218.25 1276.70,1193.50 Z" fill="#0000FF" stroke="#000" stroke-width="1.5" stroke-linejoin="round"/>
<line x1="1277.2" y1="1193.5" x2="1277.2" y2="1505.5" stroke="#000" stroke-width="1.3"/>
<line x1="1277.2" y1="1470" x2="1277.2" y2="1505.5" stroke="#000" stroke-width="3"/>
<ellipse cx="1277.2" cy="1505.5" rx="6" ry="4" fill="#fff"/>
<path d="M1304.70,1287.30 C1304.78,1303.75 1304.78,1362.22 1305.20,1386.00 C1305.62,1409.78 1306.38,1417.67 1307.20,1430.00 C1308.02,1442.33 1309.03,1451.17 1310.10,1460.00 C1311.17,1468.83 1312.73,1475.42 1313.60,1483.00 C1314.47,1490.58 1315.02,1501.75 1315.30,1505.50 L1293.10,1505.50 C1293.38,1501.75 1293.93,1490.58 1294.80,1483.00 C1295.67,1475.42 1297.23,1468.83 1298.30,1460.00 C1299.37,1451.17 1300.38,1442.33 1301.20,1430.00 C1302.02,1417.67 1302.78,1409.78 1303.20,1386.00 C1303.62,1362.22 1303.62,1303.75 1303.70,1287.30 Z" fill="#FF0000" stroke="#000" stroke-width="1.5" stroke-linejoin="round"/>
<line x1="1304.2" y1="1287.3" x2="1304.2" y2="1505.5" stroke="#000" stroke-width="1.3"/>
<line x1="1304.2" y1="1475" x2="1304.2" y2="1505.5" stroke="#000" stroke-width="3"/>
<ellipse cx="1304.2" cy="1505.5" rx="6" ry="4" fill="#fff"/>
<line x1="1282.4" y1="1193.5" x2="1299.2" y2="1193.5" stroke="#000" stroke-width="1.3"/>
<text transform="translate(1290.80,1177.20) scale(1.47,1)" font-size="13.0" text-anchor="middle" stroke="#000" stroke-width="0.3">p=0.333</text>
<text transform="translate(1294.30,1558.00) scale(1.55,1) rotate(-45)" font-size="15.3" text-anchor="end" stroke="#000" stroke-width="0.35">Macrophages M0</text>
<path d="M1358.90,1379.90 C1358.98,1385.92 1358.80,1406.65 1359.40,1416.00 C1360.00,1425.35 1361.45,1428.67 1362.50,1436.00 C1363.55,1443.33 1364.67,1452.17 1365.70,1460.00 C1366.73,1467.83 1368.55,1475.42 1368.70,1483.00 C1368.85,1490.58 1366.95,1501.75 1366.60,1505.50 L1350.20,1505.50 C1349.85,1501.75 1347.95,1490.58 1348.10,1483.00 C1348.25,1475.42 1350.07,1467.83 1351.10,1460.00 C1352.13,1452.17 1353.25,1443.33 1354.30,1436.00 C1355.35,1428.67 1356.80,1425.35 1357.40,1416.00 C1358.00,1406.65 1357.82,1385.92 1357.90,1379.90 Z" fill="#0000FF" stroke="#000" stroke-width="1.5" stroke-linejoin="round"/>
<line x1="1358.4" y1="1379.9" x2="1358.4" y2="1505.5" stroke="#000" stroke-width="1.3"/>
<line x1="1358.4" y1="1465" x2="1358.4" y2="1505.5" stroke="#000" stroke-width="3"/>
<ellipse cx="1358.4" cy="1481.6" rx="6" ry="4" fill="#fff"/>
<path d="M1387.20,1398.10 C1387.63,1400.08 1388.68,1404.68 1389.80,1410.00 C1390.92,1415.32 1392.82,1424.67 1393.90,1430.00 C1394.98,1435.33 1396.45,1437.00 1396.30,1442.00 C1396.15,1447.00 1394.27,1454.17 1393.00,1460.00 C1391.73,1465.83 1389.67,1472.17 1388.70,1477.00 C1387.73,1481.83 1387.53,1484.25 1387.20,1489.00 C1386.87,1493.75 1386.78,1502.75 1386.70,1505.50 L1384.70,1505.50 C1384.62,1502.75 1384.53,1493.75 1384.20,1489.00 C1383.87,1484.25 1383.67,1481.83 1382.70,1477.00 C1381.73,1472.17 1379.67,1465.83 1378.40,1460.00 C1377.13,1454.17 1375.25,1447.00 1375.10,1442.00 C1374.95,1437.00 1376.42,1435.33 1377.50,1430.00 C1378.58,1424.67 1380.48,1415.32 1381.60,1410.00 C1382.72,1404.68 1383.77,1400.08 1384.20,1398.10 Z" fill="#FF0000" stroke="#000" stroke-width="1.5" stroke-linejoin="round"/>
<line x1="1385.7" y1="1398.1" x2="1385.7" y2="1505.5" stroke="#000" stroke-width="1.3"/>
<line x1="1385.7" y1="1424.5" x2="1385.7" y2="1462.6" stroke="#000" stroke-width="3"/>
<ellipse cx="1385.7" cy="1441.2" rx="6" ry="4" fill="#fff"/>
<line x1="1363.6" y1="1379.9" x2="1380.4" y2="1379.9" stroke="#000" stroke-width="1.3"/>
<text transform="translate(1372.00,1363.60) scale(1.47,1)" font-size="13.0" text-anchor="middle" stroke="#000" stroke-width="0.3">p<0.001</text>
<text transform="translate(1375.50,1558.00) scale(1.55,1) rotate(-45)" font-size="15.3" text-anchor="end" stroke="#000" stroke-width="0.35">Macrophages M1</text>
<path d="M1441.90,1064.00 C1442.07,1068.83 1442.25,1080.83 1442.90,1093.00 C1443.55,1105.17 1444.83,1122.33 1445.80,1137.00 C1446.77,1151.67 1447.83,1166.33 1448.70,1181.00 C1449.57,1195.67 1450.62,1212.67 1451.00,1225.00 C1451.38,1237.33 1451.13,1242.83 1451.00,1255.00 C1450.87,1267.17 1450.98,1283.50 1450.20,1298.00 C1449.42,1312.50 1447.63,1327.33 1446.30,1342.00 C1444.97,1356.67 1443.10,1376.17 1442.20,1386.00 C1441.30,1395.83 1441.18,1387.67 1440.90,1401.00 C1440.62,1414.33 1440.57,1455.17 1440.50,1466.00 L1439.30,1466.00 C1439.23,1455.17 1439.18,1414.33 1438.90,1401.00 C1438.62,1387.67 1438.50,1395.83 1437.60,1386.00 C1436.70,1376.17 1434.83,1356.67 1433.50,1342.00 C1432.17,1327.33 1430.38,1312.50 1429.60,1298.00 C1428.82,1283.50 1428.93,1267.17 1428.80,1255.00 C1428.67,1242.83 1428.42,1237.33 1428.80,1225.00 C1429.18,1212.67 1430.23,1195.67 1431.10,1181.00 C1431.97,1166.33 1433.03,1151.67 1434.00,1137.00 C1434.97,1122.33 1436.25,1105.17 1436.90,1093.00 C1437.55,1080.83 1437.73,1068.83 1437.90,1064.00 Z" fill="#0000FF" stroke="#000" stroke-width="1.5" stroke-linejoin="round"/>
<line x1="1439.9" y1="1064" x2="1439.9" y2="1466" stroke="#000" stroke-width="1.3"/>
<line x1="1439.9" y1="1195.8" x2="1439.9" y2="1277.9" stroke="#000" stroke-width="3"/>
<ellipse cx="1439.9" cy="1234" rx="6" ry="4" fill="#fff"/>
<path d="M1468.70,1056.60 C1468.98,1065.17 1469.63,1092.10 1470.40,1108.00 C1471.17,1123.90 1472.32,1137.33 1473.30,1152.00 C1474.28,1166.67 1475.52,1181.33 1476.30,1196.00 C1477.08,1210.67 1477.72,1225.33 1478.00,1240.00 C1478.28,1254.67 1478.48,1269.33 1478.00,1284.00 C1477.52,1298.67 1476.22,1315.83 1475.10,1328.00 C1473.98,1340.17 1472.17,1348.50 1471.30,1357.00 C1470.43,1365.50 1470.13,1375.33 1469.90,1379.00 L1463.90,1379.00 C1463.67,1375.33 1463.37,1365.50 1462.50,1357.00 C1461.63,1348.50 1459.82,1340.17 1458.70,1328.00 C1457.58,1315.83 1456.28,1298.67 1455.80,1284.00 C1455.32,1269.33 1455.52,1254.67 1455.80,1240.00 C1456.08,1225.33 1456.72,1210.67 1457.50,1196.00 C1458.28,1181.33 1459.52,1166.67 1460.50,1152.00 C1461.48,1137.33 1462.63,1123.90 1463.40,1108.00 C1464.17,1092.10 1464.82,1065.17 1465.10,1056.60 Z" fill="#FF0000" stroke="#000" stroke-width="1.5" stroke-linejoin="round"/>
<line x1="1466.9" y1="1056.6" x2="1466.9" y2="1379" stroke="#000" stroke-width="1.3"/>
<line x1="1466.9" y1="1207.6" x2="1466.9" y2="1307.2" stroke="#000" stroke-width="3"/>
<ellipse cx="1466.9" cy="1264.7" rx="6" ry="4" fill="#fff"/>
<line x1="1445.1" y1="1056.6" x2="1461.9" y2="1056.6" stroke="#000" stroke-width="1.3"/>
<text transform="translate(1453.50,1040.30) scale(1.47,1)" font-size="13.0" text-anchor="middle" stroke="#000" stroke-width="0.3">p=0.066</text>
<text transform="translate(1457.00,1558.00) scale(1.55,1) rotate(-45)" font-size="15.3" text-anchor="end" stroke="#000" stroke-width="0.35">Macrophages M2</text>
<path d="M1521.30,1312.50 C1521.35,1327.08 1521.42,1380.58 1521.60,1400.00 C1521.78,1419.42 1521.90,1420.83 1522.40,1429.00 C1522.90,1437.17 1523.73,1442.33 1524.60,1449.00 C1525.47,1455.67 1526.63,1462.33 1527.60,1469.00 C1528.57,1475.67 1529.70,1482.92 1530.40,1489.00 C1531.10,1495.08 1531.57,1502.75 1531.80,1505.50 L1509.80,1505.50 C1510.03,1502.75 1510.50,1495.08 1511.20,1489.00 C1511.90,1482.92 1513.03,1475.67 1514.00,1469.00 C1514.97,1462.33 1516.13,1455.67 1517.00,1449.00 C1517.87,1442.33 1518.70,1437.17 1519.20,1429.00 C1519.70,1420.83 1519.82,1419.42 1520.00,1400.00 C1520.18,1380.58 1520.25,1327.08 1520.30,1312.50 Z" fill="#0000FF" stroke="#000" stroke-width="1.5" stroke-linejoin="round"/>
<line x1="1520.8" y1="1312.5" x2="1520.8" y2="1505.5" stroke="#000" stroke-width="1.3"/>
<ellipse cx="1520.8" cy="1505.5" rx="6" ry="4" fill="#fff"/>
<path d="M1548.60,1375.30 C1548.65,1386.08 1548.65,1426.22 1548.90,1440.00 C1549.15,1453.78 1549.48,1452.67 1550.10,1458.00 C1550.72,1463.33 1551.60,1467.00 1552.60,1472.00 C1553.60,1477.00 1555.02,1482.42 1556.10,1488.00 C1557.18,1493.58 1558.60,1502.58 1559.10,1505.50 L1537.10,1505.50 C1537.60,1502.58 1539.02,1493.58 1540.10,1488.00 C1541.18,1482.42 1542.60,1477.00 1543.60,1472.00 C1544.60,1467.00 1545.48,1463.33 1546.10,1458.00 C1546.72,1452.67 1547.05,1453.78 1547.30,1440.00 C1547.55,1426.22 1547.55,1386.08 1547.60,1375.30 Z" fill="#FF0000" stroke="#000" stroke-width="1.5" stroke-linejoin="round"/>
<line x1="1548.1" y1="1375.3" x2="1548.1" y2="1505.5" stroke="#000" stroke-width="1.3"/>
<line x1="1548.1" y1="1480" x2="1548.1" y2="1505.5" stroke="#000" stroke-width="3"/>
<ellipse cx="1548.1" cy="1505.5" rx="6" ry="4" fill="#fff"/>
<line x1="1526.0" y1="1312.5" x2="1542.8" y2="1312.5" stroke="#000" stroke-width="1.3"/>
<text transform="translate(1534.40,1296.20) scale(1.47,1)" font-size="13.0" text-anchor="middle" stroke="#000" stroke-width="0.3">p<0.001</text>
<text transform="translate(1537.90,1558.00) scale(1.55,1) rotate(-45)" font-size="15.3" text-anchor="end" stroke="#000" stroke-width="0.35">Dendritic cells resting</text>
<path d="M1602.60,1408.70 C1602.65,1415.58 1602.62,1440.62 1602.90,1450.00 C1603.18,1459.38 1603.60,1460.33 1604.30,1465.00 C1605.00,1469.67 1606.00,1473.50 1607.10,1478.00 C1608.20,1482.50 1609.90,1487.42 1610.90,1492.00 C1611.90,1496.58 1612.73,1503.25 1613.10,1505.50 L1591.10,1505.50 C1591.47,1503.25 1592.30,1496.58 1593.30,1492.00 C1594.30,1487.42 1596.00,1482.50 1597.10,1478.00 C1598.20,1473.50 1599.20,1469.67 1599.90,1465.00 C1600.60,1460.33 1601.02,1459.38 1601.30,1450.00 C1601.58,1440.62 1601.55,1415.58 1601.60,1408.70 Z" fill="#0000FF" stroke="#000" stroke-width="1.5" stroke-linejoin="round"/>
<line x1="1602.1" y1="1408.7" x2="1602.1" y2="1505.5" stroke="#000" stroke-width="1.3"/>
<ellipse cx="1602.1" cy="1505.5" rx="6" ry="4" fill="#fff"/>
<path d="M1630.90,1437.00 C1630.98,1440.67 1630.65,1452.00 1631.40,1459.00 C1632.15,1466.00 1634.07,1473.00 1635.40,1479.00 C1636.73,1485.00 1638.57,1490.58 1639.40,1495.00 C1640.23,1499.42 1640.23,1503.75 1640.40,1505.50 L1618.40,1505.50 C1618.57,1503.75 1618.57,1499.42 1619.40,1495.00 C1620.23,1490.58 1622.07,1485.00 1623.40,1479.00 C1624.73,1473.00 1626.65,1466.00 1627.40,1459.00 C1628.15,1452.00 1627.82,1440.67 1627.90,1437.00 Z" fill="#FF0000" stroke="#000" stroke-width="1.5" stroke-linejoin="round"/>
<line x1="1629.4" y1="1437" x2="1629.4" y2="1505.5" stroke="#000" stroke-width="1.3"/>
<line x1="1629.4" y1="1470" x2="1629.4" y2="1505.5" stroke="#000" stroke-width="3"/>
<ellipse cx="1629.4" cy="1501.2" rx="6" ry="4" fill="#fff"/>
<line x1="1607.3" y1="1408.7" x2="1624.1" y2="1408.7" stroke="#000" stroke-width="1.3"/>
<text transform="translate(1615.70,1392.40) scale(1.47,1)" font-size="13.0" text-anchor="middle" stroke="#000" stroke-width="0.3">p<0.001</text>
<text transform="translate(1619.20,1558.00) scale(1.55,1) rotate(-45)" font-size="15.3" text-anchor="end" stroke="#000" stroke-width="0.35">Dendritic cells activated</text>
<path d="M1684.60,1232.80 C1685.17,1237.33 1686.83,1250.47 1688.00,1260.00 C1689.17,1269.53 1690.67,1280.00 1691.60,1290.00 C1692.53,1300.00 1693.10,1310.00 1693.60,1320.00 C1694.10,1330.00 1694.43,1341.67 1694.60,1350.00 C1694.77,1358.33 1694.93,1361.83 1694.60,1370.00 C1694.27,1378.17 1693.27,1387.50 1692.60,1399.00 C1691.93,1410.50 1691.27,1425.67 1690.60,1439.00 C1689.93,1452.33 1689.10,1467.92 1688.60,1479.00 C1688.10,1490.08 1687.77,1501.08 1687.60,1505.50 L1679.60,1505.50 C1679.43,1501.08 1679.10,1490.08 1678.60,1479.00 C1678.10,1467.92 1677.27,1452.33 1676.60,1439.00 C1675.93,1425.67 1675.27,1410.50 1674.60,1399.00 C1673.93,1387.50 1672.93,1378.17 1672.60,1370.00 C1672.27,1361.83 1672.43,1358.33 1672.60,1350.00 C1672.77,1341.67 1673.10,1330.00 1673.60,1320.00 C1674.10,1310.00 1674.67,1300.00 1675.60,1290.00 C1676.53,1280.00 1678.03,1269.53 1679.20,1260.00 C1680.37,1250.47 1682.03,1237.33 1682.60,1232.80 Z" fill="#0000FF" stroke="#000" stroke-width="1.5" stroke-linejoin="round"/>
<line x1="1683.6" y1="1232.8" x2="1683.6" y2="1505.5" stroke="#000" stroke-width="1.3"/>
<line x1="1683.6" y1="1327.4" x2="1683.6" y2="1425.1" stroke="#000" stroke-width="3"/>
<ellipse cx="1683.6" cy="1370.9" rx="6" ry="4" fill="#fff"/>
<path d="M1711.20,1265.70 C1711.28,1276.25 1711.28,1313.45 1711.70,1329.00 C1712.12,1344.55 1712.87,1349.00 1713.70,1359.00 C1714.53,1369.00 1715.70,1379.00 1716.70,1389.00 C1717.70,1399.00 1718.87,1409.00 1719.70,1419.00 C1720.53,1429.00 1721.53,1440.67 1721.70,1449.00 C1721.87,1457.33 1721.37,1463.00 1720.70,1469.00 C1720.03,1475.00 1718.20,1481.10 1717.70,1485.00 C1717.20,1488.90 1717.70,1491.17 1717.70,1492.40 L1703.70,1492.40 C1703.70,1491.17 1704.20,1488.90 1703.70,1485.00 C1703.20,1481.10 1701.37,1475.00 1700.70,1469.00 C1700.03,1463.00 1699.53,1457.33 1699.70,1449.00 C1699.87,1440.67 1700.87,1429.00 1701.70,1419.00 C1702.53,1409.00 1703.70,1399.00 1704.70,1389.00 C1705.70,1379.00 1706.87,1369.00 1707.70,1359.00 C1708.53,1349.00 1709.28,1344.55 1709.70,1329.00 C1710.12,1313.45 1710.12,1276.25 1710.20,1265.70 Z" fill="#FF0000" stroke="#000" stroke-width="1.5" stroke-linejoin="round"/>
<line x1="1710.7" y1="1265.7" x2="1710.7" y2="1492.4" stroke="#000" stroke-width="1.3"/>
<line x1="1710.7" y1="1401" x2="1710.7" y2="1490.8" stroke="#000" stroke-width="3"/>
<ellipse cx="1710.7" cy="1450" rx="6" ry="4" fill="#fff"/>
<line x1="1688.8" y1="1232.8" x2="1705.6" y2="1232.8" stroke="#000" stroke-width="1.3"/>
<text transform="translate(1697.20,1216.50) scale(1.47,1)" font-size="13.0" text-anchor="middle" stroke="#000" stroke-width="0.3">p<0.001</text>
<text transform="translate(1700.70,1558.00) scale(1.55,1) rotate(-45)" font-size="15.3" text-anchor="end" stroke="#000" stroke-width="0.35">Mast cells resting</text>
<path d="M1765.40,1309.90 C1765.48,1328.08 1765.72,1397.48 1765.90,1419.00 C1766.08,1440.52 1765.93,1432.33 1766.50,1439.00 C1767.07,1445.67 1768.30,1452.33 1769.30,1459.00 C1770.30,1465.67 1771.57,1473.00 1772.50,1479.00 C1773.43,1485.00 1774.33,1490.58 1774.90,1495.00 C1775.47,1499.42 1775.73,1503.75 1775.90,1505.50 L1753.90,1505.50 C1754.07,1503.75 1754.33,1499.42 1754.90,1495.00 C1755.47,1490.58 1756.37,1485.00 1757.30,1479.00 C1758.23,1473.00 1759.50,1465.67 1760.50,1459.00 C1761.50,1452.33 1762.73,1445.67 1763.30,1439.00 C1763.87,1432.33 1763.72,1440.52 1763.90,1419.00 C1764.08,1397.48 1764.32,1328.08 1764.40,1309.90 Z" fill="#0000FF" stroke="#000" stroke-width="1.5" stroke-linejoin="round"/>
<line x1="1764.9" y1="1309.9" x2="1764.9" y2="1505.5" stroke="#000" stroke-width="1.3"/>
<ellipse cx="1764.9" cy="1505.5" rx="6" ry="4" fill="#fff"/>
<path d="M1792.90,1489.80 C1792.92,1492.00 1792.08,1500.38 1793.00,1503.00 C1793.92,1505.62 1797.50,1505.08 1798.40,1505.50 L1786.40,1505.50 C1787.30,1505.08 1790.88,1505.62 1791.80,1503.00 C1792.72,1500.38 1791.88,1492.00 1791.90,1489.80 Z" fill="#FF0000" stroke="#000" stroke-width="1.5" stroke-linejoin="round"/>
<line x1="1792.4" y1="1489.8" x2="1792.4" y2="1505.5" stroke="#000" stroke-width="1.3"/>
<line x1="1770.1" y1="1309.9" x2="1786.9" y2="1309.9" stroke="#000" stroke-width="1.3"/>
<text transform="translate(1778.50,1293.60) scale(1.47,1)" font-size="13.0" text-anchor="middle" stroke="#000" stroke-width="0.3">p=0.002</text>
<text transform="translate(1782.00,1558.00) scale(1.55,1) rotate(-45)" font-size="15.3" text-anchor="end" stroke="#000" stroke-width="0.35">Mast cells activated</text>
<path d="M1846.50,1416.70 C1846.55,1422.58 1846.55,1443.78 1846.80,1452.00 C1847.05,1460.22 1847.33,1461.50 1848.00,1466.00 C1848.67,1470.50 1849.72,1474.67 1850.80,1479.00 C1851.88,1483.33 1853.47,1487.58 1854.50,1492.00 C1855.53,1496.42 1856.58,1503.25 1857.00,1505.50 L1835.00,1505.50 C1835.42,1503.25 1836.47,1496.42 1837.50,1492.00 C1838.53,1487.58 1840.12,1483.33 1841.20,1479.00 C1842.28,1474.67 1843.33,1470.50 1844.00,1466.00 C1844.67,1461.50 1844.95,1460.22 1845.20,1452.00 C1845.45,1443.78 1845.45,1422.58 1845.50,1416.70 Z" fill="#0000FF" stroke="#000" stroke-width="1.5" stroke-linejoin="round"/>
<line x1="1846.0" y1="1416.7" x2="1846.0" y2="1505.5" stroke="#000" stroke-width="1.3"/>
<ellipse cx="1846.0" cy="1505.5" rx="6" ry="4" fill="#fff"/>
<path d="M1873.60,1446.00 C1873.65,1452.50 1873.57,1477.33 1873.90,1485.00 C1874.23,1492.67 1874.73,1489.83 1875.60,1492.00 C1876.47,1494.17 1877.68,1495.75 1879.10,1498.00 C1880.52,1500.25 1883.27,1504.25 1884.10,1505.50 L1862.10,1505.50 C1862.93,1504.25 1865.68,1500.25 1867.10,1498.00 C1868.52,1495.75 1869.73,1494.17 1870.60,1492.00 C1871.47,1489.83 1871.97,1492.67 1872.30,1485.00 C1872.63,1477.33 1872.55,1452.50 1872.60,1446.00 Z" fill="#FF0000" stroke="#000" stroke-width="1.5" stroke-linejoin="round"/>
<line x1="1873.1" y1="1446" x2="1873.1" y2="1505.5" stroke="#000" stroke-width="1.3"/>
<ellipse cx="1873.1" cy="1505.5" rx="6" ry="4" fill="#fff"/>
<line x1="1851.2" y1="1416.7" x2="1868.0" y2="1416.7" stroke="#000" stroke-width="1.3"/>
<text transform="translate(1859.60,1400.40) scale(1.47,1)" font-size="13.0" text-anchor="middle" stroke="#000" stroke-width="0.3">p=0.125</text>
<text transform="translate(1863.10,1558.00) scale(1.55,1) rotate(-45)" font-size="15.3" text-anchor="end" stroke="#000" stroke-width="0.35">Eosinophils</text>
<path d="M1928.10,1275.00 C1928.18,1289.00 1928.42,1338.33 1928.60,1359.00 C1928.78,1379.67 1928.70,1387.33 1929.20,1399.00 C1929.70,1410.67 1930.70,1419.00 1931.60,1429.00 C1932.50,1439.00 1933.67,1450.67 1934.60,1459.00 C1935.53,1467.33 1936.53,1473.00 1937.20,1479.00 C1937.87,1485.00 1938.37,1490.58 1938.60,1495.00 C1938.83,1499.42 1938.60,1503.75 1938.60,1505.50 L1916.60,1505.50 C1916.60,1503.75 1916.37,1499.42 1916.60,1495.00 C1916.83,1490.58 1917.33,1485.00 1918.00,1479.00 C1918.67,1473.00 1919.67,1467.33 1920.60,1459.00 C1921.53,1450.67 1922.70,1439.00 1923.60,1429.00 C1924.50,1419.00 1925.50,1410.67 1926.00,1399.00 C1926.50,1387.33 1926.42,1379.67 1926.60,1359.00 C1926.78,1338.33 1927.02,1289.00 1927.10,1275.00 Z" fill="#0000FF" stroke="#000" stroke-width="1.5" stroke-linejoin="round"/>
<line x1="1927.6" y1="1275" x2="1927.6" y2="1505.5" stroke="#000" stroke-width="1.3"/>
<line x1="1927.6" y1="1440" x2="1927.6" y2="1505.5" stroke="#000" stroke-width="3"/>
<ellipse cx="1927.6" cy="1491.8" rx="6" ry="4" fill="#fff"/>
<path d="M1955.60,1447.00 C1955.68,1451.67 1955.68,1468.00 1956.10,1475.00 C1956.52,1482.00 1957.10,1485.00 1958.10,1489.00 C1959.10,1493.00 1960.77,1496.25 1962.10,1499.00 C1963.43,1501.75 1965.43,1504.42 1966.10,1505.50 L1944.10,1505.50 C1944.77,1504.42 1946.77,1501.75 1948.10,1499.00 C1949.43,1496.25 1951.10,1493.00 1952.10,1489.00 C1953.10,1485.00 1953.68,1482.00 1954.10,1475.00 C1954.52,1468.00 1954.52,1451.67 1954.60,1447.00 Z" fill="#FF0000" stroke="#000" stroke-width="1.5" stroke-linejoin="round"/>
<line x1="1955.1" y1="1447" x2="1955.1" y2="1505.5" stroke="#000" stroke-width="1.3"/>
<ellipse cx="1955.1" cy="1505.5" rx="6" ry="4" fill="#fff"/>
<line x1="1932.8" y1="1275" x2="1949.6" y2="1275" stroke="#000" stroke-width="1.3"/>
<text transform="translate(1941.20,1258.70) scale(1.47,1)" font-size="13.0" text-anchor="middle" stroke="#000" stroke-width="0.3">p<0.001</text>
<text transform="translate(1944.70,1558.00) scale(1.55,1) rotate(-45)" font-size="15.3" text-anchor="end" stroke="#000" stroke-width="0.35">Neutrophils</text>
</svg></body></html>
